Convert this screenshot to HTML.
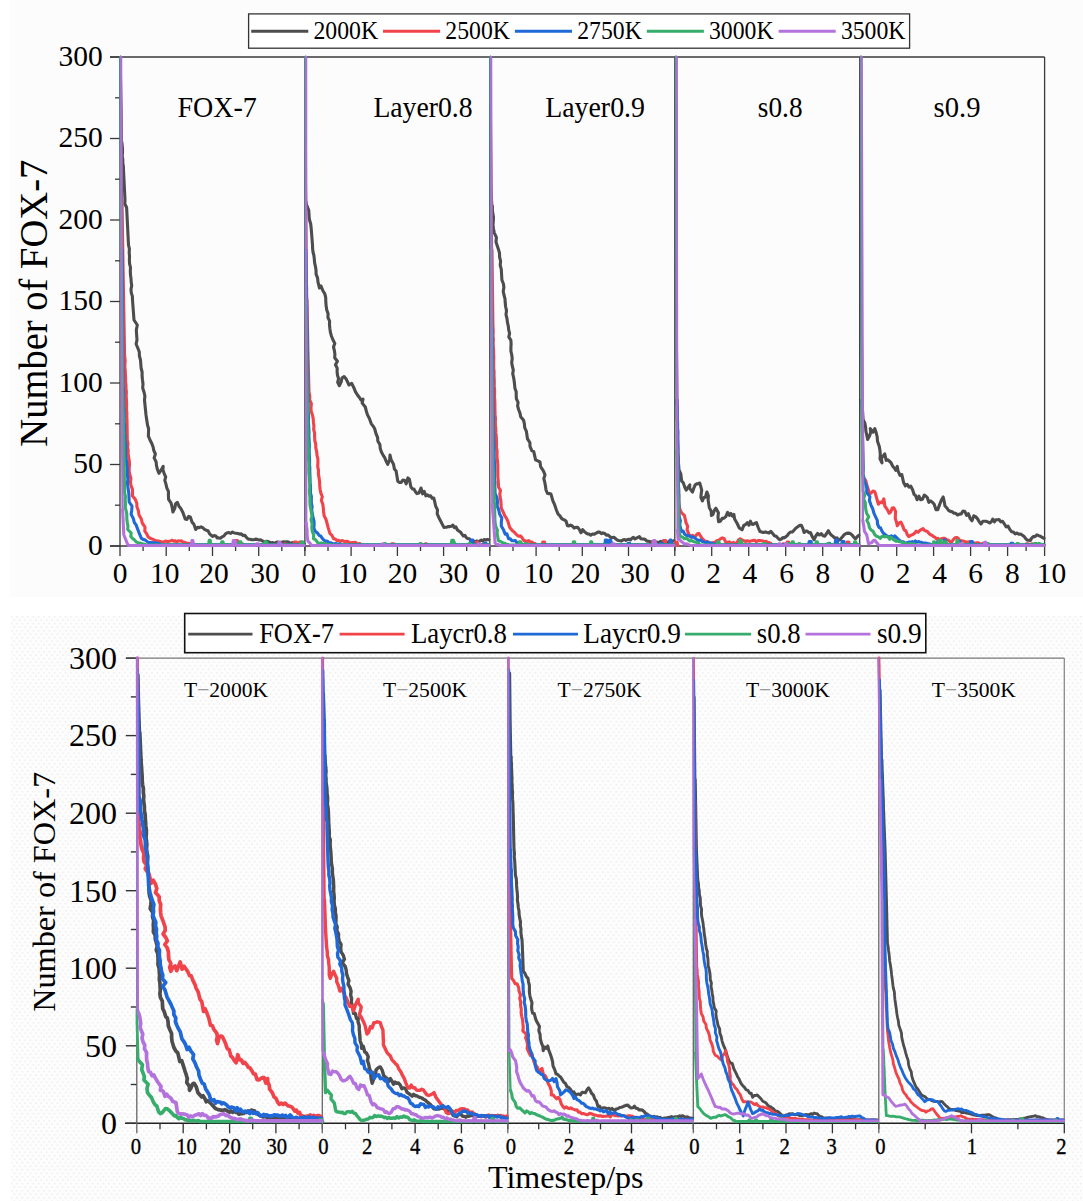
<!DOCTYPE html>
<html><head><meta charset="utf-8"><style>html,body{margin:0;padding:0;background:#fff;overflow:hidden}svg{display:block}</style></head>
<body><svg width="1083" height="1201" viewBox="0 0 1083 1201"><defs><pattern id="dots" width="5.4" height="7" patternUnits="userSpaceOnUse">
<rect width="5.4" height="7" fill="#fdfdfd"/><rect x="0" y="0" width="1.4" height="1.4" fill="#ececec"/><rect x="2.7" y="3.5" width="1.4" height="1.4" fill="#ececec"/></pattern></defs>
<rect x="0" y="0" width="1083" height="1201" fill="#ffffff"/>
<rect x="10" y="0" width="1073" height="597" fill="#fcfcfc"/>
<rect x="11" y="616" width="1072" height="585" fill="url(#dots)"/>
<g id="topaxes">
<line x1="110.0" y1="57.0" x2="1044.6" y2="57.0" stroke="#3a3a3a" stroke-width="1.3"/>
<line x1="1044.6" y1="57.0" x2="1044.6" y2="546.0" stroke="#3a3a3a" stroke-width="1.3"/>
<line x1="110.0" y1="546.0" x2="1044.6" y2="546.0" stroke="#3a3a3a" stroke-width="1.3"/>
<line x1="110.0" y1="546.0" x2="120.0" y2="546.0" stroke="#3a3a3a" stroke-width="1.3"/>
<line x1="115.0" y1="505.2" x2="120.0" y2="505.2" stroke="#3a3a3a" stroke-width="1.3"/>
<line x1="110.0" y1="464.5" x2="120.0" y2="464.5" stroke="#3a3a3a" stroke-width="1.3"/>
<line x1="115.0" y1="423.8" x2="120.0" y2="423.8" stroke="#3a3a3a" stroke-width="1.3"/>
<line x1="110.0" y1="383.0" x2="120.0" y2="383.0" stroke="#3a3a3a" stroke-width="1.3"/>
<line x1="115.0" y1="342.2" x2="120.0" y2="342.2" stroke="#3a3a3a" stroke-width="1.3"/>
<line x1="110.0" y1="301.5" x2="120.0" y2="301.5" stroke="#3a3a3a" stroke-width="1.3"/>
<line x1="115.0" y1="260.8" x2="120.0" y2="260.8" stroke="#3a3a3a" stroke-width="1.3"/>
<line x1="110.0" y1="220.0" x2="120.0" y2="220.0" stroke="#3a3a3a" stroke-width="1.3"/>
<line x1="115.0" y1="179.2" x2="120.0" y2="179.2" stroke="#3a3a3a" stroke-width="1.3"/>
<line x1="110.0" y1="138.5" x2="120.0" y2="138.5" stroke="#3a3a3a" stroke-width="1.3"/>
<line x1="115.0" y1="97.8" x2="120.0" y2="97.8" stroke="#3a3a3a" stroke-width="1.3"/>
<line x1="110.0" y1="57.0" x2="120.0" y2="57.0" stroke="#3a3a3a" stroke-width="1.3"/>
<text x="102.8" y="554.6" font-size="29.5" text-anchor="end" font-family="Liberation Serif" >0</text>
<text x="102.8" y="473.1" font-size="29.5" text-anchor="end" font-family="Liberation Serif" >50</text>
<text x="102.8" y="391.6" font-size="29.5" text-anchor="end" font-family="Liberation Serif" >100</text>
<text x="102.8" y="310.1" font-size="29.5" text-anchor="end" font-family="Liberation Serif" >150</text>
<text x="102.8" y="228.6" font-size="29.5" text-anchor="end" font-family="Liberation Serif" >200</text>
<text x="102.8" y="147.1" font-size="29.5" text-anchor="end" font-family="Liberation Serif" >250</text>
<text x="102.8" y="65.6" font-size="29.5" text-anchor="end" font-family="Liberation Serif" >300</text>
<line x1="120.0" y1="57.0" x2="120.0" y2="556.0" stroke="#3a3a3a" stroke-width="1.3"/>
<line x1="143.1" y1="546.0" x2="143.1" y2="551.0" stroke="#3a3a3a" stroke-width="1.3"/>
<line x1="166.2" y1="546.0" x2="166.2" y2="556.0" stroke="#3a3a3a" stroke-width="1.3"/>
<line x1="189.3" y1="546.0" x2="189.3" y2="551.0" stroke="#3a3a3a" stroke-width="1.3"/>
<line x1="212.5" y1="546.0" x2="212.5" y2="556.0" stroke="#3a3a3a" stroke-width="1.3"/>
<line x1="235.6" y1="546.0" x2="235.6" y2="551.0" stroke="#3a3a3a" stroke-width="1.3"/>
<line x1="258.7" y1="546.0" x2="258.7" y2="556.0" stroke="#3a3a3a" stroke-width="1.3"/>
<line x1="281.8" y1="546.0" x2="281.8" y2="551.0" stroke="#3a3a3a" stroke-width="1.3"/>
<line x1="304.9" y1="546.0" x2="304.9" y2="551.0" stroke="#3a3a3a" stroke-width="1.3"/>
<text x="120.0" y="582.6" font-size="29.5" text-anchor="middle" font-family="Liberation Serif" >0</text>
<text x="164.8" y="582.6" font-size="29.5" text-anchor="middle" font-family="Liberation Serif" >10</text>
<text x="214.0" y="582.6" font-size="29.5" text-anchor="middle" font-family="Liberation Serif" >20</text>
<text x="265.0" y="582.6" font-size="29.5" text-anchor="middle" font-family="Liberation Serif" >30</text>
<line x1="304.9" y1="57.0" x2="304.9" y2="556.0" stroke="#3a3a3a" stroke-width="1.3"/>
<line x1="328.0" y1="546.0" x2="328.0" y2="551.0" stroke="#3a3a3a" stroke-width="1.3"/>
<line x1="351.1" y1="546.0" x2="351.1" y2="556.0" stroke="#3a3a3a" stroke-width="1.3"/>
<line x1="374.3" y1="546.0" x2="374.3" y2="551.0" stroke="#3a3a3a" stroke-width="1.3"/>
<line x1="397.4" y1="546.0" x2="397.4" y2="556.0" stroke="#3a3a3a" stroke-width="1.3"/>
<line x1="420.5" y1="546.0" x2="420.5" y2="551.0" stroke="#3a3a3a" stroke-width="1.3"/>
<line x1="443.6" y1="546.0" x2="443.6" y2="556.0" stroke="#3a3a3a" stroke-width="1.3"/>
<line x1="466.7" y1="546.0" x2="466.7" y2="551.0" stroke="#3a3a3a" stroke-width="1.3"/>
<line x1="489.8" y1="546.0" x2="489.8" y2="551.0" stroke="#3a3a3a" stroke-width="1.3"/>
<text x="308.8" y="582.6" font-size="29.5" text-anchor="middle" font-family="Liberation Serif" >0</text>
<text x="352.6" y="582.6" font-size="29.5" text-anchor="middle" font-family="Liberation Serif" >10</text>
<text x="402.4" y="582.6" font-size="29.5" text-anchor="middle" font-family="Liberation Serif" >20</text>
<text x="453.5" y="582.6" font-size="29.5" text-anchor="middle" font-family="Liberation Serif" >30</text>
<line x1="489.8" y1="57.0" x2="489.8" y2="556.0" stroke="#3a3a3a" stroke-width="1.3"/>
<line x1="513.0" y1="546.0" x2="513.0" y2="551.0" stroke="#3a3a3a" stroke-width="1.3"/>
<line x1="536.1" y1="546.0" x2="536.1" y2="556.0" stroke="#3a3a3a" stroke-width="1.3"/>
<line x1="559.2" y1="546.0" x2="559.2" y2="551.0" stroke="#3a3a3a" stroke-width="1.3"/>
<line x1="582.3" y1="546.0" x2="582.3" y2="556.0" stroke="#3a3a3a" stroke-width="1.3"/>
<line x1="605.4" y1="546.0" x2="605.4" y2="551.0" stroke="#3a3a3a" stroke-width="1.3"/>
<line x1="628.5" y1="546.0" x2="628.5" y2="556.0" stroke="#3a3a3a" stroke-width="1.3"/>
<line x1="651.6" y1="546.0" x2="651.6" y2="551.0" stroke="#3a3a3a" stroke-width="1.3"/>
<line x1="674.8" y1="546.0" x2="674.8" y2="551.0" stroke="#3a3a3a" stroke-width="1.3"/>
<text x="492.9" y="582.6" font-size="29.5" text-anchor="middle" font-family="Liberation Serif" >0</text>
<text x="538.6" y="582.6" font-size="29.5" text-anchor="middle" font-family="Liberation Serif" >10</text>
<text x="585.3" y="582.6" font-size="29.5" text-anchor="middle" font-family="Liberation Serif" >20</text>
<text x="635.0" y="582.6" font-size="29.5" text-anchor="middle" font-family="Liberation Serif" >30</text>
<line x1="674.8" y1="57.0" x2="674.8" y2="556.0" stroke="#3a3a3a" stroke-width="1.3"/>
<line x1="693.3" y1="546.0" x2="693.3" y2="551.0" stroke="#3a3a3a" stroke-width="1.3"/>
<line x1="711.7" y1="546.0" x2="711.7" y2="556.0" stroke="#3a3a3a" stroke-width="1.3"/>
<line x1="730.2" y1="546.0" x2="730.2" y2="551.0" stroke="#3a3a3a" stroke-width="1.3"/>
<line x1="748.7" y1="546.0" x2="748.7" y2="556.0" stroke="#3a3a3a" stroke-width="1.3"/>
<line x1="767.2" y1="546.0" x2="767.2" y2="551.0" stroke="#3a3a3a" stroke-width="1.3"/>
<line x1="785.7" y1="546.0" x2="785.7" y2="556.0" stroke="#3a3a3a" stroke-width="1.3"/>
<line x1="804.2" y1="546.0" x2="804.2" y2="551.0" stroke="#3a3a3a" stroke-width="1.3"/>
<line x1="822.7" y1="546.0" x2="822.7" y2="556.0" stroke="#3a3a3a" stroke-width="1.3"/>
<line x1="841.2" y1="546.0" x2="841.2" y2="551.0" stroke="#3a3a3a" stroke-width="1.3"/>
<line x1="859.7" y1="546.0" x2="859.7" y2="551.0" stroke="#3a3a3a" stroke-width="1.3"/>
<text x="677.5" y="582.6" font-size="29.5" text-anchor="middle" font-family="Liberation Serif" >0</text>
<text x="713.6" y="582.6" font-size="29.5" text-anchor="middle" font-family="Liberation Serif" >2</text>
<text x="749.9" y="582.6" font-size="29.5" text-anchor="middle" font-family="Liberation Serif" >4</text>
<text x="786.5" y="582.6" font-size="29.5" text-anchor="middle" font-family="Liberation Serif" >6</text>
<text x="822.9" y="582.6" font-size="29.5" text-anchor="middle" font-family="Liberation Serif" >8</text>
<line x1="859.7" y1="57.0" x2="859.7" y2="556.0" stroke="#3a3a3a" stroke-width="1.3"/>
<line x1="878.2" y1="546.0" x2="878.2" y2="551.0" stroke="#3a3a3a" stroke-width="1.3"/>
<line x1="896.7" y1="546.0" x2="896.7" y2="556.0" stroke="#3a3a3a" stroke-width="1.3"/>
<line x1="915.2" y1="546.0" x2="915.2" y2="551.0" stroke="#3a3a3a" stroke-width="1.3"/>
<line x1="933.6" y1="546.0" x2="933.6" y2="556.0" stroke="#3a3a3a" stroke-width="1.3"/>
<line x1="952.1" y1="546.0" x2="952.1" y2="551.0" stroke="#3a3a3a" stroke-width="1.3"/>
<line x1="970.6" y1="546.0" x2="970.6" y2="556.0" stroke="#3a3a3a" stroke-width="1.3"/>
<line x1="989.1" y1="546.0" x2="989.1" y2="551.0" stroke="#3a3a3a" stroke-width="1.3"/>
<line x1="1007.6" y1="546.0" x2="1007.6" y2="556.0" stroke="#3a3a3a" stroke-width="1.3"/>
<line x1="1026.1" y1="546.0" x2="1026.1" y2="551.0" stroke="#3a3a3a" stroke-width="1.3"/>
<line x1="1044.6" y1="546.0" x2="1044.6" y2="556.0" stroke="#3a3a3a" stroke-width="1.3"/>
<text x="867.1" y="582.6" font-size="29.5" text-anchor="middle" font-family="Liberation Serif" >0</text>
<text x="903.2" y="582.6" font-size="29.5" text-anchor="middle" font-family="Liberation Serif" >2</text>
<text x="939.5" y="582.6" font-size="29.5" text-anchor="middle" font-family="Liberation Serif" >4</text>
<text x="975.7" y="582.6" font-size="29.5" text-anchor="middle" font-family="Liberation Serif" >6</text>
<text x="1012.3" y="582.6" font-size="29.5" text-anchor="middle" font-family="Liberation Serif" >8</text>
<text x="1051.6" y="582.6" font-size="29.5" text-anchor="middle" font-family="Liberation Serif" >10</text>
</g>
<text x="217.1" y="117.3" font-size="28.6" text-anchor="middle" font-family="Liberation Serif" textLength="79.4" lengthAdjust="spacingAndGlyphs" >FOX-7</text>
<text x="423.0" y="117.3" font-size="28.6" text-anchor="middle" font-family="Liberation Serif" textLength="99.2" lengthAdjust="spacingAndGlyphs" >Layer0.8</text>
<text x="595.1" y="117.3" font-size="28.6" text-anchor="middle" font-family="Liberation Serif" textLength="99.8" lengthAdjust="spacingAndGlyphs" >Layer0.9</text>
<text x="780.2" y="117.3" font-size="28.6" text-anchor="middle" font-family="Liberation Serif" textLength="44.7" lengthAdjust="spacingAndGlyphs" >s0.8</text>
<text x="957.0" y="117.3" font-size="28.6" text-anchor="middle" font-family="Liberation Serif" textLength="46.9" lengthAdjust="spacingAndGlyphs" >s0.9</text>
<text transform="translate(46.5,446.7) rotate(-90)" font-size="39" font-family="Liberation Serif" textLength="287" lengthAdjust="spacingAndGlyphs">Number of FOX-7</text>
<polyline points="120.5,57.0 120.8,74.0 121.5,110.0 121.8,142.0" fill="none" stroke="#4d4d4d" stroke-width="2.325" stroke-linejoin="round" stroke-linecap="round"/>
<polyline points="121.8,142.0 122.2,145.5 122.5,149.0 122.5,152.5 122.2,156.0 122.8,159.5 122.8,163.0 123.4,166.5 123.5,170.0 125.0,200.0 124.8,203.8 126.6,207.5 126.8,211.2 127.0,215.0 128.5,245.0 129.4,248.8 129.2,252.5 129.5,256.2 129.4,260.0 129.6,263.8 130.5,267.5 130.3,271.2 130.5,275.0 131.0,278.6 131.2,282.1 131.7,285.7 131.0,289.3 131.3,292.9 132.4,296.4 132.5,300.0 134.0,320.0 137.3,325.0 136.3,330.0 137.0,340.0 136.1,344.0 137.8,348.0 139.3,352.0 139.4,356.0 140.5,360.0 140.8,364.0 141.1,368.0 142.1,372.0 142.1,376.0 142.5,380.0 143.0,384.0 142.7,388.0 144.0,392.0 144.9,396.0 144.5,400.0 146.0,415.0 147.5,425.0 148.6,428.8 148.5,432.5 148.4,436.2 150.0,440.0 151.8,443.5 153.1,447.0 153.8,450.5 155.4,454.0 154.1,457.9 156.1,461.7 156.5,465.6 157.4,469.4 158.9,473.3 161.1,470.2 163.2,466.3 162.9,469.8 164.1,473.3 165.7,476.9 164.8,480.4 165.9,483.9 166.8,487.8 168.5,491.6 168.4,495.5 168.6,499.3 171.1,503.2 172.2,507.6 172.9,512.0 174.9,508.0 175.5,504.0 177.3,502.3 179.0,506.2 180.8,508.4 183.0,512.8 185.2,519.0 186.9,519.4 188.7,516.3 190.4,517.2 192.2,522.4 193.9,524.3 195.7,529.5 197.5,527.3 199.2,527.6 201.0,526.8 202.7,527.7 204.5,529.3 206.2,530.2 208.0,530.8 209.7,533.9 211.2,535.3 212.7,536.4 214.2,535.6 215.8,536.0 217.3,538.0 218.8,537.9 220.3,538.2 222.0,536.9 223.8,536.1 225.5,533.9 227.3,532.8 229.0,532.6 230.8,533.4 232.5,532.0 234.3,533.0 236.1,533.2 237.8,533.6 239.6,534.1 241.3,533.9 243.1,535.6 244.8,535.2 246.6,537.6 248.3,539.1 250.1,539.3 251.9,539.8 253.6,539.7 255.4,539.1 257.1,539.4 258.9,540.0 260.6,539.9 262.4,540.9 264.1,541.8 265.9,541.4 267.6,541.3 269.4,542.1 271.1,542.9 272.9,542.6 274.4,543.3 275.9,542.5 277.4,542.1 278.9,542.3 280.4,542.4 281.9,542.2 283.4,541.8 285.2,542.1 286.9,541.9 288.7,542.1 290.4,543.6 292.2,542.6 293.7,543.3 295.3,542.6 296.8,543.6 298.4,543.1 299.9,543.8 301.4,543.7 303.0,544.2 304.5,544.4" fill="none" stroke="#4d4d4d" stroke-width="3.1" stroke-linejoin="round" stroke-linecap="round"/>
<polyline points="120.5,57.0 121.0,120.0 122.0,200.0" fill="none" stroke="#f0434a" stroke-width="2.325" stroke-linejoin="round" stroke-linecap="round"/>
<polyline points="122.0,200.0 123.0,265.0 124.5,350.0 124.5,353.5 124.7,357.0 125.2,360.5 124.9,364.0 124.9,367.5 125.3,371.0 125.4,374.5 125.6,378.0 125.6,381.5 126.0,385.0 126.0,388.5 126.4,392.0 126.2,395.5 126.3,399.0 126.6,402.5 126.6,406.0 126.5,409.5 126.9,413.0 126.8,416.5 127.0,420.0 127.3,440.0 128.0,443.5 127.6,447.0 128.2,450.5 128.1,454.0 128.7,457.5 129.3,461.0 129.5,464.5 129.2,468.0 129.2,471.5 129.9,475.0 130.9,478.5 130.5,482.0 131.0,485.6 132.4,489.1 132.5,492.6 132.5,496.1 135.4,499.6 136.8,503.2 136.9,506.7 138.4,510.8 139.0,514.9 141.3,519.0 142.3,523.1 145.0,527.1 144.8,531.2 146.6,533.7 148.3,536.9 150.1,538.2 151.8,538.9 153.6,539.7 155.3,540.4 157.1,540.9 158.6,541.1 160.1,541.4 161.6,541.8 163.1,542.1 164.6,541.5 166.1,541.1 167.6,541.8 169.1,541.3 170.6,541.0 172.1,540.2 173.7,541.3 175.2,540.7 176.7,542.1 178.2,540.9 179.9,541.0 181.6,540.9 183.3,542.2 184.9,542.4 186.6,543.2 188.3,543.2 190.0,543.5 191.2,545.4 192.4,545.4 193.6,545.4 194.8,545.4 196.0,545.4 197.2,545.4 198.4,545.4 199.6,545.4 200.8,545.4 202.0,545.4 203.2,545.4 204.4,545.4 205.6,545.4 206.8,545.4 208.0,545.4 209.2,545.4 210.4,545.4 211.6,545.4 212.8,545.4 214.0,545.4 215.2,545.4 216.4,545.4 217.6,545.4 218.8,545.4 220.0,545.4 221.2,545.4 222.4,545.4 223.6,545.4 224.8,545.4 226.0,545.4 227.2,545.4 228.4,545.4 229.6,545.4 230.8,545.4 232.0,545.4 233.2,545.4 234.4,545.4 235.6,545.4 236.2,540.5 237.4,540.5 238.4,545.4 239.8,545.4 241.0,545.4 241.6,543.8 242.6,543.8 243.5,545.4 245.2,545.4 246.4,545.4 247.6,545.4 248.8,545.4 250.0,545.4 251.2,545.4 252.4,545.4 253.6,545.4 254.8,545.4 256.0,545.4 257.2,545.4 258.4,545.4 259.6,545.4 260.8,545.4 262.0,545.4 263.2,545.4 264.4,545.4 265.6,545.4 266.8,545.4 268.0,545.4 269.2,545.4 270.4,545.4 271.6,545.4 272.8,545.4 274.0,545.4 275.2,545.4 276.4,545.4 277.6,545.4 278.8,545.4 280.0,545.4 281.2,545.4 282.4,545.4 283.6,545.4 284.2,543.8 285.7,543.8 286.1,545.4 287.8,545.4 289.0,545.4 290.2,545.4 291.4,545.4 292.6,545.4 293.8,545.4 294.4,542.1 296.5,542.1 296.6,545.4 298.0,545.4 299.2,545.4 299.8,542.1 301.4,542.1 302.2,545.4 303.4,545.4 304.0,545.4" fill="none" stroke="#f0434a" stroke-width="3.1" stroke-linejoin="round" stroke-linecap="round"/>
<polyline points="120.5,57.0 121.0,150.0 122.0,250.0" fill="none" stroke="#1f68d8" stroke-width="2.325" stroke-linejoin="round" stroke-linecap="round"/>
<polyline points="122.0,250.0 123.0,380.0 123.2,383.5 123.4,387.1 123.5,390.6 123.7,394.1 123.5,397.6 123.6,401.2 123.7,404.7 123.8,408.2 124.2,411.8 124.2,415.3 124.2,418.8 124.3,422.4 124.7,425.9 124.5,429.4 124.7,432.9 125.0,436.5 125.0,440.0 125.6,443.5 125.8,447.0 125.5,450.5 125.6,454.0 125.8,457.5 126.5,461.0 126.7,464.5 127.2,468.0 127.3,471.5 127.3,475.0 127.9,478.8 127.5,482.6 127.8,486.4 128.4,490.3 128.9,494.1 129.0,497.9 129.2,502.0 132.0,506.1 131.7,510.2 131.1,514.3 133.3,518.4 134.3,522.5 136.1,524.9 137.8,529.5 139.6,534.2 141.3,538.2 143.1,539.4 144.8,539.7 146.6,541.1 148.3,542.4 150.1,542.6 151.8,542.5 153.4,542.7 155.1,542.8 156.7,543.4 158.3,543.3 160.0,544.0 161.2,544.9 162.4,544.9 163.6,544.9 164.8,544.9 166.0,544.9 167.2,544.9 168.4,544.9 169.6,544.9 170.8,544.9 172.0,544.9 173.2,544.9 174.4,544.9 175.6,544.9 176.8,544.9 178.0,544.9 179.2,544.9 180.4,544.9 181.6,544.9 182.8,544.9 184.0,544.9 185.2,544.9 186.4,544.9 187.6,544.9 188.8,544.9 190.0,544.9 191.2,544.9 192.4,544.9 193.6,544.9 194.8,544.9 196.0,544.9 197.2,544.9 198.4,544.9 199.6,544.9 200.8,544.9 202.0,544.9 203.2,544.9 204.4,544.9 205.6,544.9 206.8,544.9 208.0,544.9 209.2,544.9 210.4,544.9 211.6,544.9 212.8,544.9 214.0,544.9 215.2,544.9 216.4,544.9 217.6,544.9 218.8,544.9 220.0,544.9 221.2,544.9 222.4,544.9 223.6,544.9 224.8,544.9 226.0,544.9 227.2,544.9 228.4,544.9 229.6,544.9 230.8,544.9 232.0,544.9 233.2,544.9 234.4,544.9 235.6,544.9 236.8,544.9 238.0,544.9 238.6,543.3 239.8,543.3 240.4,544.9 242.2,544.9 243.4,544.9 244.6,544.9 245.8,544.9 247.0,544.9 248.2,544.9 249.4,544.9 250.6,544.9 251.8,544.9 253.0,544.9 254.2,544.9 255.4,544.9 256.6,544.9 257.8,544.9 259.0,544.9 260.2,544.9 261.4,544.9 262.6,544.9 263.8,544.9 265.0,544.9 266.2,544.9 267.4,544.9 268.6,544.9 269.8,544.9 271.0,544.9 272.2,544.9 273.4,544.9 274.6,544.9 275.8,544.9 277.0,544.9 278.2,544.9 279.4,544.9 280.6,544.9 281.8,544.9 283.0,544.9 284.2,544.9 285.4,544.9 286.6,544.9 287.8,544.9 289.0,544.9 290.2,544.9 291.4,544.9 292.6,544.9 293.8,544.9 295.0,544.9 296.2,544.9 297.4,544.9 298.6,544.9 299.8,544.9 301.0,544.9 302.2,544.9 303.4,544.9 304.0,544.9" fill="none" stroke="#1f68d8" stroke-width="3.1" stroke-linejoin="round" stroke-linecap="round"/>
<polyline points="120.5,57.0 121.0,200.0" fill="none" stroke="#37ad6c" stroke-width="2.325" stroke-linejoin="round" stroke-linecap="round"/>
<polyline points="121.0,200.0 122.5,380.0 123.8,440.0 124.6,492.6 125.4,496.3 125.2,500.1 125.5,503.8 125.3,507.6 126.3,511.3 126.8,515.0 126.8,518.8 127.3,522.5 127.9,526.0 127.7,529.5 131.2,533.0 130.8,536.5 132.6,538.5 134.3,539.8 136.1,541.8 137.9,542.7 139.7,543.0 141.4,543.5 143.2,543.9 145.0,544.5 146.2,545.1 147.4,545.1 148.6,545.1 149.8,545.1 151.0,545.1 152.2,545.1 153.4,545.1 154.6,545.1 155.8,545.1 157.0,545.1 158.2,545.1 159.4,545.1 160.6,545.1 161.8,545.1 163.0,545.1 164.2,545.1 165.4,545.1 166.6,545.1 167.8,545.1 169.0,545.1 170.2,545.1 171.4,545.1 172.6,545.1 173.8,545.1 175.0,545.1 176.2,545.1 177.4,545.1 178.6,545.1 179.8,545.1 181.0,545.1 182.2,545.1 183.4,545.1 184.6,545.1 185.8,545.1 187.0,545.1 188.2,545.1 189.4,545.1 190.6,545.1 191.8,545.1 193.0,545.1 194.2,545.1 195.4,545.1 196.6,545.1 197.8,545.1 199.0,545.1 200.2,545.1 201.4,545.1 202.6,545.1 203.8,545.1 205.0,545.1 206.2,545.1 207.4,545.1 208.6,545.1 209.2,540.2 210.2,540.2 210.8,545.1 212.8,545.1 214.0,545.1 215.2,545.1 216.4,545.1 217.6,545.1 218.8,545.1 220.0,545.1 221.2,545.1 221.8,541.8 222.9,541.8 224.0,545.1 225.4,545.1 226.6,545.1 227.8,545.1 229.0,545.1 230.2,545.1 231.4,545.1 232.6,545.1 233.8,545.1 235.0,545.1 236.2,545.1 237.4,545.1 238.6,545.1 239.2,541.8 240.8,541.8 241.5,545.1 242.8,545.1 244.0,545.1 245.2,545.1 246.4,545.1 247.6,545.1 248.8,545.1 250.0,545.1 251.2,545.1 252.4,545.1 253.6,545.1 254.8,545.1 256.0,545.1 257.2,545.1 258.4,545.1 259.6,545.1 260.8,545.1 262.0,545.1 263.2,545.1 264.4,545.1 265.0,541.8 266.3,541.8 267.4,545.1 268.6,545.1 269.8,545.1 271.0,545.1 272.2,545.1 273.4,545.1 274.6,545.1 275.8,545.1 277.0,545.1 278.2,545.1 279.4,545.1 280.6,545.1 281.8,545.1 283.0,545.1 284.2,545.1 285.4,545.1 286.6,545.1 287.8,545.1 289.0,545.1 290.2,545.1 291.4,545.1 292.6,545.1 293.8,545.1 295.0,545.1 296.2,545.1 297.4,545.1 298.6,545.1 299.8,545.1 301.0,545.1 301.6,541.8 302.6,541.8 303.4,545.1 304.0,545.1" fill="none" stroke="#37ad6c" stroke-width="3.1" stroke-linejoin="round" stroke-linecap="round"/>
<polyline points="121.1,57.0 121.6,300.0 122.1,440.0 122.6,510.0" fill="none" stroke="#a872d2" stroke-width="2.325" stroke-linejoin="round" stroke-linecap="round"/>
<polyline points="122.6,510.0 123.8,534.7 127.3,543.5 128.5,545.5 129.7,545.5 130.9,545.5 132.1,545.5 132.5,545.5 133.7,545.5 134.9,545.5 136.1,545.5 137.3,545.5 138.5,545.5 139.7,545.5 140.9,545.5 142.1,545.5 143.3,545.5 144.5,545.5 145.7,545.5 146.9,545.5 148.1,545.5 149.3,545.5 150.5,545.5 151.7,545.5 152.9,545.5 154.1,545.5 155.3,545.5 156.5,545.5 157.7,545.5 158.9,545.5 160.1,545.5 161.3,545.5 162.5,545.5 163.7,545.5 164.9,545.5 166.1,545.5 167.3,545.5 168.5,545.5 169.7,545.5 170.9,545.5 172.1,545.5 173.3,545.5 174.5,545.5 175.7,545.5 176.9,545.5 178.1,545.5 179.3,545.5 180.5,545.5 181.7,545.5 182.9,545.5 184.1,545.5 185.3,545.5 186.5,545.5 187.7,545.5 188.9,545.5 190.1,545.5 191.3,545.5 191.9,540.6 192.9,540.6 193.6,545.5 195.5,545.5 196.7,545.5 197.9,545.5 199.1,545.5 200.3,545.5 201.5,545.5 202.7,545.5 203.9,545.5 205.1,545.5 206.3,545.5 207.5,545.5 208.7,545.5 209.9,545.5 211.1,545.5 212.3,545.5 213.5,545.5 214.7,545.5 215.9,545.5 217.1,545.5 218.3,545.5 219.5,545.5 220.7,545.5 221.9,545.5 223.1,545.5 224.3,545.5 225.5,545.5 226.7,545.5 227.9,545.5 229.1,545.5 230.3,545.5 231.5,545.5 232.7,545.5 233.3,540.6 235.1,540.6 235.9,545.5 236.9,545.5 238.1,545.5 239.3,545.5 240.5,545.5 241.7,545.5 242.9,545.5 244.1,545.5 245.3,545.5 246.5,545.5 247.7,545.5 248.9,545.5 250.1,545.5 251.3,545.5 252.5,545.5 253.7,545.5 254.9,545.5 256.1,545.5 256.7,543.9 258.1,543.9 258.7,545.5 260.3,545.5 261.5,545.5 262.7,545.5 263.9,545.5 265.1,545.5 266.3,545.5 267.5,545.5 268.7,545.5 269.9,545.5 271.1,545.5 272.3,545.5 273.5,545.5 274.7,545.5 275.9,545.5 277.1,545.5 278.3,545.5 278.9,542.2 279.9,542.2 281.4,545.5 282.5,545.5 283.7,545.5 284.9,545.5 286.1,545.5 287.3,545.5 288.5,545.5 289.7,545.5 290.9,545.5 292.1,545.5 293.3,545.5 294.5,545.5 295.7,545.5 296.9,545.5 298.1,545.5 299.3,545.5 300.5,545.5 301.7,545.5 302.9,545.5 304.0,545.5" fill="none" stroke="#b472dd" stroke-width="3.1" stroke-linejoin="round" stroke-linecap="round"/>
<polyline points="305.5,151.0 306.0,200.0 307.1,206.0" fill="none" stroke="#4d4d4d" stroke-width="2.325" stroke-linejoin="round" stroke-linecap="round"/>
<polyline points="307.1,206.0 308.8,210.5 309.0,215.0 309.4,219.5 310.7,224.0 311.2,228.5 312.5,245.0 312.6,248.5 313.0,252.0 313.9,255.5 314.3,259.0 314.6,262.7 315.4,266.3 316.0,270.0 316.1,274.1 317.6,278.1 318.0,282.2 319.5,288.0 321.0,286.0 322.9,290.8 324.7,293.5 325.7,297.5 325.8,301.6 326.1,305.6 326.7,309.7 328.1,313.7 327.9,317.4 329.6,321.2 329.5,324.9 329.9,328.7 330.4,332.4 331.5,336.2 332.9,339.8 334.8,343.4 333.5,347.0 334.4,350.6 334.9,354.2 334.7,357.7 337.4,361.2 335.5,364.7 337.2,368.2 337.1,371.7 337.5,375.2 338.6,378.7 337.7,382.2 339.4,385.7 341.2,381.9 342.0,378.0 344.1,376.5 346.1,378.9 349.0,385.0 351.7,383.4 353.6,387.2 355.4,391.6 357.3,394.7 359.2,397.2 361.1,400.1 363.0,399.2 362.2,403.1 365.3,407.0 366.3,411.0 367.5,414.9 369.4,418.5 371.2,423.6 373.1,426.2 374.6,428.5 376.1,434.0 377.6,437.4 377.8,441.0 379.9,444.6 380.2,448.2 381.3,451.8 383.2,455.4 384.7,457.7 386.2,461.4 387.7,464.4 389.7,459.7 390.0,455.0 391.1,459.6 393.5,464.3 394.4,468.9 396.1,470.9 397.8,481.3 399.5,482.5 401.2,482.4 402.9,480.0 404.5,480.2 406.2,483.8 407.9,477.9 409.4,479.4 410.9,487.0 412.4,488.9 413.9,489.1 415.4,491.7 416.9,493.6 418.9,493.1 421.0,488.0 422.6,493.8 424.3,491.4 425.9,495.9 427.5,494.9 429.1,496.3 430.6,495.8 432.2,498.3 433.8,498.1 434.8,502.1 435.6,506.0 437.5,509.9 437.2,513.9 438.9,517.7 440.5,520.8 442.2,524.1 443.9,527.4 445.4,527.2 446.9,527.2 448.4,526.5 449.9,526.6 451.4,526.2 452.9,525.1 454.4,527.6 455.9,526.8 457.4,530.0 458.9,531.1 460.4,532.0 461.9,534.1 463.4,536.0 464.9,535.4 466.4,537.8 467.9,538.5 469.4,538.8 470.9,540.9 472.4,540.9 473.9,541.4 475.4,541.6 476.9,540.9 478.4,542.1 479.9,540.9 481.4,540.0 482.9,540.8 484.4,539.5 485.9,540.1 487.4,539.4 488.9,539.7" fill="none" stroke="#4d4d4d" stroke-width="3.1" stroke-linejoin="round" stroke-linecap="round"/>
<polyline points="305.5,57.0 306.0,200.0 307.0,300.0" fill="none" stroke="#f0434a" stroke-width="2.325" stroke-linejoin="round" stroke-linecap="round"/>
<polyline points="307.0,300.0 307.9,349.7 309.0,392.4 309.8,396.1 309.7,399.9 311.4,403.6 311.0,407.4 311.1,411.1 312.4,414.9 313.2,418.5 313.4,422.2 313.9,425.9 313.7,429.5 314.6,433.1 314.6,436.8 314.8,440.5 315.7,444.1 315.8,447.9 316.7,451.6 317.0,455.4 317.9,459.1 317.9,462.9 317.7,466.6 318.5,470.4 318.4,474.1 319.1,477.9 319.6,481.7 319.7,485.4 320.1,489.2 320.8,492.9 322.3,496.7 321.4,500.4 322.8,504.2 323.3,507.9 323.6,511.7 324.1,515.6 326.0,519.5 327.1,523.5 328.1,527.4 330.0,533.6 331.8,535.1 333.7,538.7 335.3,539.1 336.9,540.5 338.5,540.2 340.2,541.8 341.8,540.6 343.4,541.1 345.0,541.9 346.5,541.2 348.0,541.6 349.5,542.4 351.0,542.7 352.5,542.5 354.0,542.5 355.5,542.3 357.0,543.6 358.5,544.0 360.0,543.5 361.2,545.4 362.4,545.4 363.6,545.4 364.8,545.4 366.0,545.4 367.2,545.4 368.4,545.4 369.6,545.4 370.8,545.4 372.0,545.4 373.2,545.4 374.4,545.4 375.6,545.4 376.8,545.4 378.0,545.4 379.2,545.4 380.4,545.4 381.6,545.4 382.8,545.4 384.0,545.4 385.2,545.4 386.4,545.4 387.6,545.4 388.8,545.4 390.0,545.4 391.2,545.4 391.8,543.8 393.7,543.8 394.2,545.4 395.4,545.4 396.6,545.4 397.8,545.4 399.0,545.4 400.2,545.4 401.4,545.4 402.6,545.4 403.8,545.4 405.0,545.4 406.2,545.4 407.4,545.4 408.6,545.4 409.8,545.4 411.0,545.4 412.2,545.4 413.4,545.4 414.6,545.4 415.8,545.4 417.0,545.4 418.2,545.4 419.4,545.4 420.0,543.8 421.2,543.8 422.4,545.4 423.6,545.4 424.8,545.4 425.4,543.8 426.4,543.8 427.9,545.4 429.0,545.4 430.2,545.4 431.4,545.4 432.6,545.4 433.8,545.4 435.0,545.4 436.2,545.4 437.4,545.4 438.6,545.4 439.8,545.4 441.0,545.4 442.2,545.4 443.4,545.4 444.6,545.4 445.8,545.4 447.0,545.4 448.2,545.4 449.4,545.4 450.6,545.4 451.8,545.4 453.0,545.4 454.2,545.4 455.4,545.4 456.6,545.4 457.8,545.4 459.0,545.4 460.2,545.4 461.4,545.4 462.6,545.4 463.8,545.4 465.0,545.4 466.2,545.4 467.4,545.4 468.6,545.4 469.8,545.4 471.0,545.4 472.2,545.4 473.4,545.4 474.6,545.4 475.8,545.4 476.4,542.1 477.5,542.1 478.3,545.4 480.0,545.4 481.2,545.4 482.4,545.4 483.0,543.8 484.4,543.8 484.6,545.4 486.6,545.4 487.8,545.4 489.0,545.4 489.0,545.4" fill="none" stroke="#f0434a" stroke-width="3.1" stroke-linejoin="round" stroke-linecap="round"/>
<polyline points="305.5,57.0 306.0,250.0" fill="none" stroke="#1f68d8" stroke-width="2.325" stroke-linejoin="round" stroke-linecap="round"/>
<polyline points="306.0,250.0 306.0,253.6 306.1,257.1 306.1,260.7 306.1,264.2 306.3,267.8 306.2,271.4 306.4,274.9 306.4,278.5 306.4,282.0 306.5,285.6 306.6,289.2 306.5,292.7 306.6,296.3 306.7,299.8 306.7,303.4 306.8,307.0 306.8,310.5 306.8,314.1 306.9,317.6 307.0,321.2 307.0,324.8 307.0,328.3 307.2,331.9 307.2,335.4 307.2,339.0 307.3,342.6 307.3,346.1 307.3,349.7 307.5,353.2 307.4,356.8 307.5,360.4 307.5,363.9 307.5,367.5 307.6,371.0 307.8,374.6 307.7,378.2 307.7,381.7 307.8,385.3 307.8,388.8 307.9,392.4 308.0,396.0 308.0,399.6 308.1,403.2 308.1,406.8 308.1,410.4 308.4,414.0 308.6,417.6 308.4,421.2 308.6,424.8 308.8,428.4 309.0,432.0 308.9,435.6 309.0,439.2 309.3,442.8 309.3,446.4 309.2,450.0 309.3,453.6 309.4,457.2 309.6,460.8 309.5,464.4 309.8,468.0 309.8,471.6 309.9,475.2 310.1,478.8 310.1,482.4 310.5,485.9 310.5,489.4 310.4,492.9 311.4,496.4 311.3,499.9 311.4,503.4 312.1,506.9 311.7,510.4 312.4,513.9 313.0,517.5 314.0,521.1 314.1,524.7 313.8,528.3 315.7,531.9 317.4,532.9 319.1,535.3 320.8,536.2 322.5,538.7 324.2,540.3 325.9,541.1 327.5,541.2 329.2,543.1 330.7,542.8 332.3,543.4 333.8,543.9 335.4,543.5 336.9,543.8 338.5,544.2 340.0,544.0 341.2,544.9 342.4,544.9 343.6,544.9 344.8,544.9 346.0,544.9 347.2,544.9 348.4,544.9 349.6,544.9 350.8,544.9 352.0,544.9 353.2,544.9 354.4,544.9 355.6,544.9 356.8,544.9 358.0,544.9 359.2,544.9 360.4,544.9 361.6,544.9 362.8,544.9 364.0,544.9 365.2,544.9 366.4,544.9 367.6,544.9 368.8,544.9 370.0,544.9 371.2,544.9 372.4,544.9 373.6,544.9 374.8,544.9 376.0,544.9 377.2,544.9 378.4,544.9 379.6,544.9 380.8,544.9 382.0,544.9 383.2,544.9 384.4,544.9 385.6,544.9 386.8,544.9 388.0,544.9 389.2,544.9 390.4,544.9 391.6,544.9 392.8,544.9 394.0,544.9 395.2,544.9 396.4,544.9 397.6,544.9 398.8,544.9 400.0,544.9 401.2,544.9 402.4,544.9 403.6,544.9 404.8,544.9 406.0,544.9 407.2,544.9 408.4,544.9 409.6,544.9 410.8,544.9 412.0,544.9 413.2,544.9 414.4,544.9 415.6,544.9 416.8,544.9 418.0,544.9 419.2,544.9 420.4,544.9 421.6,544.9 422.8,544.9 424.0,544.9 425.2,544.9 426.4,544.9 427.6,544.9 428.8,544.9 430.0,544.9 431.2,544.9 432.4,544.9 433.6,544.9 434.8,544.9 436.0,544.9 437.2,544.9 438.4,544.9 439.6,544.9 440.8,544.9 442.0,544.9 443.2,544.9 444.4,544.9 445.6,544.9 446.8,544.9 448.0,544.9 449.2,544.9 450.4,544.9 451.6,544.9 452.2,541.6 453.7,541.6 454.8,544.9 455.8,544.9 457.0,544.9 458.2,544.9 459.4,544.9 460.6,544.9 461.8,544.9 463.0,544.9 464.2,544.9 465.4,544.9 466.6,544.9 467.8,544.9 469.0,544.9 470.2,544.9 470.8,540.0 472.8,540.0 473.0,544.9 474.4,544.9 475.6,544.9 476.8,544.9 478.0,544.9 479.2,544.9 480.4,544.9 481.6,544.9 482.8,544.9 484.0,544.9 484.6,543.3 486.1,543.3 486.8,544.9 488.2,544.9 489.0,544.9" fill="none" stroke="#1f68d8" stroke-width="3.1" stroke-linejoin="round" stroke-linecap="round"/>
<polyline points="305.5,57.0 306.0,300.0" fill="none" stroke="#37ad6c" stroke-width="2.325" stroke-linejoin="round" stroke-linecap="round"/>
<polyline points="306.0,300.0 306.2,303.5 306.1,307.0 306.1,310.6 306.2,314.1 306.2,317.6 306.3,321.1 306.4,324.7 306.3,328.2 306.4,331.7 306.6,335.2 306.5,338.8 306.6,342.3 306.6,345.8 306.7,349.3 306.6,352.8 306.8,356.4 306.8,359.9 306.9,363.4 306.8,366.9 307.1,370.5 307.0,374.0 307.0,377.5 307.1,381.0 307.1,384.6 307.2,388.1 307.3,391.6 307.3,395.1 307.4,398.6 307.4,402.2 307.4,405.7 307.6,409.2 307.6,412.7 307.6,416.3 307.6,419.8 307.8,423.3 307.7,426.8 307.9,430.4 308.0,433.9 307.9,437.4 308.1,441.0 308.3,444.5 308.3,448.1 308.4,451.6 308.3,455.2 308.4,458.7 308.8,462.3 308.9,465.8 308.8,469.4 308.9,472.9 309.3,476.5 309.5,480.0 309.7,483.6 309.7,487.1 309.5,490.7 309.6,494.2 310.0,497.8 309.9,501.3 310.1,504.9 310.7,508.7 311.4,512.4 312.0,516.2 311.0,519.9 312.2,523.7 311.8,527.4 312.2,531.2 313.7,534.9 313.5,538.7 315.0,539.3 316.5,540.8 318.0,543.1 319.5,543.3 321.0,542.9 322.5,543.5 324.0,543.6 325.5,543.8 327.0,544.8 328.5,544.3 330.0,544.5 331.2,545.1 332.4,545.1 333.6,545.1 334.8,545.1 336.0,545.1 337.2,545.1 338.4,545.1 339.6,545.1 340.8,545.1 342.0,545.1 343.2,545.1 344.4,545.1 345.6,545.1 346.8,545.1 348.0,545.1 349.2,545.1 350.4,545.1 351.6,545.1 352.8,545.1 354.0,545.1 355.2,545.1 356.4,545.1 357.6,545.1 358.8,545.1 360.0,545.1 361.2,545.1 362.4,545.1 363.6,545.1 364.8,545.1 366.0,545.1 367.2,545.1 368.4,545.1 369.6,545.1 370.8,545.1 372.0,545.1 373.2,545.1 374.4,545.1 375.6,545.1 376.8,545.1 378.0,545.1 379.2,545.1 380.4,545.1 381.6,545.1 382.8,545.1 384.0,545.1 384.6,543.5 385.4,543.5 386.9,545.1 388.2,545.1 389.4,545.1 390.6,545.1 391.8,545.1 393.0,545.1 394.2,545.1 395.4,545.1 396.6,545.1 397.8,545.1 399.0,545.1 400.2,545.1 401.4,545.1 402.6,545.1 403.8,545.1 405.0,545.1 406.2,545.1 407.4,545.1 408.6,545.1 409.8,545.1 411.0,545.1 412.2,545.1 413.4,545.1 414.6,545.1 415.8,545.1 417.0,545.1 418.2,545.1 419.4,545.1 420.0,543.5 420.7,543.5 421.6,545.1 423.6,545.1 424.8,545.1 426.0,545.1 427.2,545.1 428.4,545.1 429.6,545.1 430.8,545.1 432.0,545.1 433.2,545.1 434.4,545.1 435.6,545.1 436.8,545.1 438.0,545.1 439.2,545.1 440.4,545.1 441.6,545.1 442.8,545.1 444.0,545.1 445.2,545.1 446.4,545.1 447.6,545.1 448.8,545.1 450.0,545.1 451.2,545.1 451.8,540.2 453.4,540.2 454.3,545.1 455.4,545.1 456.6,545.1 457.8,545.1 459.0,545.1 460.2,545.1 461.4,545.1 462.6,545.1 463.8,545.1 465.0,545.1 466.2,545.1 467.4,545.1 468.6,545.1 469.2,543.5 470.3,543.5 471.2,545.1 472.8,545.1 474.0,545.1 475.2,545.1 476.4,545.1 477.6,545.1 478.8,545.1 480.0,545.1 481.2,545.1 482.4,545.1 483.6,545.1 484.8,545.1 486.0,545.1 487.2,545.1 488.4,545.1 489.0,545.1" fill="none" stroke="#37ad6c" stroke-width="3.1" stroke-linejoin="round" stroke-linecap="round"/>
<polyline points="306.1,57.0 306.2,522.9" fill="none" stroke="#a872d2" stroke-width="2.325" stroke-linejoin="round" stroke-linecap="round"/>
<polyline points="306.2,522.9 306.6,526.5 307.1,530.1 307.1,533.7 307.3,537.3 307.9,540.9 309.5,542.8 311.2,545.0 312.4,545.5 313.6,545.5 314.8,545.5 316.0,545.5 317.2,545.5 318.4,545.5 319.6,545.5 320.8,545.5 322.0,545.5 323.2,545.5 324.4,545.5 325.6,545.5 326.8,545.5 328.0,545.5 329.2,545.5 330.4,545.5 331.6,545.5 332.8,545.5 334.0,545.5 335.2,545.5 336.4,545.5 337.6,545.5 338.8,545.5 340.0,545.5 341.2,545.5 342.4,545.5 343.6,545.5 344.8,545.5 346.0,545.5 347.2,545.5 348.4,545.5 349.6,545.5 350.8,545.5 352.0,545.5 353.2,545.5 354.4,545.5 355.6,545.5 356.8,545.5 358.0,545.5 359.2,545.5 360.4,545.5 361.6,545.5 362.8,545.5 364.0,545.5 365.2,545.5 366.4,545.5 367.6,545.5 368.8,545.5 370.0,545.5 371.2,545.5 372.4,545.5 373.6,545.5 374.8,545.5 376.0,545.5 377.2,545.5 378.4,545.5 379.6,545.5 380.8,545.5 382.0,545.5 382.6,543.9 383.6,543.9 384.9,545.5 386.2,545.5 387.4,545.5 388.6,545.5 389.8,545.5 391.0,545.5 392.2,545.5 393.4,545.5 394.6,545.5 395.8,545.5 397.0,545.5 398.2,545.5 399.4,545.5 400.6,545.5 401.8,545.5 403.0,545.5 404.2,545.5 405.4,545.5 406.6,545.5 407.8,545.5 409.0,545.5 410.2,545.5 411.4,545.5 412.6,545.5 413.8,545.5 415.0,545.5 416.2,545.5 417.4,545.5 418.6,545.5 419.8,545.5 421.0,545.5 422.2,545.5 423.4,545.5 424.6,545.5 425.8,545.5 427.0,545.5 428.2,545.5 429.4,545.5 430.6,545.5 431.8,545.5 433.0,545.5 434.2,545.5 435.4,545.5 436.6,545.5 437.8,545.5 439.0,545.5 440.2,545.5 441.4,545.5 442.6,545.5 443.8,545.5 445.0,545.5 446.2,545.5 447.4,545.5 448.6,545.5 449.8,545.5 451.0,545.5 452.2,545.5 453.4,545.5 454.6,545.5 455.8,545.5 457.0,545.5 458.2,545.5 459.4,545.5 460.6,545.5 461.8,545.5 463.0,545.5 464.2,545.5 465.4,545.5 466.6,545.5 467.8,545.5 469.0,545.5 470.2,545.5 471.4,545.5 472.6,545.5 473.8,545.5 475.0,545.5 476.2,545.5 477.4,545.5 478.0,543.9 479.9,543.9 480.5,545.5 481.6,545.5 482.8,545.5 484.0,545.5 485.2,545.5 486.4,545.5 487.6,545.5 488.8,545.5 489.0,545.5" fill="none" stroke="#b472dd" stroke-width="3.1" stroke-linejoin="round" stroke-linecap="round"/>
<polyline points="490.8,108.0 491.2,190.0 492.3,206.0" fill="none" stroke="#4d4d4d" stroke-width="2.325" stroke-linejoin="round" stroke-linecap="round"/>
<polyline points="492.3,206.0 492.4,209.8 492.8,213.6 493.5,217.4 493.3,221.2 493.0,225.0 493.5,228.8 494.2,232.6 496.4,237.3 496.0,242.0 498.3,248.9 499.5,253.0 499.6,257.1 500.6,261.1 500.2,265.2 501.3,269.3 501.9,280.0 503.4,283.8 503.9,287.5 503.2,291.2 504.0,295.0 505.0,298.8 505.2,302.5 505.6,306.5 506.5,310.6 506.0,314.6 507.0,318.7 507.5,322.7 508.3,326.2 508.7,329.8 509.6,333.3 508.8,336.9 510.9,340.4 511.1,344.0 510.9,347.5 510.9,351.2 511.8,355.0 512.2,358.7 511.7,362.5 512.3,366.2 513.3,370.0 512.7,373.7 513.6,377.5 514.2,381.2 514.6,384.7 514.9,388.3 516.2,391.8 516.2,395.3 516.4,398.8 518.1,402.4 517.6,405.9 518.6,409.5 520.0,413.1 520.7,416.7 523.6,420.3 524.4,423.9 524.7,427.6 526.4,431.4 526.9,435.1 527.5,438.9 529.9,442.6 530.0,446.4 531.9,450.8 533.7,451.4 535.6,459.9 537.8,460.9 540.0,462.0 540.6,466.6 543.5,471.1 545.0,474.9 543.8,478.7 544.8,482.4 545.5,486.2 546.0,490.0 547.5,493.5 549.1,493.6 551.0,494.1 552.8,500.6 554.7,504.9 556.4,510.0 558.1,514.1 559.8,515.6 561.5,518.4 563.0,519.3 564.5,520.0 566.0,521.0 567.5,525.7 569.0,525.9 570.5,525.1 572.3,526.0 574.1,528.1 575.8,527.4 577.6,527.3 579.4,529.6 581.0,532.7 582.6,529.6 584.2,531.5 585.9,532.9 587.5,533.9 589.1,534.0 590.7,535.2 592.5,534.0 594.4,534.1 596.2,533.1 598.0,532.0 599.7,532.1 601.4,533.7 603.0,532.9 604.7,533.4 606.4,535.2 607.9,534.9 609.4,536.2 610.9,537.5 612.4,537.6 613.9,537.3 615.4,538.5 616.9,539.8 618.4,540.5 619.9,540.8 621.4,541.1 622.9,540.0 624.4,539.5 625.9,540.4 627.4,539.5 628.9,539.2 630.4,540.0 631.9,538.3 633.4,537.4 634.9,539.0 636.4,538.2 637.9,537.4 639.4,536.7 640.9,538.7 642.4,539.0 643.9,539.0 645.4,539.7 646.9,541.2 648.4,541.2 649.9,541.6 651.4,541.9 652.9,541.9 654.4,541.7 655.9,541.9 657.4,542.2 658.9,542.6 660.4,541.4 661.9,541.9 663.4,540.9 664.9,541.9 666.4,541.9 667.9,542.6 669.4,541.0 670.9,541.6 672.4,541.4 673.9,540.8" fill="none" stroke="#4d4d4d" stroke-width="3.1" stroke-linejoin="round" stroke-linecap="round"/>
<polyline points="490.5,57.0 491.0,150.0 492.0,250.0" fill="none" stroke="#f0434a" stroke-width="2.325" stroke-linejoin="round" stroke-linecap="round"/>
<polyline points="492.0,250.0 492.9,325.0 493.1,328.6 493.2,332.2 493.0,335.8 493.4,339.4 493.2,343.0 493.3,346.6 493.6,350.2 493.6,353.8 493.8,357.4 493.7,361.0 493.7,364.6 493.7,368.2 494.1,371.7 494.0,375.3 494.2,378.9 494.3,382.5 494.2,386.1 494.6,389.7 494.6,393.3 494.5,396.9 494.8,400.5 494.9,404.1 494.9,407.7 495.0,411.3 495.1,414.9 495.5,418.5 495.3,422.1 495.5,425.7 495.8,429.3 495.9,432.9 496.3,436.5 496.4,440.1 496.6,443.7 496.4,447.3 497.1,450.9 497.0,454.5 497.1,458.1 497.6,461.7 497.8,465.3 497.8,468.9 497.8,472.5 497.8,476.1 498.1,479.7 498.4,483.3 498.5,486.9 500.5,490.4 499.8,494.0 500.3,497.5 500.9,501.0 501.0,504.5 501.3,508.1 503.0,511.6 504.7,515.6 506.4,518.1 508.0,521.6 509.7,527.4 511.2,529.2 512.7,531.0 514.2,532.0 515.7,533.9 517.2,535.2 518.7,536.3 520.4,535.9 522.1,537.8 523.8,540.4 525.5,540.8 527.1,541.5 528.7,540.6 530.2,542.2 531.8,541.9 533.4,543.2 535.0,543.5 536.2,545.4 537.4,545.4 538.6,545.4 539.8,545.4 541.0,545.4 542.2,545.4 542.8,542.1 544.5,542.1 545.0,545.4 546.4,545.4 547.6,545.4 548.8,545.4 550.0,545.4 551.2,545.4 552.4,545.4 553.6,545.4 554.8,545.4 556.0,545.4 557.2,545.4 558.4,545.4 559.6,545.4 560.8,545.4 562.0,545.4 563.2,545.4 564.4,545.4 565.6,545.4 566.8,545.4 568.0,545.4 569.2,545.4 570.4,545.4 571.6,545.4 572.8,545.4 574.0,545.4 575.2,545.4 576.4,545.4 577.6,545.4 578.8,545.4 580.0,545.4 581.2,545.4 582.4,545.4 583.6,545.4 584.8,545.4 586.0,545.4 587.2,545.4 588.4,545.4 589.6,545.4 590.8,545.4 592.0,545.4 593.2,545.4 594.4,545.4 595.6,545.4 596.8,545.4 598.0,545.4 599.2,545.4 600.4,545.4 601.6,545.4 602.8,545.4 604.0,545.4 605.2,545.4 606.4,545.4 607.6,545.4 608.8,545.4 610.0,545.4 611.2,545.4 612.4,545.4 613.6,545.4 614.8,545.4 616.0,545.4 617.2,545.4 618.4,545.4 619.6,545.4 620.8,545.4 622.0,545.4 623.2,545.4 624.4,545.4 625.6,545.4 626.8,545.4 628.0,545.4 629.2,545.4 630.4,545.4 631.6,545.4 632.8,545.4 634.0,545.4 635.2,545.4 636.4,545.4 637.6,545.4 638.8,545.4 640.0,545.4 641.2,545.4 642.4,545.4 643.6,545.4 644.8,545.4 646.0,545.4 647.2,545.4 648.4,545.4 649.6,545.4 650.8,545.4 652.0,545.4 652.6,542.1 653.7,542.1 654.6,545.4 656.2,545.4 657.4,545.4 658.6,545.4 659.8,545.4 661.0,545.4 662.2,545.4 663.4,545.4 664.0,540.5 665.6,540.5 665.9,545.4 667.6,545.4 668.8,545.4 670.0,545.4 671.2,545.4 672.4,545.4 673.6,545.4 674.8,545.4 675.4,542.1 677.1,542.1 677.8,545.4" fill="none" stroke="#f0434a" stroke-width="3.1" stroke-linejoin="round" stroke-linecap="round"/>
<polyline points="490.5,57.0 491.0,200.0 492.2,330.0" fill="none" stroke="#1f68d8" stroke-width="2.325" stroke-linejoin="round" stroke-linecap="round"/>
<polyline points="492.2,330.0 492.9,403.6 492.8,407.2 493.1,410.8 493.1,414.4 493.5,418.0 493.3,421.6 493.2,425.2 493.3,428.8 493.7,432.4 493.7,436.0 493.6,439.6 494.0,443.2 494.0,446.8 494.2,450.4 494.1,454.0 494.1,457.6 494.4,461.2 494.5,464.8 494.6,468.4 494.6,472.0 494.5,475.6 494.5,479.2 495.0,482.8 494.8,486.4 495.0,490.0 495.1,493.6 497.0,497.7 497.5,501.7 497.1,505.8 498.7,509.8 499.6,513.9 501.8,517.9 501.3,522.0 501.3,526.0 503.6,530.1 505.2,534.1 506.9,533.9 508.6,538.7 510.3,538.9 512.0,540.8 513.7,540.8 515.3,540.5 517.0,542.8 518.7,542.9 520.3,543.4 522.0,544.0 523.2,544.9 524.4,544.9 525.6,544.9 526.8,544.9 528.0,544.9 529.2,544.9 530.4,544.9 531.6,544.9 532.8,544.9 534.0,544.9 535.2,544.9 536.4,544.9 537.6,544.9 538.8,544.9 540.0,544.9 541.2,544.9 542.4,544.9 543.6,544.9 544.8,544.9 546.0,544.9 547.2,544.9 548.4,544.9 549.6,544.9 550.8,544.9 552.0,544.9 553.2,544.9 554.4,544.9 555.6,544.9 556.8,544.9 558.0,544.9 559.2,544.9 560.4,544.9 561.6,544.9 562.8,544.9 564.0,544.9 565.2,544.9 566.4,544.9 567.6,544.9 568.8,544.9 570.0,544.9 571.2,544.9 572.4,544.9 573.6,544.9 574.8,544.9 576.0,544.9 577.2,544.9 578.4,544.9 579.6,544.9 580.8,544.9 582.0,544.9 583.2,544.9 584.4,544.9 585.6,544.9 586.8,544.9 588.0,544.9 589.2,544.9 590.4,544.9 591.6,544.9 592.8,544.9 594.0,544.9 595.2,544.9 596.4,544.9 597.6,544.9 598.8,544.9 600.0,544.9 601.2,544.9 602.4,544.9 603.6,544.9 604.8,544.9 605.4,540.0 606.8,540.0 607.4,544.9 609.0,544.9 609.6,540.0 610.6,540.0 612.0,544.9 613.2,544.9 614.4,544.9 615.6,544.9 616.8,544.9 618.0,544.9 619.2,544.9 620.4,544.9 621.6,544.9 622.8,544.9 624.0,544.9 625.2,544.9 626.4,544.9 627.6,544.9 628.2,543.3 629.8,543.3 629.8,544.9 631.8,544.9 633.0,544.9 634.2,544.9 635.4,544.9 636.6,544.9 637.8,544.9 639.0,544.9 640.2,544.9 641.4,544.9 642.6,544.9 643.8,544.9 645.0,544.9 646.2,544.9 647.4,544.9 648.6,544.9 649.8,544.9 651.0,544.9 652.2,544.9 653.4,544.9 654.6,544.9 655.8,544.9 657.0,544.9 658.2,544.9 659.4,544.9 660.6,544.9 661.2,543.3 662.3,543.3 663.6,544.9 664.8,544.9 666.0,544.9 667.2,544.9 668.4,544.9 669.6,544.9 670.2,540.0 671.0,540.0 672.2,544.9 673.8,544.9 674.0,544.9" fill="none" stroke="#1f68d8" stroke-width="3.1" stroke-linejoin="round" stroke-linecap="round"/>
<polyline points="490.5,57.0 491.0,250.0" fill="none" stroke="#37ad6c" stroke-width="2.325" stroke-linejoin="round" stroke-linecap="round"/>
<polyline points="491.0,250.0 491.0,253.6 491.1,257.1 491.1,260.7 491.1,264.2 491.2,267.8 491.2,271.3 491.2,274.9 491.2,278.5 491.3,282.0 491.3,285.6 491.3,289.1 491.4,292.7 491.4,296.2 491.5,299.8 491.5,303.4 491.5,306.9 491.5,310.5 491.6,314.0 491.6,317.6 491.7,321.2 491.7,324.7 491.7,328.3 491.8,331.8 491.8,335.4 491.9,338.9 491.8,342.5 491.8,346.1 491.9,349.6 492.0,353.2 491.9,356.7 492.0,360.3 492.1,363.8 492.1,367.4 492.1,371.0 492.1,374.5 492.1,378.1 492.2,381.6 492.3,385.2 492.3,388.7 492.2,392.3 492.3,395.9 492.3,399.4 492.3,403.0 492.3,406.5 492.4,410.1 492.5,413.7 492.5,417.2 492.6,420.8 492.6,424.3 492.6,427.9 492.7,431.4 492.6,435.0 492.7,438.6 492.7,442.1 492.8,445.7 492.8,449.2 492.9,452.8 492.9,456.3 492.9,459.9 492.9,463.4 493.1,466.9 493.3,470.4 493.5,473.9 493.5,477.4 493.6,480.9 493.7,484.4 494.0,487.9 493.8,491.4 494.1,494.9 494.4,498.4 494.2,501.9 494.9,505.4 494.6,508.9 494.7,512.4 494.8,515.9 494.9,519.4 495.1,522.9 495.8,526.5 497.4,530.1 497.1,533.6 497.8,537.2 498.5,540.8 500.1,541.2 501.7,542.3 503.2,542.9 504.8,543.2 506.4,544.3 508.0,544.5 509.2,545.1 510.4,545.1 511.6,545.1 512.8,545.1 514.0,545.1 515.2,545.1 516.4,545.1 517.6,545.1 518.8,545.1 519.4,541.8 520.6,541.8 521.5,545.1 523.0,545.1 524.2,545.1 524.8,543.5 525.8,543.5 526.9,545.1 528.4,545.1 529.6,545.1 530.8,545.1 532.0,545.1 533.2,545.1 534.4,545.1 535.6,545.1 536.8,545.1 538.0,545.1 539.2,545.1 540.4,545.1 541.6,545.1 542.8,545.1 544.0,545.1 545.2,545.1 546.4,545.1 547.6,545.1 548.8,545.1 550.0,545.1 551.2,545.1 552.4,545.1 553.6,545.1 554.8,545.1 556.0,545.1 557.2,545.1 558.4,545.1 559.6,545.1 560.8,545.1 562.0,545.1 563.2,545.1 564.4,545.1 565.6,545.1 566.8,545.1 568.0,545.1 569.2,545.1 570.4,545.1 571.6,545.1 572.8,545.1 573.4,541.8 574.5,541.8 575.5,545.1 577.0,545.1 578.2,545.1 579.4,545.1 580.6,545.1 581.8,545.1 583.0,545.1 584.2,545.1 585.4,545.1 586.6,545.1 587.8,545.1 589.0,545.1 590.2,545.1 590.8,541.8 591.5,541.8 592.6,545.1 594.4,545.1 595.6,545.1 596.8,545.1 598.0,545.1 599.2,545.1 600.4,545.1 601.6,545.1 602.8,545.1 604.0,545.1 605.2,545.1 606.4,545.1 607.6,545.1 608.8,545.1 610.0,545.1 611.2,545.1 612.4,545.1 613.6,545.1 614.8,545.1 616.0,545.1 617.2,545.1 618.4,545.1 619.6,545.1 620.8,545.1 622.0,545.1 623.2,545.1 624.4,545.1 625.6,545.1 626.8,545.1 628.0,545.1 629.2,545.1 630.4,545.1 631.6,545.1 632.8,545.1 634.0,545.1 635.2,545.1 636.4,545.1 637.6,545.1 638.8,545.1 640.0,545.1 641.2,545.1 642.4,545.1 643.6,545.1 644.8,545.1 646.0,545.1 647.2,545.1 648.4,545.1 649.6,545.1 650.8,545.1 652.0,545.1 653.2,545.1 654.4,545.1 655.6,545.1 656.8,545.1 658.0,545.1 659.2,545.1 660.4,545.1 661.6,545.1 662.8,545.1 664.0,545.1 665.2,545.1 666.4,545.1 667.6,545.1 668.8,545.1 670.0,545.1 671.2,545.1 672.4,545.1 673.6,545.1 674.0,545.1" fill="none" stroke="#37ad6c" stroke-width="3.1" stroke-linejoin="round" stroke-linecap="round"/>
<polyline points="491.1,57.0 491.8,400.0 492.3,504.9" fill="none" stroke="#a872d2" stroke-width="2.325" stroke-linejoin="round" stroke-linecap="round"/>
<polyline points="492.3,504.9 495.1,543.1 496.7,544.4 498.4,544.6 500.0,545.5 501.2,545.5 502.4,545.5 503.6,545.5 504.8,545.5 506.0,545.5 507.2,545.5 508.4,545.5 509.6,545.5 510.8,545.5 512.0,545.5 513.2,545.5 514.4,545.5 515.6,545.5 516.8,545.5 518.0,545.5 519.2,545.5 520.4,545.5 521.6,545.5 522.8,545.5 524.0,545.5 525.2,545.5 526.4,545.5 527.6,545.5 528.8,545.5 530.0,545.5 531.2,545.5 532.4,545.5 533.6,545.5 534.8,545.5 536.0,545.5 537.2,545.5 538.4,545.5 539.6,545.5 540.8,545.5 542.0,545.5 543.2,545.5 544.4,545.5 545.6,545.5 546.8,545.5 548.0,545.5 549.2,545.5 550.4,545.5 551.6,545.5 552.8,545.5 554.0,545.5 555.2,545.5 556.4,545.5 557.6,545.5 558.8,545.5 560.0,545.5 561.2,545.5 562.4,545.5 563.6,545.5 564.8,545.5 566.0,545.5 567.2,545.5 568.4,545.5 569.6,545.5 570.8,545.5 572.0,545.5 573.2,545.5 574.4,545.5 575.6,545.5 576.8,545.5 578.0,545.5 579.2,545.5 580.4,545.5 581.6,545.5 582.8,545.5 584.0,545.5 585.2,545.5 586.4,545.5 587.6,545.5 588.8,545.5 590.0,545.5 591.2,545.5 592.4,545.5 593.6,545.5 594.8,545.5 596.0,545.5 597.2,545.5 598.4,545.5 599.6,545.5 600.8,545.5 602.0,545.5 603.2,545.5 604.4,545.5 605.6,545.5 606.8,545.5 608.0,545.5 609.2,545.5 610.4,545.5 611.6,545.5 612.2,543.9 614.1,543.9 614.3,545.5 615.8,545.5 617.0,545.5 618.2,545.5 619.4,545.5 620.6,545.5 621.8,545.5 623.0,545.5 624.2,545.5 625.4,545.5 626.6,545.5 627.8,545.5 629.0,545.5 630.2,545.5 631.4,545.5 632.6,545.5 633.8,545.5 635.0,545.5 636.2,545.5 637.4,545.5 638.6,545.5 639.8,545.5 641.0,545.5 642.2,545.5 643.4,545.5 644.6,545.5 645.8,545.5 647.0,545.5 648.2,545.5 649.4,545.5 650.6,545.5 651.8,545.5 653.0,545.5 653.6,540.6 654.9,540.6 656.2,545.5 657.2,545.5 658.4,545.5 659.6,545.5 660.8,545.5 662.0,545.5 663.2,545.5 664.4,545.5 665.6,545.5 666.8,545.5 668.0,545.5 669.2,545.5 670.4,545.5 671.6,545.5 672.8,545.5 674.0,545.5" fill="none" stroke="#b472dd" stroke-width="3.1" stroke-linejoin="round" stroke-linecap="round"/>
<polyline points="676.0,57.0 676.5,300.0 677.5,450.0" fill="none" stroke="#4d4d4d" stroke-width="2.325" stroke-linejoin="round" stroke-linecap="round"/>
<polyline points="677.5,450.0 679.0,470.0 680.8,474.0 681.7,481.2 683.2,482.6 684.7,487.0 686.2,490.2 688.0,487.3 689.8,484.8 689.6,488.4 692.5,492.0 693.7,488.4 695.2,484.8 696.7,483.9 698.2,483.7 699.7,483.0 700.8,486.6 701.7,490.2 701.2,493.8 700.9,497.4 702.4,501.0 703.9,497.5 705.4,497.2 706.9,492.0 708.4,495.9 708.1,499.8 708.7,503.7 709.3,507.6 711.3,511.5 711.4,515.4 712.9,514.4 714.4,510.2 715.9,508.2 718.4,512.7 718.0,517.2 718.6,521.7 720.4,521.3 722.2,518.4 724.0,518.1 725.8,516.6 727.6,512.4 729.4,515.4 730.9,513.4 732.4,516.1 733.9,514.5 734.6,519.0 737.2,523.5 739.3,528.0 742.0,529.8 743.8,525.3 745.6,524.5 747.4,522.6 748.9,525.2 750.4,521.2 751.9,524.3 753.4,524.4 754.9,523.1 756.4,522.6 758.2,527.5 760.0,531.6 761.8,532.1 763.6,532.4 765.4,531.9 767.2,532.5 769.0,533.0 770.8,531.3 772.6,533.4 774.4,535.7 776.2,536.3 778.0,538.3 779.8,539.7 781.3,539.1 782.8,537.6 784.3,537.9 785.8,536.7 787.3,535.6 788.8,533.4 790.6,532.0 792.4,532.0 794.2,530.0 796.0,528.0 797.8,526.8 799.6,525.4 801.4,525.3 803.0,528.9 804.1,532.5 805.7,531.1 807.2,531.0 808.8,532.6 810.4,532.5 812.2,536.5 814.0,539.7 815.8,536.0 817.6,533.4 819.4,535.0 821.2,533.6 823.0,535.8 824.8,536.1 826.6,533.5 828.4,530.7 830.2,533.9 832.0,535.6 833.8,537.0 835.4,538.5 837.0,537.9 838.5,540.2 840.1,539.7 841.6,537.7 843.1,536.1 844.6,534.3 846.4,533.4 848.2,533.1 850.0,533.4 851.8,534.8 853.7,537.1 855.5,538.8 857.2,536.7 859.0,535.2" fill="none" stroke="#4d4d4d" stroke-width="3.1" stroke-linejoin="round" stroke-linecap="round"/>
<polyline points="676.0,57.0 677.0,400.0" fill="none" stroke="#f0434a" stroke-width="2.325" stroke-linejoin="round" stroke-linecap="round"/>
<polyline points="677.0,400.0 677.0,403.6 677.3,407.2 677.3,410.8 677.3,414.4 677.2,418.0 677.5,421.6 677.4,425.2 677.6,428.9 677.7,432.5 677.7,436.1 677.7,439.7 677.7,443.3 677.9,446.9 677.9,450.5 678.0,454.1 678.1,457.7 678.2,461.3 678.3,464.9 678.4,468.5 678.5,472.1 678.3,475.7 678.4,479.4 678.5,483.0 678.5,486.6 678.7,490.2 678.8,493.8 678.9,497.4 678.9,501.0 679.0,504.6 679.6,508.2 680.8,511.8 682.6,513.8 684.4,515.4 685.2,519.0 686.0,522.6 687.6,526.2 687.1,529.8 688.9,534.3 690.7,537.0 692.3,535.3 693.9,536.6 695.6,536.1 697.2,534.0 698.8,533.4 700.3,535.6 701.8,538.0 703.3,539.7 704.9,541.3 706.5,541.4 708.0,541.7 709.6,543.3 711.4,543.7 713.2,542.5 715.0,542.3 716.8,540.6 718.6,540.4 720.4,538.8 722.2,537.9 724.0,538.5 725.8,542.3 727.6,542.4 729.1,541.9 730.6,542.9 732.1,543.1 733.6,542.4 735.1,543.6 736.6,543.3 738.4,540.1 740.2,538.8 742.0,540.0 743.8,540.7 745.6,541.5 747.4,540.8 749.2,541.4 751.0,541.0 752.8,540.6 754.6,540.3 756.4,541.7 758.2,540.5 760.0,540.6 761.5,540.7 763.1,541.0 764.6,541.9 766.2,541.3 767.7,542.8 769.3,542.6 770.8,543.3 772.0,545.4 773.2,545.4 774.4,545.4 775.6,545.4 776.8,545.4 778.0,545.4 779.2,545.4 780.0,545.4 781.2,545.4 782.4,545.4 783.0,543.8 784.0,543.8 784.8,545.4 786.6,545.4 787.2,542.1 788.8,542.1 789.7,545.4 790.8,545.4 792.0,545.4 793.2,545.4 794.4,545.4 795.6,545.4 796.8,545.4 798.0,545.4 799.2,545.4 800.4,545.4 801.6,545.4 802.8,545.4 804.0,545.4 805.2,545.4 806.4,545.4 807.6,545.4 808.8,545.4 810.0,545.4 811.2,545.4 812.4,545.4 813.6,545.4 814.8,545.4 816.0,545.4 817.2,545.4 818.4,545.4 819.6,545.4 820.8,545.4 822.0,545.4 823.2,545.4 824.4,545.4 825.6,545.4 826.8,545.4 828.0,545.4 829.2,545.4 830.4,545.4 831.6,545.4 832.8,545.4 834.0,545.4 835.2,545.4 835.8,543.8 837.2,543.8 838.0,545.4 839.4,545.4 840.6,545.4 841.8,545.4 843.0,545.4 844.2,545.4 845.4,545.4 846.6,545.4 847.2,542.1 848.8,542.1 849.7,545.4 850.8,545.4 852.0,545.4 853.2,545.4 854.4,545.4 855.6,545.4 856.8,545.4 858.0,545.4 859.0,545.4" fill="none" stroke="#f0434a" stroke-width="3.1" stroke-linejoin="round" stroke-linecap="round"/>
<polyline points="676.0,57.0 677.0,400.0" fill="none" stroke="#1f68d8" stroke-width="2.325" stroke-linejoin="round" stroke-linecap="round"/>
<polyline points="677.0,400.0 677.0,403.6 677.2,407.1 677.3,410.6 677.2,414.2 677.3,417.8 677.5,421.3 677.6,424.9 677.5,428.4 677.8,431.9 677.7,435.5 677.7,439.1 677.9,442.6 677.9,446.1 678.0,449.7 677.8,453.2 678.1,456.8 678.1,460.4 678.0,463.9 678.3,467.5 678.1,471.0 678.2,474.6 678.3,478.1 678.5,481.7 678.4,485.2 678.6,488.8 678.6,492.3 678.8,495.9 678.7,499.4 678.9,503.0 679.0,506.5 678.8,510.1 679.0,513.6 679.3,517.2 680.4,520.8 679.7,524.4 680.5,528.0 681.7,531.6 683.2,531.1 684.7,534.2 686.2,535.2 688.0,535.9 689.8,535.9 691.6,537.3 693.4,537.0 695.2,538.3 697.0,539.5 698.8,540.6 700.6,539.9 702.4,541.6 704.2,542.1 706.0,542.4 707.5,542.1 709.0,543.4 710.5,542.8 712.0,543.3 713.5,543.7 715.0,544.0 716.2,544.9 717.4,544.9 718.6,544.9 719.8,544.9 721.0,544.9 722.2,544.9 723.4,544.9 724.6,544.9 725.8,544.9 727.0,544.9 728.2,544.9 729.4,544.9 730.6,544.9 731.8,544.9 733.0,544.9 734.2,544.9 735.4,544.9 736.6,544.9 737.8,544.9 739.0,544.9 740.2,544.9 741.4,544.9 742.6,544.9 743.8,544.9 745.0,544.9 746.2,544.9 747.4,544.9 748.6,544.9 749.8,544.9 751.0,544.9 752.2,544.9 753.4,544.9 754.6,544.9 755.8,544.9 757.0,544.9 758.2,544.9 759.4,544.9 760.6,544.9 761.8,544.9 763.0,544.9 764.2,544.9 765.4,544.9 766.6,544.9 767.8,544.9 769.0,544.9 770.2,544.9 771.4,544.9 772.6,544.9 773.8,544.9 775.0,544.9 776.2,544.9 777.4,544.9 778.6,544.9 779.8,544.9 781.0,544.9 782.2,544.9 783.4,544.9 784.6,544.9 785.8,544.9 787.0,544.9 788.2,544.9 789.4,544.9 790.6,544.9 791.8,544.9 793.0,544.9 794.2,544.9 795.4,544.9 796.6,544.9 797.8,544.9 799.0,544.9 800.2,544.9 801.4,544.9 802.6,544.9 803.8,544.9 805.0,544.9 806.2,544.9 807.4,544.9 808.6,544.9 809.2,541.6 811.1,541.6 811.8,544.9 812.8,544.9 814.0,544.9 815.2,544.9 816.4,544.9 817.6,544.9 818.8,544.9 820.0,544.9 821.2,544.9 822.4,544.9 823.6,544.9 824.8,544.9 826.0,544.9 827.2,544.9 828.4,544.9 829.0,543.3 829.7,543.3 830.7,544.9 832.6,544.9 833.8,544.9 835.0,544.9 835.6,540.0 837.3,540.0 837.6,544.9 839.2,544.9 840.4,544.9 841.6,544.9 842.2,541.6 844.0,541.6 844.3,544.9 845.8,544.9 847.0,544.9 848.2,544.9 849.4,544.9 850.6,544.9 851.8,544.9 853.0,544.9 854.2,544.9 855.4,544.9 856.6,544.9 857.8,544.9 859.0,544.9" fill="none" stroke="#1f68d8" stroke-width="3.1" stroke-linejoin="round" stroke-linecap="round"/>
<polyline points="676.0,57.0 677.0,450.0" fill="none" stroke="#37ad6c" stroke-width="2.325" stroke-linejoin="round" stroke-linecap="round"/>
<polyline points="677.0,450.0 677.0,453.5 677.2,457.1 677.3,460.6 677.2,464.2 677.4,467.7 677.7,471.3 677.5,474.8 677.6,478.4 678.0,481.9 677.9,485.5 678.1,489.0 678.0,492.5 678.2,496.1 678.4,499.6 678.5,503.2 678.5,506.7 678.6,510.3 678.7,513.8 678.7,517.4 678.8,520.9 678.9,524.5 679.0,528.0 679.1,532.5 680.8,537.0 682.6,537.0 684.4,538.8 686.2,538.0 688.0,539.5 689.8,541.0 691.6,540.6 693.4,541.5 695.2,542.1 697.0,542.6 698.8,543.3 700.0,545.1 701.2,545.1 702.4,545.1 703.6,545.1 704.8,545.1 706.0,545.1 707.2,545.1 708.4,545.1 709.6,545.1 710.0,545.1 711.2,545.1 712.4,545.1 713.6,545.1 714.8,545.1 716.0,545.1 717.2,545.1 717.8,541.8 719.0,541.8 719.8,545.1 721.4,545.1 722.6,545.1 723.8,545.1 725.0,545.1 726.2,545.1 727.4,545.1 728.6,545.1 729.8,545.1 731.0,545.1 732.2,545.1 733.4,545.1 734.6,545.1 735.8,545.1 737.0,545.1 738.2,545.1 739.4,545.1 740.0,540.2 740.7,540.2 742.5,545.1 743.6,545.1 744.8,545.1 746.0,545.1 747.2,545.1 748.4,545.1 749.6,545.1 750.8,545.1 752.0,545.1 753.2,545.1 754.4,545.1 755.6,545.1 756.8,545.1 758.0,545.1 759.2,545.1 760.4,545.1 761.6,545.1 762.8,545.1 763.4,543.5 765.1,543.5 765.2,545.1 767.0,545.1 768.2,545.1 769.4,545.1 770.6,545.1 771.8,545.1 773.0,545.1 774.2,545.1 775.4,545.1 776.6,545.1 777.8,545.1 779.0,545.1 780.2,545.1 781.4,545.1 782.6,545.1 783.8,545.1 785.0,545.1 786.2,545.1 787.4,545.1 788.0,543.5 789.4,543.5 790.4,545.1 791.6,545.1 792.2,541.8 793.2,541.8 794.4,545.1 795.8,545.1 797.0,545.1 798.2,545.1 798.8,543.5 799.9,543.5 801.2,545.1 802.4,545.1 803.6,545.1 804.8,545.1 806.0,545.1 807.2,545.1 808.4,545.1 809.6,545.1 810.8,545.1 812.0,545.1 813.2,545.1 814.4,545.1 815.6,545.1 816.2,541.8 817.3,541.8 818.4,545.1 819.8,545.1 821.0,545.1 822.2,545.1 823.4,545.1 824.6,545.1 825.8,545.1 827.0,545.1 827.6,543.5 828.7,543.5 829.5,545.1 831.2,545.1 832.4,545.1 833.6,545.1 834.8,545.1 836.0,545.1 837.2,545.1 838.4,545.1 839.6,545.1 840.8,545.1 842.0,545.1 843.2,545.1 844.4,545.1 845.6,545.1 846.8,545.1 848.0,545.1 849.2,545.1 850.4,545.1 851.6,545.1 852.8,545.1 854.0,545.1 854.6,541.8 855.6,541.8 857.1,545.1 858.2,545.1 859.0,545.1" fill="none" stroke="#37ad6c" stroke-width="3.1" stroke-linejoin="round" stroke-linecap="round"/>
<polyline points="676.6,57.0 677.1,400.0 677.6,530.0" fill="none" stroke="#a872d2" stroke-width="2.325" stroke-linejoin="round" stroke-linecap="round"/>
<polyline points="677.6,530.0 678.0,538.8 679.5,539.6 681.1,541.2 682.6,542.4 684.4,544.1 686.2,543.7 688.0,544.4 689.8,545.1 691.0,545.5 692.2,545.5 693.4,545.5 694.6,545.5 695.8,545.5 697.0,545.5 698.2,545.5 699.4,545.5 700.6,545.5 701.8,545.5 702.4,545.5 703.6,545.5 704.8,545.5 706.0,545.5 707.2,545.5 708.4,545.5 709.6,545.5 710.0,545.5 711.2,545.5 712.4,545.5 713.6,545.5 714.8,545.5 716.0,545.5 717.2,545.5 718.4,545.5 719.6,545.5 720.8,545.5 722.0,545.5 723.2,545.5 724.4,545.5 725.6,545.5 726.8,545.5 728.0,545.5 729.2,545.5 730.4,545.5 731.6,545.5 732.8,545.5 734.0,545.5 735.2,545.5 736.4,545.5 737.6,545.5 738.8,545.5 740.0,545.5 741.2,545.5 742.4,545.5 743.6,545.5 744.8,545.5 746.0,545.5 747.2,545.5 748.4,545.5 749.6,545.5 750.8,545.5 752.0,545.5 753.2,545.5 754.4,545.5 755.6,545.5 756.8,545.5 758.0,545.5 759.2,545.5 760.4,545.5 761.6,545.5 762.8,545.5 764.0,545.5 765.2,545.5 766.4,545.5 767.6,545.5 768.8,545.5 770.0,545.5 771.2,545.5 772.4,545.5 773.6,545.5 774.8,545.5 776.0,545.5 777.2,545.5 778.4,545.5 779.0,543.9 780.2,543.9 781.3,545.5 782.6,545.5 783.8,545.5 785.0,545.5 785.6,543.9 786.7,543.9 787.4,545.5 789.2,545.5 790.4,545.5 791.6,545.5 792.8,545.5 794.0,545.5 795.2,545.5 796.4,545.5 797.6,545.5 798.8,545.5 800.0,545.5 801.2,545.5 802.4,545.5 803.6,545.5 804.8,545.5 806.0,545.5 807.2,545.5 808.4,545.5 809.6,545.5 810.8,545.5 812.0,545.5 813.2,545.5 814.4,545.5 815.6,545.5 816.8,545.5 818.0,545.5 819.2,545.5 820.4,545.5 821.6,545.5 822.8,545.5 824.0,545.5 825.2,545.5 826.4,545.5 827.6,545.5 828.8,545.5 830.0,545.5 831.2,545.5 832.4,545.5 833.6,545.5 834.8,545.5 836.0,545.5 837.2,545.5 838.4,545.5 839.6,545.5 840.8,545.5 842.0,545.5 843.2,545.5 844.4,545.5 845.6,545.5 846.8,545.5 848.0,545.5 849.2,545.5 850.4,545.5 851.6,545.5 852.8,545.5 854.0,545.5 855.2,545.5 856.4,545.5 857.6,545.5 858.8,545.5 859.0,545.5" fill="none" stroke="#b472dd" stroke-width="3.1" stroke-linejoin="round" stroke-linecap="round"/>
<polyline points="861.0,57.0 861.5,300.0 862.5,410.0" fill="none" stroke="#4d4d4d" stroke-width="2.325" stroke-linejoin="round" stroke-linecap="round"/>
<polyline points="862.5,410.0 863.1,419.6 864.9,423.2 865.6,427.2 865.9,431.3 866.8,435.3 867.6,439.4 869.6,435.8 870.7,432.2 870.3,428.6 873.0,432.2 874.8,428.6 876.2,432.8 877.2,437.0 877.5,441.2 879.3,446.6 880.0,450.7 880.3,454.7 880.0,458.8 882.0,462.8 881.4,458.3 884.7,453.8 886.2,460.3 887.7,459.8 889.2,461.0 891.0,462.7 892.8,466.4 894.3,468.0 895.8,470.3 897.3,466.4 898.0,470.9 900.0,475.4 901.8,474.5 903.6,482.6 905.4,485.9 907.2,484.4 909.0,487.1 910.8,486.2 912.6,489.8 914.1,494.4 915.6,495.7 917.1,499.7 918.9,496.1 920.7,499.7 922.5,499.2 924.3,495.2 925.8,496.0 927.3,497.5 928.8,502.4 930.6,500.9 932.4,502.2 934.2,504.2 936.0,509.7 937.8,509.6 939.6,504.6 941.4,500.0 943.2,497.0 944.2,501.5 945.0,506.0 946.8,507.8 948.6,510.5 950.4,511.4 952.2,511.7 954.0,513.2 955.8,513.3 957.6,515.0 959.4,514.1 961.2,513.9 963.0,511.0 964.8,511.4 966.6,515.3 968.4,513.7 970.2,518.6 972.0,520.8 973.8,515.8 975.6,516.6 977.4,518.6 979.2,521.6 981.0,524.0 982.8,521.3 984.6,521.3 986.4,521.3 988.2,522.2 989.7,523.0 991.3,521.7 992.8,519.1 994.4,521.8 995.9,519.8 997.5,519.8 999.0,519.5 1000.8,521.9 1002.6,521.3 1004.4,524.0 1006.2,526.9 1008.0,526.1 1009.8,529.4 1011.6,531.7 1013.4,532.1 1015.2,533.9 1017.0,533.0 1018.8,534.2 1020.6,534.0 1022.4,535.3 1024.2,536.6 1025.7,538.6 1027.2,540.2 1028.7,540.2 1030.2,540.6 1031.7,538.1 1033.2,536.6 1035.0,536.7 1036.9,534.9 1038.7,535.7 1040.5,536.2 1042.3,537.5 1044.1,538.4" fill="none" stroke="#4d4d4d" stroke-width="3.1" stroke-linejoin="round" stroke-linecap="round"/>
<polyline points="861.0,57.0 862.0,400.0" fill="none" stroke="#f0434a" stroke-width="2.325" stroke-linejoin="round" stroke-linecap="round"/>
<polyline points="862.0,400.0 863.1,477.2 865.8,480.8 866.8,485.0 868.2,489.2 869.4,493.4 871.2,493.1 873.0,491.0 874.8,491.6 876.0,495.8 877.2,500.0 878.4,504.2 880.2,502.1 882.0,502.8 883.8,498.8 884.4,502.4 884.8,506.0 887.3,509.6 889.2,513.2 890.7,512.0 892.2,508.1 893.7,507.8 895.6,511.4 895.4,515.0 895.3,518.6 896.5,522.2 897.3,525.8 899.1,522.9 900.9,522.2 902.5,525.4 904.1,529.8 905.8,530.8 907.4,534.9 909.0,536.6 910.8,535.2 912.6,534.6 914.4,533.5 916.2,531.2 918.0,532.3 919.8,530.5 921.6,529.4 923.1,528.6 924.6,530.6 926.1,531.0 927.6,531.7 929.1,533.6 930.6,534.8 932.1,535.3 933.6,536.7 935.1,537.4 936.6,539.0 938.1,538.4 939.6,540.2 941.4,538.7 943.2,538.3 945.0,538.4 946.8,539.7 948.6,540.3 950.4,542.0 952.0,541.5 953.5,539.4 955.1,537.8 956.7,537.5 958.3,538.3 959.9,540.6 961.4,540.7 963.0,541.1 964.5,541.5 966.0,542.1 967.5,542.0 969.0,541.7 970.5,542.1 972.0,542.9 973.6,542.8 975.2,543.5 976.9,542.7 978.5,542.9 980.1,544.1 981.8,543.7 983.4,543.2 985.0,543.8 986.2,545.4 987.4,545.4 988.6,545.4 989.8,545.4 991.0,545.4 992.2,545.4 993.4,545.4 994.6,545.4 995.8,545.4 997.0,545.4 998.2,545.4 999.4,545.4 1000.6,545.4 1001.8,545.4 1003.0,545.4 1004.2,545.4 1005.4,545.4 1006.6,545.4 1007.8,545.4 1009.0,545.4 1010.2,545.4 1011.4,545.4 1012.6,545.4 1013.8,545.4 1015.0,545.4 1016.2,545.4 1017.4,545.4 1018.6,545.4 1019.8,545.4 1021.0,545.4 1022.2,545.4 1023.4,545.4 1024.6,545.4 1025.8,545.4 1026.4,543.8 1028.4,543.8 1028.4,545.4 1030.0,545.4 1031.2,545.4 1031.8,543.8 1032.4,543.8 1033.8,545.4 1035.4,545.4 1036.6,545.4 1037.8,545.4 1039.0,545.4 1040.2,545.4 1041.4,545.4 1042.6,545.4 1043.8,545.4 1044.0,545.4" fill="none" stroke="#f0434a" stroke-width="3.1" stroke-linejoin="round" stroke-linecap="round"/>
<polyline points="861.0,57.0 862.0,400.0" fill="none" stroke="#1f68d8" stroke-width="2.325" stroke-linejoin="round" stroke-linecap="round"/>
<polyline points="862.0,400.0 863.1,470.0 862.7,473.6 863.8,477.2 864.2,480.8 865.8,484.4 866.8,488.4 866.7,492.5 869.9,496.6 869.4,500.6 870.9,504.8 872.8,509.0 873.9,513.2 875.6,516.8 877.3,520.4 877.5,524.0 879.0,527.4 880.5,527.8 882.0,531.2 883.5,533.4 885.0,534.4 886.5,535.7 888.1,536.6 889.8,536.7 891.5,535.8 893.1,538.4 894.8,535.8 896.4,537.5 898.2,539.1 900.0,540.6 901.8,542.0 903.3,541.7 904.8,542.9 906.3,543.0 907.8,542.6 909.3,542.0 910.8,542.1 912.3,541.6 913.8,542.1 915.3,540.9 916.8,542.2 918.3,541.6 919.8,542.0 921.5,542.3 923.2,543.1 924.9,543.1 926.6,543.4 928.3,543.7 930.0,544.0 931.2,544.9 932.4,544.9 933.6,544.9 934.8,544.9 936.0,544.9 937.2,544.9 937.8,541.6 938.7,541.6 940.2,544.9 941.4,544.9 942.6,544.9 943.8,544.9 944.4,540.0 945.4,540.0 946.6,544.9 948.0,544.9 949.2,544.9 950.4,544.9 951.6,544.9 952.8,544.9 954.0,544.9 955.2,544.9 956.4,544.9 957.6,544.9 958.2,541.6 960.1,541.6 960.4,544.9 961.8,544.9 963.0,544.9 964.2,544.9 965.4,544.9 966.6,544.9 967.8,544.9 969.0,544.9 970.2,544.9 970.8,541.6 972.3,541.6 973.4,544.9 974.4,544.9 975.6,544.9 976.8,544.9 978.0,544.9 979.2,544.9 980.4,544.9 981.6,544.9 982.8,544.9 984.0,544.9 985.2,544.9 986.4,544.9 987.6,544.9 988.8,544.9 990.0,544.9 991.2,544.9 992.4,544.9 993.6,544.9 994.8,544.9 996.0,544.9 997.2,544.9 998.4,544.9 999.6,544.9 1000.8,544.9 1002.0,544.9 1003.2,544.9 1004.4,544.9 1005.6,544.9 1006.8,544.9 1008.0,544.9 1009.2,544.9 1010.4,544.9 1011.0,543.3 1012.7,543.3 1013.3,544.9 1014.6,544.9 1015.8,544.9 1017.0,544.9 1018.2,544.9 1019.4,544.9 1020.6,544.9 1021.8,544.9 1023.0,544.9 1024.2,544.9 1025.4,544.9 1026.6,544.9 1027.8,544.9 1029.0,544.9 1030.2,544.9 1031.4,544.9 1032.6,544.9 1033.8,544.9 1035.0,544.9 1036.2,544.9 1037.4,544.9 1038.6,544.9 1039.8,544.9 1041.0,544.9 1042.2,544.9 1043.4,544.9 1044.0,544.9" fill="none" stroke="#1f68d8" stroke-width="3.1" stroke-linejoin="round" stroke-linecap="round"/>
<polyline points="861.0,57.0 862.0,420.0" fill="none" stroke="#37ad6c" stroke-width="2.325" stroke-linejoin="round" stroke-linecap="round"/>
<polyline points="862.0,420.0 863.1,491.6 864.7,495.2 863.5,498.8 865.2,502.4 865.4,506.0 865.8,509.6 866.6,513.2 868.7,516.8 866.8,520.4 868.7,524.0 869.4,527.6 871.2,530.1 873.0,531.1 874.8,534.8 876.6,536.2 878.4,536.9 880.2,538.4 881.8,536.5 883.4,536.3 884.9,536.8 886.5,536.6 888.1,537.0 889.7,539.3 891.4,537.4 893.0,539.3 894.6,540.2 896.1,541.3 897.6,540.9 899.1,541.7 900.6,541.7 902.1,542.3 903.6,543.0 905.2,543.4 906.9,544.0 908.5,544.0 910.1,543.4 911.7,544.2 913.4,543.7 915.0,544.5 916.2,545.1 917.4,545.1 918.6,545.1 919.8,545.1 921.0,545.1 922.2,545.1 923.4,545.1 924.6,545.1 925.8,545.1 927.0,545.1 928.2,545.1 929.4,545.1 930.6,545.1 931.8,545.1 933.0,545.1 933.6,541.8 934.4,541.8 936.1,545.1 937.2,545.1 938.4,545.1 939.0,540.2 941.0,540.2 941.5,545.1 942.6,545.1 943.8,545.1 944.4,541.8 945.8,541.8 946.8,545.1 948.0,545.1 949.2,545.1 950.4,545.1 951.6,545.1 952.8,545.1 954.0,545.1 955.2,545.1 956.4,545.1 957.0,540.2 957.7,540.2 958.9,545.1 960.6,545.1 961.8,545.1 963.0,545.1 964.2,545.1 965.4,545.1 966.6,545.1 967.8,545.1 969.0,545.1 970.2,545.1 971.4,545.1 972.6,545.1 973.8,545.1 975.0,545.1 976.2,545.1 977.4,545.1 978.6,545.1 979.8,545.1 981.0,545.1 982.2,545.1 983.4,545.1 984.6,545.1 985.8,545.1 986.4,543.5 988.4,543.5 988.8,545.1 990.0,545.1 991.2,545.1 992.4,545.1 993.6,545.1 994.8,545.1 996.0,545.1 997.2,545.1 998.4,545.1 999.6,545.1 1000.8,545.1 1002.0,545.1 1003.2,545.1 1004.4,545.1 1005.6,545.1 1006.8,545.1 1008.0,545.1 1009.2,545.1 1010.4,545.1 1011.6,545.1 1012.8,545.1 1014.0,545.1 1015.2,545.1 1016.4,545.1 1017.0,543.5 1018.3,543.5 1019.6,545.1 1020.6,545.1 1021.8,545.1 1023.0,545.1 1024.2,545.1 1025.4,545.1 1026.6,545.1 1027.8,545.1 1029.0,545.1 1030.2,545.1 1031.4,545.1 1032.6,545.1 1033.8,545.1 1034.4,543.5 1036.5,543.5 1036.9,545.1 1038.0,545.1 1038.6,543.5 1039.8,543.5 1041.1,545.1 1042.2,545.1 1043.4,545.1 1044.0,545.1" fill="none" stroke="#37ad6c" stroke-width="3.1" stroke-linejoin="round" stroke-linecap="round"/>
<polyline points="861.6,57.0 862.8,400.0 862.8,520.4" fill="none" stroke="#a872d2" stroke-width="2.325" stroke-linejoin="round" stroke-linecap="round"/>
<polyline points="862.8,520.4 864.0,527.6 864.4,531.2 866.7,534.8 868.5,543.8 870.1,543.1 871.6,542.8 873.2,540.8 874.8,540.2 876.6,542.5 878.4,544.7 879.6,545.5 880.8,545.5 882.0,545.5 883.2,545.5 884.4,545.5 885.0,545.5 886.2,545.5 887.4,545.5 888.6,545.5 889.8,545.5 891.0,545.5 892.2,545.5 893.4,545.5 894.6,545.5 895.8,545.5 897.0,545.5 898.2,545.5 899.4,545.5 900.6,545.5 901.8,545.5 903.0,545.5 904.2,545.5 905.4,545.5 906.6,545.5 907.8,545.5 909.0,545.5 910.2,545.5 911.4,545.5 912.6,545.5 913.8,545.5 915.0,545.5 916.2,545.5 917.4,545.5 918.6,545.5 919.8,545.5 921.0,545.5 922.2,545.5 923.4,545.5 924.6,545.5 925.8,545.5 927.0,545.5 928.2,545.5 929.4,545.5 930.6,545.5 931.8,545.5 933.0,545.5 934.2,545.5 935.4,545.5 936.6,545.5 937.8,545.5 939.0,545.5 940.2,545.5 941.4,545.5 942.6,545.5 943.8,545.5 945.0,545.5 946.2,545.5 947.4,545.5 948.6,545.5 949.8,545.5 951.0,545.5 952.2,545.5 953.4,545.5 954.6,545.5 955.8,545.5 957.0,545.5 958.2,545.5 959.4,545.5 960.0,543.9 961.5,543.9 962.2,545.5 963.6,545.5 964.8,545.5 966.0,545.5 967.2,545.5 968.4,545.5 969.6,545.5 970.8,545.5 972.0,545.5 973.2,545.5 974.4,545.5 975.6,545.5 976.8,545.5 978.0,545.5 979.2,545.5 980.4,545.5 981.6,545.5 982.8,545.5 984.0,545.5 984.6,542.2 985.8,542.2 986.7,545.5 988.2,545.5 989.4,545.5 990.6,545.5 991.8,545.5 993.0,545.5 994.2,545.5 995.4,545.5 996.6,545.5 997.8,545.5 999.0,545.5 1000.2,545.5 1001.4,545.5 1002.6,545.5 1003.8,545.5 1005.0,545.5 1006.2,545.5 1007.4,545.5 1008.6,545.5 1009.8,545.5 1011.0,545.5 1012.2,545.5 1013.4,545.5 1014.6,545.5 1015.8,545.5 1017.0,545.5 1018.2,545.5 1019.4,545.5 1020.6,545.5 1021.8,545.5 1023.0,545.5 1024.2,545.5 1025.4,545.5 1026.6,545.5 1027.8,545.5 1029.0,545.5 1030.2,545.5 1031.4,545.5 1032.6,545.5 1033.8,545.5 1035.0,545.5 1036.2,545.5 1037.4,545.5 1038.6,545.5 1039.8,545.5 1041.0,545.5 1042.2,545.5 1043.4,545.5 1044.0,545.5" fill="none" stroke="#b472dd" stroke-width="3.1" stroke-linejoin="round" stroke-linecap="round"/>
<rect x="248.6" y="13.9" width="661" height="34.3" fill="#fff" stroke="#333" stroke-width="1.3"/>
<line x1="251.2" y1="31.3" x2="308.3" y2="31.3" stroke="#4d4d4d" stroke-width="3"/>
<text x="313.5" y="39.4" font-size="25" text-anchor="start" font-family="Liberation Serif" textLength="64.6" lengthAdjust="spacingAndGlyphs" >2000K</text>
<line x1="383.0" y1="31.3" x2="440.1" y2="31.3" stroke="#f0434a" stroke-width="3"/>
<text x="445.3" y="39.4" font-size="25" text-anchor="start" font-family="Liberation Serif" textLength="64.6" lengthAdjust="spacingAndGlyphs" >2500K</text>
<line x1="514.9" y1="31.3" x2="572.0" y2="31.3" stroke="#1f68d8" stroke-width="3"/>
<text x="577.2" y="39.4" font-size="25" text-anchor="start" font-family="Liberation Serif" textLength="64.6" lengthAdjust="spacingAndGlyphs" >2750K</text>
<line x1="646.8" y1="31.3" x2="703.9" y2="31.3" stroke="#37ad6c" stroke-width="3"/>
<text x="709.0" y="39.4" font-size="25" text-anchor="start" font-family="Liberation Serif" textLength="64.6" lengthAdjust="spacingAndGlyphs" >3000K</text>
<line x1="778.6" y1="31.3" x2="835.7" y2="31.3" stroke="#b472dd" stroke-width="3"/>
<text x="840.9" y="39.4" font-size="25" text-anchor="start" font-family="Liberation Serif" textLength="64.6" lengthAdjust="spacingAndGlyphs" >3500K</text>
<g id="botaxes">
<line x1="126.0" y1="658.1" x2="1064.3" y2="658.1" stroke="#777" stroke-width="1.3"/>
<line x1="1064.3" y1="658.1" x2="1064.3" y2="1123.3" stroke="#888" stroke-width="1.3"/>
<line x1="125.0" y1="1123.3" x2="1064.3" y2="1123.3" stroke="#222" stroke-width="1.5"/>
<line x1="125.8" y1="1123.3" x2="136.8" y2="1123.3" stroke="#333" stroke-width="1.4"/>
<line x1="130.8" y1="1084.5" x2="136.8" y2="1084.5" stroke="#333" stroke-width="1.4"/>
<line x1="125.8" y1="1045.8" x2="136.8" y2="1045.8" stroke="#333" stroke-width="1.4"/>
<line x1="130.8" y1="1007.0" x2="136.8" y2="1007.0" stroke="#333" stroke-width="1.4"/>
<line x1="125.8" y1="968.2" x2="136.8" y2="968.2" stroke="#333" stroke-width="1.4"/>
<line x1="130.8" y1="929.5" x2="136.8" y2="929.5" stroke="#333" stroke-width="1.4"/>
<line x1="125.8" y1="890.7" x2="136.8" y2="890.7" stroke="#333" stroke-width="1.4"/>
<line x1="130.8" y1="851.9" x2="136.8" y2="851.9" stroke="#333" stroke-width="1.4"/>
<line x1="125.8" y1="813.2" x2="136.8" y2="813.2" stroke="#333" stroke-width="1.4"/>
<line x1="130.8" y1="774.4" x2="136.8" y2="774.4" stroke="#333" stroke-width="1.4"/>
<line x1="125.8" y1="735.6" x2="136.8" y2="735.6" stroke="#333" stroke-width="1.4"/>
<line x1="130.8" y1="696.9" x2="136.8" y2="696.9" stroke="#333" stroke-width="1.4"/>
<line x1="125.8" y1="658.1" x2="136.8" y2="658.1" stroke="#333" stroke-width="1.4"/>
<text x="117.0" y="1134.1" font-size="32" text-anchor="end" font-family="Liberation Serif" >0</text>
<text x="117.0" y="1056.6" font-size="32" text-anchor="end" font-family="Liberation Serif" >50</text>
<text x="117.0" y="979.0" font-size="32" text-anchor="end" font-family="Liberation Serif" >100</text>
<text x="117.0" y="901.5" font-size="32" text-anchor="end" font-family="Liberation Serif" >150</text>
<text x="117.0" y="824.0" font-size="32" text-anchor="end" font-family="Liberation Serif" >200</text>
<text x="117.0" y="746.4" font-size="32" text-anchor="end" font-family="Liberation Serif" >250</text>
<text x="117.0" y="668.9" font-size="32" text-anchor="end" font-family="Liberation Serif" >300</text>
<line x1="136.8" y1="658.1" x2="136.8" y2="1133.3" stroke="#666" stroke-width="1.3"/>
<line x1="160.0" y1="1123.3" x2="160.0" y2="1129.3" stroke="#333" stroke-width="1.3"/>
<line x1="183.2" y1="1123.3" x2="183.2" y2="1133.3" stroke="#333" stroke-width="1.3"/>
<line x1="206.4" y1="1123.3" x2="206.4" y2="1129.3" stroke="#333" stroke-width="1.3"/>
<line x1="229.6" y1="1123.3" x2="229.6" y2="1133.3" stroke="#333" stroke-width="1.3"/>
<line x1="252.7" y1="1123.3" x2="252.7" y2="1129.3" stroke="#333" stroke-width="1.3"/>
<line x1="275.9" y1="1123.3" x2="275.9" y2="1133.3" stroke="#333" stroke-width="1.3"/>
<line x1="299.1" y1="1123.3" x2="299.1" y2="1129.3" stroke="#333" stroke-width="1.3"/>
<line x1="322.3" y1="1123.3" x2="322.3" y2="1129.3" stroke="#333" stroke-width="1.3"/>
<text x="136.0" y="1154.3" font-size="23" text-anchor="middle" font-family="Liberation Serif" textLength="10.3" lengthAdjust="spacingAndGlyphs" stroke="#000" stroke-width="0.35">0</text>
<text x="186.5" y="1154.3" font-size="23" text-anchor="middle" font-family="Liberation Serif" textLength="20.6" lengthAdjust="spacingAndGlyphs" stroke="#000" stroke-width="0.35">10</text>
<text x="230.4" y="1154.3" font-size="23" text-anchor="middle" font-family="Liberation Serif" textLength="20.6" lengthAdjust="spacingAndGlyphs" stroke="#000" stroke-width="0.35">20</text>
<text x="276.7" y="1154.3" font-size="23" text-anchor="middle" font-family="Liberation Serif" textLength="20.6" lengthAdjust="spacingAndGlyphs" stroke="#000" stroke-width="0.35">30</text>
<text x="226.0" y="696.6" font-size="21.5" text-anchor="middle" font-family="Liberation Serif" textLength="84" lengthAdjust="spacingAndGlyphs">T<tspan fill="#999">−</tspan>2000K</text>
<line x1="322.3" y1="658.1" x2="322.3" y2="1133.3" stroke="#666" stroke-width="1.3"/>
<line x1="345.5" y1="1123.3" x2="345.5" y2="1129.3" stroke="#333" stroke-width="1.3"/>
<line x1="368.7" y1="1123.3" x2="368.7" y2="1133.3" stroke="#333" stroke-width="1.3"/>
<line x1="391.9" y1="1123.3" x2="391.9" y2="1129.3" stroke="#333" stroke-width="1.3"/>
<line x1="415.1" y1="1123.3" x2="415.1" y2="1133.3" stroke="#333" stroke-width="1.3"/>
<line x1="438.2" y1="1123.3" x2="438.2" y2="1129.3" stroke="#333" stroke-width="1.3"/>
<line x1="461.4" y1="1123.3" x2="461.4" y2="1133.3" stroke="#333" stroke-width="1.3"/>
<line x1="484.6" y1="1123.3" x2="484.6" y2="1129.3" stroke="#333" stroke-width="1.3"/>
<line x1="507.8" y1="1123.3" x2="507.8" y2="1129.3" stroke="#333" stroke-width="1.3"/>
<text x="323.4" y="1154.3" font-size="23" text-anchor="middle" font-family="Liberation Serif" textLength="10.3" lengthAdjust="spacingAndGlyphs" stroke="#000" stroke-width="0.35">0</text>
<text x="367.2" y="1154.3" font-size="23" text-anchor="middle" font-family="Liberation Serif" textLength="10.3" lengthAdjust="spacingAndGlyphs" stroke="#000" stroke-width="0.35">2</text>
<text x="415.1" y="1154.3" font-size="23" text-anchor="middle" font-family="Liberation Serif" textLength="10.3" lengthAdjust="spacingAndGlyphs" stroke="#000" stroke-width="0.35">4</text>
<text x="458.3" y="1154.3" font-size="23" text-anchor="middle" font-family="Liberation Serif" textLength="10.3" lengthAdjust="spacingAndGlyphs" stroke="#000" stroke-width="0.35">6</text>
<text x="425.0" y="696.6" font-size="21.5" text-anchor="middle" font-family="Liberation Serif" textLength="84" lengthAdjust="spacingAndGlyphs">T<tspan fill="#999">−</tspan>2500K</text>
<line x1="507.8" y1="658.1" x2="507.8" y2="1133.3" stroke="#666" stroke-width="1.3"/>
<line x1="538.7" y1="1123.3" x2="538.7" y2="1129.3" stroke="#333" stroke-width="1.3"/>
<line x1="569.6" y1="1123.3" x2="569.6" y2="1133.3" stroke="#333" stroke-width="1.3"/>
<line x1="600.5" y1="1123.3" x2="600.5" y2="1129.3" stroke="#333" stroke-width="1.3"/>
<line x1="631.5" y1="1123.3" x2="631.5" y2="1133.3" stroke="#333" stroke-width="1.3"/>
<line x1="662.4" y1="1123.3" x2="662.4" y2="1129.3" stroke="#333" stroke-width="1.3"/>
<line x1="693.3" y1="1123.3" x2="693.3" y2="1129.3" stroke="#333" stroke-width="1.3"/>
<text x="511.0" y="1154.3" font-size="23" text-anchor="middle" font-family="Liberation Serif" textLength="10.3" lengthAdjust="spacingAndGlyphs" stroke="#000" stroke-width="0.35">0</text>
<text x="569.0" y="1154.3" font-size="23" text-anchor="middle" font-family="Liberation Serif" textLength="10.3" lengthAdjust="spacingAndGlyphs" stroke="#000" stroke-width="0.35">2</text>
<text x="629.2" y="1154.3" font-size="23" text-anchor="middle" font-family="Liberation Serif" textLength="10.3" lengthAdjust="spacingAndGlyphs" stroke="#000" stroke-width="0.35">4</text>
<text x="599.6" y="696.6" font-size="21.5" text-anchor="middle" font-family="Liberation Serif" textLength="84" lengthAdjust="spacingAndGlyphs">T<tspan fill="#999">−</tspan>2750K</text>
<line x1="693.3" y1="658.1" x2="693.3" y2="1133.3" stroke="#666" stroke-width="1.3"/>
<line x1="716.5" y1="1123.3" x2="716.5" y2="1129.3" stroke="#333" stroke-width="1.3"/>
<line x1="739.7" y1="1123.3" x2="739.7" y2="1133.3" stroke="#333" stroke-width="1.3"/>
<line x1="762.9" y1="1123.3" x2="762.9" y2="1129.3" stroke="#333" stroke-width="1.3"/>
<line x1="786.0" y1="1123.3" x2="786.0" y2="1133.3" stroke="#333" stroke-width="1.3"/>
<line x1="809.2" y1="1123.3" x2="809.2" y2="1129.3" stroke="#333" stroke-width="1.3"/>
<line x1="832.4" y1="1123.3" x2="832.4" y2="1133.3" stroke="#333" stroke-width="1.3"/>
<line x1="855.6" y1="1123.3" x2="855.6" y2="1129.3" stroke="#333" stroke-width="1.3"/>
<line x1="878.8" y1="1123.3" x2="878.8" y2="1129.3" stroke="#333" stroke-width="1.3"/>
<text x="694.3" y="1154.3" font-size="23" text-anchor="middle" font-family="Liberation Serif" textLength="10.3" lengthAdjust="spacingAndGlyphs" stroke="#000" stroke-width="0.35">0</text>
<text x="740.0" y="1154.3" font-size="23" text-anchor="middle" font-family="Liberation Serif" textLength="10.3" lengthAdjust="spacingAndGlyphs" stroke="#000" stroke-width="0.35">1</text>
<text x="784.6" y="1154.3" font-size="23" text-anchor="middle" font-family="Liberation Serif" textLength="10.3" lengthAdjust="spacingAndGlyphs" stroke="#000" stroke-width="0.35">2</text>
<text x="831.6" y="1154.3" font-size="23" text-anchor="middle" font-family="Liberation Serif" textLength="10.3" lengthAdjust="spacingAndGlyphs" stroke="#000" stroke-width="0.35">3</text>
<text x="787.9" y="696.6" font-size="21.5" text-anchor="middle" font-family="Liberation Serif" textLength="84" lengthAdjust="spacingAndGlyphs">T<tspan fill="#999">−</tspan>3000K</text>
<line x1="878.8" y1="658.1" x2="878.8" y2="1133.3" stroke="#666" stroke-width="1.3"/>
<line x1="925.2" y1="1123.3" x2="925.2" y2="1129.3" stroke="#333" stroke-width="1.3"/>
<line x1="971.5" y1="1123.3" x2="971.5" y2="1133.3" stroke="#333" stroke-width="1.3"/>
<line x1="1017.9" y1="1123.3" x2="1017.9" y2="1129.3" stroke="#333" stroke-width="1.3"/>
<line x1="1064.3" y1="1123.3" x2="1064.3" y2="1133.3" stroke="#333" stroke-width="1.3"/>
<text x="880.3" y="1154.3" font-size="23" text-anchor="middle" font-family="Liberation Serif" textLength="10.3" lengthAdjust="spacingAndGlyphs" stroke="#000" stroke-width="0.35">0</text>
<text x="971.8" y="1154.3" font-size="23" text-anchor="middle" font-family="Liberation Serif" textLength="10.3" lengthAdjust="spacingAndGlyphs" stroke="#000" stroke-width="0.35">1</text>
<text x="1061.4" y="1154.3" font-size="23" text-anchor="middle" font-family="Liberation Serif" textLength="10.3" lengthAdjust="spacingAndGlyphs" stroke="#000" stroke-width="0.35">2</text>
<text x="973.8" y="696.6" font-size="21.5" text-anchor="middle" font-family="Liberation Serif" textLength="84" lengthAdjust="spacingAndGlyphs">T<tspan fill="#999">−</tspan>3500K</text>
</g>
<polyline points="138.3,675.0 138.8,700.0 139.8,732.6" fill="none" stroke="#4d4d4d" stroke-width="2.7750000000000004" stroke-linejoin="round" stroke-linecap="round"/>
<polyline points="139.8,732.6 141.0,760.0 142.2,777.4 142.2,781.1 142.6,784.8 143.4,788.6 143.3,792.3 143.8,796.0 143.5,799.7 144.0,803.4 144.4,807.1 144.4,810.9 145.2,814.6 145.3,818.3 145.6,822.1 145.8,825.9 146.3,829.7 146.4,833.5 146.0,837.3 146.5,841.0 146.8,844.8 146.5,848.6 146.9,852.4 147.8,856.2 147.5,860.0 147.0,863.7 147.7,867.3 148.1,871.0 148.7,874.7 149.1,878.4 149.1,882.0 148.7,885.7 149.0,889.4 149.1,893.0 149.8,896.7 151.2,900.7 150.8,904.7 150.2,908.7 152.9,912.6 152.5,916.6 153.7,920.6 153.3,924.6 153.5,928.2 153.4,931.9 155.2,935.5 155.3,939.1 156.4,942.8 157.2,946.4 156.3,950.0 157.8,953.7 158.0,957.3 158.1,960.9 158.0,964.6 159.1,968.2 159.3,971.8 159.6,975.5 159.3,979.1 159.9,982.7 160.1,986.4 160.3,990.0 159.9,993.7 160.4,997.4 162.3,1001.2 162.5,1004.9 162.7,1008.6 164.2,1011.6 165.8,1016.8 167.3,1018.0 168.1,1021.9 168.3,1025.8 169.9,1029.7 171.6,1033.5 171.6,1037.4 172.0,1041.3 173.9,1047.5 175.9,1051.2 177.8,1052.9 179.8,1061.5 181.7,1060.6 183.7,1066.9 184.9,1070.8 186.2,1074.7 187.3,1078.6 186.7,1082.5 189.4,1086.4 189.5,1090.3 191.0,1087.9 192.6,1084.0 194.1,1083.3 196.1,1086.4 198.0,1092.7 200.0,1094.9 201.6,1097.0 203.1,1095.8 204.7,1098.3 206.2,1101.8 207.8,1100.6 209.3,1101.9 211.1,1103.7 212.8,1105.5 214.6,1107.7 216.3,1108.9 218.0,1109.6 219.6,1109.9 221.3,1110.2 223.0,1110.4 224.7,1109.7 226.3,1110.3 228.0,1111.3 229.6,1112.3 231.1,1111.0 232.7,1112.4 234.2,1111.1 235.8,1112.4 237.3,1112.5 238.9,1114.2 240.4,1113.7 242.0,1113.6 243.6,1113.5 245.1,1112.0 246.7,1112.6 248.2,1110.8 249.8,1111.8 251.3,1110.1 252.9,1110.6 254.4,1110.8 256.0,1113.1 257.5,1114.0 259.1,1115.1 260.6,1115.9 262.2,1116.6 263.7,1116.8 265.3,1115.3 266.8,1117.5 268.4,1118.5 269.9,1118.2 271.5,1117.0 273.0,1117.5 274.6,1118.3 276.2,1118.1 277.7,1118.1 279.3,1118.2 280.8,1118.0 282.4,1119.4 284.0,1118.7 285.5,1120.2 287.1,1118.8 288.6,1119.2 290.2,1118.7 291.8,1118.8 293.3,1118.5 294.9,1119.6 296.4,1119.5 298.0,1119.4 299.6,1119.8 301.1,1118.8 302.7,1118.2 304.3,1119.6 305.8,1119.6 307.4,1119.6 309.0,1119.6 310.5,1120.2 312.1,1119.7 313.7,1118.9 315.2,1119.4 316.8,1119.0 318.4,1119.9 319.9,1118.9 321.5,1119.4" fill="none" stroke="#4d4d4d" stroke-width="3.7" stroke-linejoin="round" stroke-linecap="round"/>
<polyline points="137.5,658.0 138.5,720.0 139.2,800.0 139.2,824.4" fill="none" stroke="#f0434a" stroke-width="2.7750000000000004" stroke-linejoin="round" stroke-linecap="round"/>
<polyline points="139.2,824.4 139.0,828.5 140.4,832.6 139.8,836.8 140.7,840.9 141.0,845.0 142.0,849.3 144.0,853.7 143.5,858.0 144.0,861.6 146.7,865.1 145.2,868.7 147.1,871.6 149.0,874.0 151.2,883.3 153.3,880.3 155.6,884.4 156.8,888.5 155.5,892.6 159.2,896.7 159.2,900.6 160.7,904.5 160.4,908.4 160.6,912.2 161.1,916.1 162.7,920.0 163.9,923.5 165.1,927.0 165.2,930.5 163.1,934.0 165.8,937.5 167.4,941.0 164.8,944.5 167.3,948.0 168.4,951.9 168.5,955.8 168.9,959.6 170.9,963.5 169.7,967.4 170.8,971.3 172.9,967.3 175.0,966.0 176.7,970.7 178.5,966.3 180.2,962.0 182.1,969.2 184.1,966.2 186.0,969.0 187.8,971.6 189.5,975.6 191.2,975.8 193.0,980.6 194.9,984.3 196.1,988.1 198.1,991.8 199.1,995.6 200.0,999.3 201.8,1001.6 203.5,1011.5 205.2,1008.9 207.0,1013.3 208.8,1018.1 210.5,1025.2 212.2,1025.6 214.0,1029.6 216.8,1033.1 217.3,1036.6 216.6,1040.1 217.5,1043.6 219.2,1036.7 221.0,1036.0 222.5,1036.8 224.1,1040.2 225.6,1043.6 227.3,1048.8 229.1,1049.4 230.8,1056.0 232.6,1057.6 234.3,1060.6 236.1,1062.8 237.8,1054.7 239.6,1059.9 241.3,1059.8 243.1,1063.4 244.8,1062.4 246.6,1064.6 248.3,1067.2 250.1,1068.0 251.8,1070.7 253.6,1073.9 255.3,1074.0 257.1,1079.6 258.9,1080.0 260.6,1078.6 262.4,1077.7 264.1,1077.7 265.9,1083.2 267.6,1078.6 267.8,1082.1 269.3,1085.6 269.6,1089.1 272.3,1092.6 274.1,1097.2 275.8,1098.1 277.6,1102.1 279.3,1104.3 281.2,1103.2 283.2,1104.4 285.1,1103.1 286.7,1104.6 288.4,1106.0 290.0,1106.3 291.7,1106.9 293.3,1108.9 294.9,1111.1 296.4,1110.1 298.0,1113.2 299.5,1112.4 301.1,1116.2 302.6,1115.9 304.2,1116.4 305.7,1116.7 307.3,1116.0 308.8,1116.4 310.4,1115.0 311.9,1116.7 313.5,1115.4 315.0,1116.0 316.6,1115.9 318.2,1115.5 319.9,1116.1 321.5,1117.1" fill="none" stroke="#f0434a" stroke-width="3.7" stroke-linejoin="round" stroke-linecap="round"/>
<polyline points="137.5,670.0 138.5,706.0 139.2,760.0 139.2,797.9" fill="none" stroke="#1f68d8" stroke-width="2.7750000000000004" stroke-linejoin="round" stroke-linecap="round"/>
<polyline points="139.2,797.9 140.6,802.2 140.2,806.5 140.2,810.7 141.5,815.0 141.9,819.5 142.8,824.0 143.3,828.5 144.0,832.3 143.7,836.1 145.2,839.9 145.4,843.8 145.2,847.6 146.6,851.4 146.7,855.2 147.3,859.0 148.7,885.0 149.3,888.9 150.0,892.8 151.1,896.6 152.3,900.5 153.9,904.4 153.3,908.3 153.6,911.8 153.0,915.3 154.3,918.8 155.8,922.3 155.5,925.8 156.5,929.3 156.2,932.8 156.7,936.3 156.4,939.8 158.0,943.3 157.8,946.8 159.5,950.3 159.3,953.8 159.5,957.3 160.2,960.8 160.2,964.3 161.0,967.8 161.5,971.3 162.8,975.0 162.4,978.8 165.7,982.5 162.7,986.3 165.0,990.0 166.9,996.6 168.9,1000.5 170.8,1004.0 172.3,1007.5 173.9,1011.0 173.8,1014.5 175.8,1018.0 175.4,1021.5 176.7,1025.0 178.4,1028.8 180.2,1031.7 181.9,1038.8 183.7,1041.3 185.4,1044.2 187.1,1049.5 188.9,1047.2 190.6,1050.6 193.6,1054.7 192.8,1058.8 195.0,1062.8 196.5,1066.9 198.6,1071.0 199.0,1075.1 200.5,1079.2 202.3,1083.3 204.1,1084.0 205.8,1089.3 207.6,1091.9 209.3,1094.9 210.9,1100.1 212.4,1100.4 213.9,1099.6 215.5,1103.2 217.1,1101.6 218.6,1101.9 220.2,1102.0 221.7,1103.9 223.3,1102.8 224.9,1103.7 226.4,1104.7 228.0,1106.6 229.6,1107.9 231.1,1107.2 232.7,1107.4 234.2,1108.0 235.8,1110.8 237.3,1107.8 238.9,1110.8 240.4,1109.2 242.0,1111.3 243.6,1112.1 245.1,1111.1 246.7,1111.9 248.2,1111.5 249.8,1113.5 251.3,1111.4 252.9,1113.3 254.4,1112.7 256.0,1113.6 257.6,1112.6 259.1,1114.2 260.7,1116.1 262.2,1115.3 263.8,1114.5 265.3,1115.9 266.9,1114.8 268.4,1115.6 270.0,1115.9 271.6,1116.2 273.1,1115.4 274.7,1114.8 276.2,1115.4 277.8,1115.2 279.3,1116.0 280.9,1115.9 282.4,1115.0 284.0,1115.9 285.6,1115.4 287.1,1117.8 288.7,1116.3 290.2,1115.0 291.8,1116.6 293.3,1119.2 294.9,1117.9 296.4,1117.3 298.0,1118.3 299.6,1118.2 301.1,1117.8 302.7,1117.9 304.3,1116.9 305.8,1118.3 307.4,1117.8 309.0,1116.9 310.5,1117.9 312.1,1118.3 313.7,1117.2 315.2,1118.4 316.8,1117.9 318.4,1119.2 319.9,1118.0 321.5,1118.3" fill="none" stroke="#1f68d8" stroke-width="3.7" stroke-linejoin="round" stroke-linecap="round"/>
<polyline points="137.0,1010.0 137.0,1022.6 138.2,1060.0" fill="none" stroke="#37ad6c" stroke-width="2.7750000000000004" stroke-linejoin="round" stroke-linecap="round"/>
<polyline points="138.2,1060.0 142.4,1064.7 141.7,1069.3 143.0,1072.9 144.3,1076.4 144.0,1080.0 148.1,1084.2 147.0,1088.4 147.5,1092.6 149.4,1095.3 151.4,1097.4 153.3,1101.9 155.1,1104.7 156.8,1106.0 158.6,1111.7 160.3,1113.6 162.1,1112.8 163.8,1110.6 165.6,1108.5 167.3,1108.9 169.1,1110.2 170.8,1112.0 172.6,1113.9 174.3,1115.9 175.9,1115.7 177.4,1117.5 179.0,1118.7 180.5,1117.4 182.1,1118.3 183.6,1118.6 185.2,1119.9 186.7,1119.9 188.3,1120.6 190.0,1120.6 191.6,1121.1 193.3,1120.3 195.0,1120.7 196.7,1121.0 198.3,1120.6 200.0,1121.5 201.2,1121.5 202.4,1121.5 203.6,1121.5 204.8,1121.5 206.0,1121.5 207.2,1121.5 208.4,1121.5 209.6,1121.5 210.8,1121.5 212.0,1121.5 213.2,1121.5 214.4,1121.5 215.6,1121.5 216.8,1121.5 218.0,1121.5 219.2,1121.5 220.4,1121.5 221.6,1121.5 222.8,1121.5 224.0,1121.5 225.2,1121.5 226.4,1121.5 227.6,1121.5 228.8,1121.5 230.0,1121.5 231.2,1121.5 232.4,1121.5 233.6,1121.5 234.8,1121.5 236.0,1121.5 237.2,1121.5 238.4,1121.5 239.6,1121.5 240.8,1121.5 242.0,1121.5 243.2,1121.5 244.4,1121.5 245.6,1121.5 246.8,1121.5 248.0,1121.5 249.2,1121.5 249.8,1118.4 251.3,1118.4 251.7,1121.5 253.4,1121.5 254.6,1121.5 255.8,1121.5 257.0,1121.5 258.2,1121.5 259.4,1121.5 260.6,1121.5 261.8,1121.5 263.0,1121.5 264.2,1121.5 265.4,1121.5 266.6,1121.5 267.8,1121.5 269.0,1121.5 270.2,1121.5 271.4,1121.5 272.6,1121.5 273.8,1121.5 275.0,1121.5 276.2,1121.5 277.4,1121.5 278.6,1121.5 279.8,1121.5 281.0,1121.5 282.2,1121.5 283.4,1121.5 284.6,1121.5 285.8,1121.5 287.0,1121.5 288.2,1121.5 289.4,1121.5 290.6,1121.5 291.8,1121.5 293.0,1121.5 294.2,1121.5 295.4,1121.5 296.6,1121.5 297.8,1121.5 299.0,1121.5 300.2,1121.5 301.4,1121.5 302.6,1121.5 303.8,1121.5 305.0,1121.5 306.2,1121.5 307.4,1121.5 308.6,1121.5 309.8,1121.5 311.0,1121.5 312.2,1121.5 313.4,1121.5 314.6,1121.5 315.8,1121.5 317.0,1121.5 318.2,1121.5 319.4,1121.5 320.0,1119.9 321.6,1119.9 322.4,1121.5" fill="none" stroke="#37ad6c" stroke-width="3.7" stroke-linejoin="round" stroke-linecap="round"/>
<polyline points="137.2,658.0 137.6,1008.6 138.7,1013.3" fill="none" stroke="#a872d2" stroke-width="2.7750000000000004" stroke-linejoin="round" stroke-linecap="round"/>
<polyline points="138.7,1013.3 139.7,1016.8 140.3,1020.3 140.7,1023.8 140.1,1027.3 141.4,1030.8 142.8,1034.3 142.0,1037.8 142.8,1041.3 144.7,1045.1 144.5,1048.9 146.6,1052.7 146.5,1056.4 146.7,1060.2 147.6,1064.0 147.8,1067.8 148.7,1071.6 150.4,1072.3 152.2,1075.9 153.9,1075.0 155.7,1078.6 158.1,1082.5 161.0,1086.4 160.3,1090.3 161.9,1090.3 163.4,1091.6 165.0,1096.3 166.6,1094.2 168.1,1096.2 169.7,1097.2 171.2,1098.6 172.8,1101.5 174.3,1101.9 175.9,1102.4 177.4,1112.0 179.0,1113.6 180.7,1114.1 182.3,1113.9 184.0,1114.0 185.6,1114.6 187.3,1115.1 188.9,1117.2 190.6,1115.9 192.3,1116.8 193.9,1115.8 195.6,1115.0 197.3,1114.5 199.0,1113.8 200.6,1115.5 202.3,1113.6 203.9,1115.2 205.4,1115.4 206.9,1116.1 208.5,1118.3 210.1,1118.0 211.6,1118.3 213.3,1116.5 214.9,1116.9 216.6,1116.7 218.3,1116.1 220.0,1114.6 221.6,1114.3 223.3,1113.6 224.9,1114.7 226.4,1115.6 227.9,1115.2 229.5,1116.8 231.1,1117.7 232.6,1118.3 234.2,1118.4 235.7,1118.9 237.3,1119.8 238.8,1119.3 240.4,1118.9 241.9,1119.6 243.5,1120.2 245.0,1120.3 246.6,1120.6 248.3,1120.9 249.9,1120.8 251.6,1120.2 253.3,1120.3 255.0,1120.9 256.6,1120.9 258.3,1120.9 260.0,1121.0 261.2,1120.9 262.4,1120.9 263.6,1120.9 264.8,1120.9 266.0,1120.9 267.2,1120.9 268.4,1120.9 269.6,1120.9 270.8,1120.9 272.0,1120.9 273.2,1120.9 274.4,1120.9 275.6,1120.9 276.8,1120.9 278.0,1120.9 279.2,1120.9 280.4,1120.9 281.6,1120.9 282.8,1120.9 284.0,1120.9 285.2,1120.9 286.4,1120.9 287.6,1120.9 288.8,1120.9 290.0,1120.9 291.2,1120.9 292.4,1120.9 293.6,1120.9 294.8,1120.9 296.0,1120.9 297.2,1120.9 298.4,1120.9 299.6,1120.9 300.8,1120.9 302.0,1120.9 303.2,1120.9 304.4,1120.9 305.6,1120.9 306.8,1120.9 308.0,1120.9 309.2,1120.9 310.4,1120.9 311.6,1120.9 312.8,1120.9 314.0,1120.9 315.2,1120.9 316.4,1120.9 317.6,1120.9 318.8,1120.9 320.0,1120.9 321.2,1120.9 321.5,1120.9" fill="none" stroke="#b472dd" stroke-width="3.7" stroke-linejoin="round" stroke-linecap="round"/>
<polyline points="323.8,694.0 325.0,756.0" fill="none" stroke="#4d4d4d" stroke-width="2.55" stroke-linejoin="round" stroke-linecap="round"/>
<polyline points="325.0,756.0 325.1,759.8 325.4,763.6 325.7,767.3 326.1,771.1 325.7,774.9 326.1,778.7 326.1,782.4 326.7,786.2 327.0,790.0 327.1,793.6 327.6,797.2 327.6,800.8 327.4,804.4 328.1,808.0 328.4,811.6 328.5,815.2 328.7,818.8 328.7,822.4 329.0,826.0 329.1,829.5 329.4,833.0 329.2,836.5 330.4,840.0 330.1,843.5 330.3,847.0 330.7,850.5 331.0,854.0 331.2,857.6 331.3,861.3 331.7,864.9 332.4,868.5 332.4,872.2 332.7,875.8 333.4,879.5 333.5,883.1 333.8,886.7 333.6,890.4 334.0,894.0 334.3,897.7 334.1,901.4 334.4,905.1 335.4,908.9 335.4,912.6 336.1,916.3 336.0,920.0 335.8,923.5 337.2,927.0 336.8,930.5 338.6,934.0 338.4,937.5 339.2,941.0 341.1,944.5 340.7,948.0 341.0,951.7 343.3,955.4 344.4,959.2 342.3,962.9 345.3,966.6 346.2,970.1 346.5,973.6 347.6,977.1 348.9,980.6 348.0,984.1 350.0,987.6 351.1,991.3 350.6,994.9 351.6,998.6 351.3,1002.3 352.4,1006.0 353.1,1009.6 353.5,1013.3 355.1,1013.2 356.6,1018.6 358.2,1018.0 358.0,1021.8 359.2,1025.6 359.3,1029.4 359.6,1033.2 359.9,1036.9 360.1,1040.7 361.4,1044.5 361.7,1048.3 363.2,1046.1 364.8,1052.0 366.3,1052.9 368.3,1056.7 367.4,1060.5 368.7,1064.3 369.4,1068.1 370.7,1071.9 370.8,1075.7 371.3,1079.5 372.2,1083.3 373.7,1078.9 375.7,1074.4 376.0,1070.0 378.1,1067.8 380.3,1066.9 382.1,1070.0 383.8,1075.7 385.6,1077.3 387.3,1078.6 388.9,1081.3 390.4,1078.6 392.0,1081.1 393.5,1084.3 395.1,1082.1 396.6,1083.3 398.4,1083.0 400.1,1084.8 401.9,1088.7 403.6,1087.9 405.4,1088.5 407.1,1092.4 408.9,1093.7 410.6,1094.9 412.2,1096.1 413.7,1094.3 415.3,1095.9 416.9,1095.8 418.4,1096.8 420.0,1097.3 421.8,1098.0 423.5,1099.2 425.2,1100.0 427.0,1101.9 428.8,1103.2 430.5,1104.6 432.2,1106.8 434.0,1108.9 435.7,1109.1 437.3,1109.0 439.0,1109.0 440.6,1108.2 442.3,1108.1 443.9,1108.8 445.6,1108.9 447.2,1111.6 448.7,1111.2 450.3,1112.1 451.9,1113.3 453.4,1115.6 455.0,1115.9 456.6,1116.8 458.1,1115.0 459.6,1114.4 461.2,1114.6 462.8,1116.4 464.3,1116.5 465.9,1117.2 467.4,1115.9 469.0,1116.3 470.5,1115.6 472.1,1115.6 473.6,1115.9 475.2,1114.2 476.7,1115.8 478.3,1116.3 479.8,1116.3 481.4,1116.0 483.0,1115.8 484.5,1115.8 486.1,1116.7 487.6,1116.1 489.2,1115.9 490.7,1115.9 492.3,1115.9 493.9,1115.8 495.6,1115.6 497.2,1115.7 498.8,1116.4 500.5,1116.6 502.1,1116.7 503.7,1117.0 505.4,1117.3 507.0,1117.1" fill="none" stroke="#4d4d4d" stroke-width="3.4" stroke-linejoin="round" stroke-linecap="round"/>
<polyline points="322.8,658.0 323.5,800.0 324.5,900.0" fill="none" stroke="#f0434a" stroke-width="2.55" stroke-linejoin="round" stroke-linecap="round"/>
<polyline points="324.5,900.0 325.5,929.3 326.7,948.0 327.3,951.8 327.3,955.6 328.5,959.4 328.7,963.1 329.2,966.9 329.3,970.7 329.2,974.5 330.2,978.3 331.9,974.0 333.7,971.3 335.0,974.8 336.7,978.3 336.7,981.8 338.3,985.3 339.9,991.1 341.4,988.3 343.0,991.3 344.6,995.6 346.1,997.3 347.7,1001.6 349.6,1006.3 351.6,1005.8 353.5,1011.0 355.1,1005.9 356.6,1002.2 358.2,999.3 358.3,1003.0 361.2,1006.8 360.6,1010.5 359.4,1014.3 361.7,1018.0 363.4,1021.4 365.2,1026.0 366.9,1034.0 368.7,1032.0 370.4,1026.8 372.1,1027.9 373.9,1022.6 375.6,1022.6 377.2,1021.8 378.7,1022.2 380.3,1022.6 381.3,1026.3 382.9,1029.9 383.1,1033.6 383.2,1037.3 383.5,1041.0 383.3,1044.6 385.0,1048.3 386.8,1052.1 388.5,1054.2 390.2,1055.8 392.0,1059.9 393.8,1061.7 395.5,1063.7 397.2,1065.1 399.0,1069.3 400.8,1071.8 402.5,1075.4 404.2,1078.4 406.0,1083.3 407.8,1087.6 409.5,1088.1 411.2,1085.1 413.0,1087.9 414.8,1087.8 416.5,1090.1 418.2,1090.4 420.0,1090.3 421.8,1089.2 423.5,1090.1 425.2,1092.6 427.0,1094.9 428.8,1095.5 430.5,1094.8 432.2,1094.0 434.0,1092.6 435.8,1097.0 437.5,1099.4 439.2,1101.8 441.0,1104.3 442.8,1105.8 444.5,1108.1 446.2,1112.5 448.0,1113.6 449.6,1113.1 451.3,1111.8 452.9,1111.2 454.5,1113.2 456.1,1110.5 457.8,1110.6 459.4,1109.6 461.0,1108.9 462.7,1108.7 464.3,1108.9 465.9,1110.2 467.4,1109.8 469.0,1111.5 470.5,1112.8 472.1,1112.0 473.6,1113.5 475.2,1114.2 476.7,1115.9 478.3,1115.9 479.8,1115.9 481.3,1116.8 482.8,1116.0 484.3,1116.1 485.9,1117.0 487.4,1115.8 488.9,1114.9 490.4,1116.4 491.9,1115.7 493.4,1115.6 494.9,1116.0 496.4,1116.6 497.9,1115.3 499.4,1115.8 501.0,1115.5 502.5,1116.2 504.0,1116.3 505.5,1116.8 507.0,1115.9" fill="none" stroke="#f0434a" stroke-width="3.4" stroke-linejoin="round" stroke-linecap="round"/>
<polyline points="323.0,670.0 324.3,720.0" fill="none" stroke="#1f68d8" stroke-width="2.55" stroke-linejoin="round" stroke-linecap="round"/>
<polyline points="324.3,720.0 325.0,790.0 325.0,793.6 325.1,797.2 325.7,800.8 325.8,804.4 326.1,808.0 326.2,811.6 326.3,815.2 326.4,818.8 327.1,822.4 327.0,826.0 328.0,860.0 328.2,863.8 328.4,867.5 328.9,871.2 328.8,875.0 329.7,878.8 330.0,882.5 329.7,886.2 330.0,890.0 330.8,893.9 331.5,897.7 331.3,901.6 332.5,905.4 332.1,909.3 332.9,913.1 333.0,917.0 334.2,920.8 335.5,924.5 334.8,928.3 335.7,932.0 336.4,935.8 337.0,939.5 337.2,943.3 337.4,946.8 338.5,950.3 337.5,953.8 337.9,957.3 340.5,960.8 339.8,964.3 341.7,967.8 341.8,971.3 342.9,975.0 342.5,978.8 343.0,982.5 343.9,986.2 343.9,990.0 344.5,993.7 344.3,997.4 345.1,1001.1 345.0,1004.9 346.5,1008.6 348.4,1013.6 350.4,1019.6 352.3,1022.6 352.7,1026.6 352.5,1030.6 353.4,1034.6 354.9,1038.6 354.9,1042.6 357.3,1046.6 357.0,1050.6 358.6,1053.7 360.1,1056.7 361.6,1063.5 363.2,1061.2 364.8,1068.9 366.3,1069.3 367.9,1071.8 369.4,1072.9 371.0,1072.2 372.5,1072.1 374.1,1078.4 375.6,1076.3 377.2,1075.6 378.7,1074.7 380.3,1078.7 381.9,1078.0 383.4,1079.1 385.0,1080.9 386.6,1079.3 388.1,1085.9 389.6,1087.5 391.2,1089.0 392.8,1091.5 394.3,1092.6 396.0,1093.6 397.6,1093.3 399.3,1095.6 401.0,1094.4 402.7,1096.0 404.3,1096.0 406.0,1097.3 407.6,1097.7 409.1,1099.8 410.6,1103.4 412.2,1103.9 413.8,1105.8 415.3,1106.6 417.1,1105.9 418.8,1106.6 420.6,1103.7 422.3,1104.3 423.9,1104.5 425.4,1107.5 427.0,1106.0 428.5,1107.1 430.1,1106.0 431.6,1106.5 433.2,1106.6 434.7,1108.2 436.3,1108.9 438.0,1106.7 439.6,1107.9 441.3,1106.6 443.0,1105.7 444.7,1107.1 446.3,1107.6 448.0,1106.6 449.8,1108.3 451.5,1111.2 453.2,1114.3 455.0,1115.9 456.6,1115.1 458.1,1114.7 459.6,1113.0 461.2,1112.5 462.8,1111.2 464.3,1111.3 465.9,1111.1 467.4,1112.6 469.0,1113.2 470.5,1113.2 472.1,1113.4 473.6,1114.9 475.2,1114.8 476.7,1114.6 478.3,1115.9 479.9,1116.4 481.4,1115.5 483.0,1115.8 484.5,1116.6 486.1,1115.8 487.6,1115.8 489.2,1117.3 490.7,1115.9 492.3,1115.9 493.9,1116.5 495.6,1116.5 497.2,1117.0 498.8,1116.0 500.5,1117.1 502.1,1118.0 503.7,1117.2 505.4,1118.2 507.0,1118.3" fill="none" stroke="#1f68d8" stroke-width="3.4" stroke-linejoin="round" stroke-linecap="round"/>
<polyline points="322.5,1000.0 323.2,1004.0" fill="none" stroke="#37ad6c" stroke-width="2.55" stroke-linejoin="round" stroke-linecap="round"/>
<polyline points="323.2,1004.0 324.3,1057.6 325.5,1092.6 327.4,1090.2 329.4,1092.8 331.3,1094.9 331.0,1099.0 334.4,1103.1 335.0,1107.2 336.0,1111.3 337.6,1112.1 339.1,1112.0 340.6,1112.6 342.2,1112.1 343.8,1113.5 345.3,1113.6 347.1,1111.6 348.8,1111.6 350.6,1112.3 352.3,1111.3 353.9,1113.3 355.4,1113.4 357.0,1115.9 358.6,1117.7 360.1,1119.6 361.7,1120.6 363.3,1120.2 365.0,1120.1 366.6,1119.3 368.2,1119.1 369.9,1117.3 371.5,1117.8 373.1,1117.3 374.7,1115.5 376.4,1116.6 378.0,1115.9 379.6,1116.2 381.1,1116.0 382.7,1116.7 384.2,1117.7 385.8,1117.2 387.3,1118.6 388.9,1117.4 390.4,1118.2 392.0,1118.3 393.7,1117.8 395.3,1118.3 397.0,1116.5 398.6,1118.0 400.3,1116.9 401.9,1117.4 403.6,1115.9 405.2,1117.0 406.7,1116.9 408.3,1117.8 409.9,1119.9 411.4,1120.2 413.0,1120.6 414.5,1119.8 416.0,1120.9 417.5,1121.1 419.0,1121.4 420.5,1120.7 422.0,1121.3 423.5,1121.5 425.0,1121.5 426.2,1121.5 427.4,1121.5 428.6,1121.5 429.8,1121.5 431.0,1121.5 432.2,1121.5 433.4,1121.5 434.6,1121.5 435.8,1121.5 437.0,1121.5 438.2,1121.5 439.4,1121.5 440.6,1121.5 441.8,1121.5 443.0,1121.5 444.2,1121.5 445.4,1121.5 446.6,1121.5 447.8,1121.5 449.0,1121.5 450.2,1121.5 451.4,1121.5 452.6,1121.5 453.8,1121.5 455.0,1121.5 456.2,1121.5 457.4,1121.5 458.6,1121.5 459.8,1121.5 461.0,1121.5 462.2,1121.5 463.4,1121.5 464.6,1121.5 465.8,1121.5 467.0,1121.5 468.2,1121.5 469.4,1121.5 470.6,1121.5 471.8,1121.5 473.0,1121.5 473.6,1119.9 474.9,1119.9 475.3,1121.5 477.2,1121.5 478.4,1121.5 479.6,1121.5 480.8,1121.5 482.0,1121.5 483.2,1121.5 484.4,1121.5 485.6,1121.5 486.8,1121.5 488.0,1121.5 489.2,1121.5 490.4,1121.5 491.6,1121.5 492.2,1118.4 493.3,1118.4 494.3,1121.5 495.8,1121.5 497.0,1121.5 498.2,1121.5 499.4,1121.5 500.6,1121.5 501.8,1121.5 503.0,1121.5 504.2,1121.5 505.4,1121.5 506.6,1121.5 507.0,1121.5" fill="none" stroke="#37ad6c" stroke-width="3.4" stroke-linejoin="round" stroke-linecap="round"/>
<polyline points="322.2,658.0 322.6,1050.6 323.7,1053.0" fill="none" stroke="#a872d2" stroke-width="2.55" stroke-linejoin="round" stroke-linecap="round"/>
<polyline points="323.7,1053.0 324.7,1056.5 325.8,1060.0 327.5,1063.5 327.3,1067.0 328.2,1070.5 329.0,1074.0 330.8,1074.6 332.5,1071.0 334.2,1071.7 336.0,1071.6 337.8,1073.2 339.5,1075.5 341.2,1079.5 343.0,1080.9 344.8,1080.5 346.5,1079.8 348.2,1077.7 350.0,1076.3 351.8,1079.2 353.5,1083.2 355.2,1083.4 357.0,1087.9 358.8,1089.5 360.5,1084.9 362.2,1086.0 364.0,1085.6 365.8,1089.9 367.5,1094.9 369.2,1095.4 371.0,1101.9 372.6,1104.7 374.1,1103.8 375.6,1105.0 377.2,1107.6 378.8,1108.1 380.3,1108.9 381.9,1108.9 383.4,1109.7 385.0,1112.3 386.5,1111.8 388.1,1113.1 389.6,1113.6 391.4,1111.9 393.1,1108.8 394.9,1108.6 396.6,1106.6 398.4,1106.7 400.1,1107.8 401.9,1109.0 403.6,1108.9 405.2,1110.1 406.7,1109.8 408.3,1110.6 409.9,1111.4 411.4,1113.7 413.0,1113.6 414.6,1114.7 416.1,1114.7 417.6,1116.4 419.2,1116.9 420.8,1117.5 422.3,1118.3 423.9,1118.1 425.6,1117.4 427.2,1117.8 428.8,1117.3 430.5,1117.2 432.1,1118.1 433.7,1117.1 435.3,1116.1 437.0,1115.7 438.6,1115.9 440.2,1116.1 441.9,1117.4 443.5,1117.3 445.2,1118.8 446.8,1117.9 448.4,1119.2 450.1,1119.2 451.7,1119.7 453.4,1120.0 455.0,1120.6 456.5,1120.9 458.0,1120.9 459.5,1119.9 461.0,1120.5 462.5,1120.9 464.0,1120.9 465.5,1120.9 467.0,1120.9 468.5,1120.7 470.0,1121.0 471.2,1120.9 472.4,1120.9 473.6,1120.9 474.2,1117.8 475.3,1117.8 476.0,1120.9 477.8,1120.9 479.0,1120.9 480.2,1120.9 481.4,1120.9 482.6,1120.9 483.8,1120.9 485.0,1120.9 486.2,1120.9 487.4,1120.9 488.6,1120.9 489.8,1120.9 491.0,1120.9 492.2,1120.9 493.4,1120.9 494.6,1120.9 495.8,1120.9 497.0,1120.9 498.2,1120.9 499.4,1120.9 500.6,1120.9 501.8,1120.9 503.0,1120.9 504.2,1120.9 505.4,1120.9 506.6,1120.9 507.0,1120.9" fill="none" stroke="#b472dd" stroke-width="3.4" stroke-linejoin="round" stroke-linecap="round"/>
<polyline points="510.0,673.0 510.5,720.0 511.2,757.0" fill="none" stroke="#4d4d4d" stroke-width="2.325" stroke-linejoin="round" stroke-linecap="round"/>
<polyline points="511.2,757.0 511.2,760.5 511.5,764.1 511.5,767.6 511.7,771.1 511.8,774.6 512.0,778.2 511.9,781.7 512.2,785.2 512.2,788.8 512.6,792.3 512.4,795.8 512.6,799.4 512.9,802.9 513.0,806.4 513.0,809.9 513.2,813.5 513.3,817.0 514.0,850.0 514.5,853.6 514.2,857.2 514.7,860.8 514.9,864.4 515.0,868.0 515.3,871.6 515.4,875.1 516.3,878.7 516.5,882.3 516.6,885.9 516.9,889.5 517.3,893.1 517.5,896.7 517.4,900.3 518.0,903.9 518.3,907.5 519.0,911.0 519.1,914.6 519.7,918.2 520.5,921.8 520.3,925.4 521.0,929.0 520.9,932.5 521.3,936.1 522.0,939.7 522.2,943.3 523.3,971.3 524.9,973.3 526.4,976.7 528.0,978.3 528.5,981.8 529.4,985.3 529.4,988.8 529.4,992.3 529.9,995.8 530.8,999.3 532.0,1002.8 531.6,1006.3 531.8,1009.8 532.7,1013.3 534.2,1013.5 535.8,1019.5 537.3,1022.6 539.5,1026.6 538.8,1030.6 540.1,1034.6 540.3,1038.6 541.3,1042.6 542.9,1046.6 543.2,1050.6 544.7,1047.0 546.3,1048.3 547.8,1046.0 548.7,1050.0 550.3,1054.0 551.6,1058.0 552.6,1061.9 553.0,1065.9 554.8,1069.9 556.0,1073.9 557.5,1074.3 559.1,1076.0 560.6,1077.0 562.2,1079.6 563.8,1082.2 565.3,1083.3 567.0,1086.8 568.8,1087.5 570.5,1089.3 572.3,1092.6 573.9,1091.9 575.6,1094.9 577.2,1094.3 578.9,1094.0 580.5,1094.9 582.1,1092.2 583.7,1092.5 585.4,1092.8 587.0,1089.7 588.6,1087.9 590.2,1090.3 591.7,1093.5 593.3,1094.9 594.9,1099.3 596.4,1101.1 598.0,1106.6 599.5,1106.1 601.1,1108.8 602.6,1108.1 604.2,1107.7 605.8,1108.2 607.3,1108.9 608.8,1108.2 610.4,1109.7 612.0,1108.4 613.5,1109.8 615.0,1109.9 616.6,1108.9 618.2,1108.5 619.7,1107.5 621.3,1107.2 622.9,1106.7 624.4,1106.0 626.0,1105.4 627.8,1105.1 629.5,1106.9 631.2,1108.0 633.0,1107.8 634.5,1106.1 636.1,1108.3 637.6,1108.5 639.2,1110.0 640.8,1109.9 642.3,1110.1 644.0,1111.4 645.8,1113.6 647.5,1114.3 649.3,1115.9 650.9,1116.3 652.4,1116.9 654.0,1116.4 655.5,1117.1 657.1,1116.8 658.6,1117.7 660.2,1117.4 661.7,1118.5 663.3,1118.3 664.9,1118.0 666.6,1118.1 668.2,1117.6 669.8,1117.4 671.5,1116.6 673.1,1117.6 674.7,1116.9 676.3,1116.9 678.0,1116.7 679.6,1115.9 681.2,1116.5 682.8,1115.7 684.4,1116.7 686.0,1117.0 687.7,1116.9 689.3,1118.1 690.9,1118.0 692.5,1118.3" fill="none" stroke="#4d4d4d" stroke-width="3.1" stroke-linejoin="round" stroke-linecap="round"/>
<polyline points="508.5,658.0 509.5,800.0" fill="none" stroke="#f0434a" stroke-width="2.325" stroke-linejoin="round" stroke-linecap="round"/>
<polyline points="509.5,800.0 510.5,920.0 511.7,978.3 513.5,980.5 515.2,983.8 517.0,983.7 518.7,987.6 519.0,991.2 520.5,994.8 519.7,998.4 520.7,1002.0 520.6,1005.6 521.3,1009.3 521.1,1012.9 521.8,1016.5 522.6,1020.1 522.9,1023.7 523.3,1027.3 522.8,1030.8 526.5,1034.3 525.6,1037.8 526.9,1041.3 527.6,1044.8 527.1,1048.3 528.6,1051.8 530.3,1055.3 532.0,1054.1 533.8,1061.4 535.5,1064.7 537.3,1066.9 538.9,1072.4 540.4,1069.9 542.0,1068.5 543.6,1075.1 545.1,1075.5 546.7,1078.6 547.8,1082.7 550.0,1086.8 551.3,1090.8 551.3,1094.9 553.0,1094.7 554.8,1097.0 556.5,1098.8 558.3,1097.3 559.9,1099.5 561.4,1104.2 563.0,1106.6 564.5,1108.2 566.1,1106.8 567.6,1108.0 569.2,1108.7 570.8,1107.9 572.3,1108.9 573.8,1109.4 575.4,1110.0 577.0,1109.9 578.5,1112.2 580.0,1112.1 581.6,1113.6 583.2,1113.5 584.7,1113.9 586.3,1114.4 587.9,1114.7 589.4,1113.4 591.0,1113.6 592.8,1114.3 594.5,1115.1 596.2,1115.3 598.0,1115.9 599.5,1115.9 601.1,1115.8 602.6,1116.5 604.2,1116.3 605.8,1116.3 607.3,1115.9 608.9,1115.5 610.4,1116.9 612.0,1114.7 613.5,1114.7 615.1,1115.7 616.6,1115.4 618.2,1116.0 619.7,1115.4 621.3,1115.9 622.8,1115.6 624.4,1115.8 626.0,1116.5 627.5,1116.1 629.0,1115.7 630.6,1115.9 632.2,1116.2 633.7,1117.1 635.3,1117.3 636.9,1117.7 638.4,1118.3 640.0,1119.4 641.5,1119.2 643.1,1119.8 644.6,1119.9 646.2,1119.2 647.7,1120.1 649.2,1119.5 650.8,1118.9 652.3,1120.2 653.8,1119.5 655.4,1120.0 656.9,1119.7 658.5,1120.3 660.0,1120.0 661.5,1120.3 663.1,1120.2 664.6,1119.7 666.2,1119.8 667.7,1120.3 669.3,1120.3 670.8,1120.1 672.4,1119.2 673.9,1120.3 675.5,1119.9 677.0,1120.3 678.6,1119.9 680.1,1120.3 681.7,1119.7 683.2,1119.3 684.8,1119.6 686.3,1119.3 687.9,1120.3 689.4,1120.3 691.0,1120.2 692.5,1120.0" fill="none" stroke="#f0434a" stroke-width="3.1" stroke-linejoin="round" stroke-linecap="round"/>
<polyline points="509.0,670.0 509.8,760.0 510.5,850.0" fill="none" stroke="#1f68d8" stroke-width="2.325" stroke-linejoin="round" stroke-linecap="round"/>
<polyline points="510.5,850.0 510.8,853.5 510.6,857.0 510.8,860.5 511.0,864.0 511.0,867.5 511.5,871.0 511.3,874.5 511.5,878.0 511.4,881.5 511.6,885.0 511.8,888.5 512.0,892.0 512.1,895.5 512.3,899.0 512.1,902.5 512.5,906.0 512.3,909.5 512.6,913.0 512.8,916.5 512.8,920.0 512.7,923.9 513.3,927.8 515.5,931.6 515.6,935.5 517.8,939.4 517.5,943.3 518.2,947.0 517.8,950.8 519.1,954.5 518.7,958.2 520.5,962.0 520.1,965.7 520.6,969.4 521.1,973.1 521.8,976.9 522.2,980.6 523.1,984.2 523.1,987.9 523.3,991.5 523.7,995.1 524.7,998.8 524.2,1002.4 525.1,1006.0 525.6,1009.7 525.7,1013.3 525.8,1016.9 526.3,1020.6 527.3,1024.2 527.5,1027.8 527.7,1031.5 528.5,1035.1 528.2,1038.7 528.9,1042.4 529.2,1046.0 530.0,1049.7 531.6,1053.4 532.3,1057.2 535.2,1060.9 535.0,1064.6 536.5,1070.2 538.1,1072.1 539.6,1072.6 541.2,1074.4 542.8,1074.5 544.3,1078.6 545.9,1079.9 547.4,1080.6 549.0,1080.9 550.8,1080.3 552.5,1078.5 554.2,1081.7 556.0,1078.6 557.0,1082.7 557.5,1086.8 559.8,1090.8 560.6,1094.9 562.4,1093.4 564.1,1091.9 565.9,1089.9 567.6,1090.3 569.2,1091.4 570.7,1092.7 572.3,1094.7 573.9,1098.5 575.4,1096.9 577.0,1099.6 578.5,1100.3 580.1,1101.5 581.6,1103.3 583.2,1103.2 584.8,1104.9 586.3,1106.6 587.8,1107.1 589.4,1108.1 591.0,1108.4 592.5,1108.0 594.0,1109.0 595.6,1108.9 597.2,1109.6 598.7,1109.7 600.3,1111.0 601.9,1110.0 603.4,1111.9 605.0,1111.3 606.7,1110.5 608.3,1113.8 610.0,1112.1 611.6,1113.6 613.3,1112.9 614.9,1112.2 616.6,1113.6 618.2,1114.8 619.7,1114.6 621.3,1115.7 622.8,1115.5 624.4,1115.9 625.9,1117.0 627.5,1117.6 629.0,1118.6 630.6,1118.3 632.2,1117.4 633.7,1118.6 635.3,1117.6 636.8,1117.3 638.4,1117.7 640.0,1117.4 641.5,1116.5 643.1,1117.1 644.6,1115.9 646.2,1115.4 647.7,1116.2 649.3,1115.9 650.9,1116.5 652.4,1116.8 654.0,1117.3 655.5,1117.4 657.1,1118.7 658.6,1118.2 660.2,1119.0 661.7,1119.0 663.3,1119.4 664.8,1119.5 666.4,1119.4 667.9,1119.6 669.4,1119.8 671.0,1119.4 672.5,1118.8 674.1,1119.0 675.6,1119.3 677.1,1119.7 678.7,1119.6 680.2,1119.6 681.7,1119.2 683.3,1119.2 684.8,1119.4 686.4,1119.9 687.9,1119.7 689.4,1119.7 691.0,1119.0 692.5,1119.4" fill="none" stroke="#1f68d8" stroke-width="3.1" stroke-linejoin="round" stroke-linecap="round"/>
<polyline points="508.8,930.0 509.3,1053.0 510.5,1090.3" fill="none" stroke="#37ad6c" stroke-width="2.325" stroke-linejoin="round" stroke-linecap="round"/>
<polyline points="510.5,1090.3 511.8,1094.4 512.4,1098.4 515.2,1102.5 516.3,1106.6 518.0,1108.3 519.8,1107.9 521.5,1109.8 523.3,1111.3 525.0,1113.0 526.6,1110.9 528.3,1111.8 530.0,1113.6 531.7,1112.6 533.3,1113.5 535.0,1113.6 536.5,1114.8 538.1,1115.3 539.6,1115.9 541.2,1116.6 542.8,1117.2 544.3,1118.3 546.0,1119.0 547.8,1119.5 549.5,1120.1 551.3,1120.6 552.8,1120.4 554.4,1120.2 556.0,1119.2 557.5,1118.9 559.0,1118.7 560.6,1118.3 562.2,1117.2 563.7,1119.3 565.3,1119.4 566.9,1119.8 568.4,1120.4 570.0,1120.6 571.5,1120.8 573.0,1120.4 574.5,1121.0 576.0,1121.2 577.5,1120.9 579.0,1121.4 580.5,1121.5 582.0,1121.5 583.5,1121.2 585.0,1121.5 586.2,1121.5 587.4,1121.5 588.6,1121.5 589.8,1121.5 591.0,1121.5 592.2,1121.5 592.8,1118.4 593.8,1118.4 594.5,1121.5 596.4,1121.5 597.6,1121.5 598.8,1121.5 600.0,1121.5 601.2,1121.5 602.4,1121.5 603.6,1121.5 604.8,1121.5 606.0,1121.5 607.2,1121.5 608.4,1121.5 609.6,1121.5 610.8,1121.5 612.0,1121.5 613.2,1121.5 614.4,1121.5 615.6,1121.5 616.8,1121.5 618.0,1121.5 619.2,1121.5 620.4,1121.5 621.6,1121.5 622.8,1121.5 624.0,1121.5 625.2,1121.5 626.4,1121.5 627.6,1121.5 628.8,1121.5 630.0,1121.5 630.6,1119.9 631.7,1119.9 632.5,1121.5 634.2,1121.5 635.4,1121.5 636.0,1119.9 638.0,1119.9 638.2,1121.5 639.6,1121.5 640.8,1121.5 642.0,1121.5 643.2,1121.5 644.4,1121.5 645.6,1121.5 646.8,1121.5 647.4,1118.4 649.2,1118.4 649.7,1121.5 651.0,1121.5 652.2,1121.5 653.4,1121.5 654.6,1121.5 655.8,1121.5 657.0,1121.5 658.2,1121.5 659.4,1121.5 660.6,1121.5 661.8,1121.5 663.0,1121.5 664.2,1121.5 665.4,1121.5 666.6,1121.5 667.8,1121.5 669.0,1121.5 670.2,1121.5 671.4,1121.5 672.6,1121.5 673.8,1121.5 675.0,1121.5 675.6,1118.4 676.3,1118.4 678.1,1121.5 679.2,1121.5 680.4,1121.5 681.6,1121.5 682.8,1121.5 684.0,1121.5 685.2,1121.5 686.4,1121.5 687.6,1121.5 688.8,1121.5 690.0,1121.5 691.2,1121.5 692.4,1121.5 692.5,1121.5" fill="none" stroke="#37ad6c" stroke-width="3.1" stroke-linejoin="round" stroke-linecap="round"/>
<polyline points="508.2,658.0 508.7,1050.6" fill="none" stroke="#a872d2" stroke-width="2.325" stroke-linejoin="round" stroke-linecap="round"/>
<polyline points="508.7,1050.6 510.2,1049.7 511.7,1053.0 512.7,1056.9 515.5,1060.7 516.3,1064.6 516.8,1068.1 516.5,1071.6 517.9,1075.1 518.7,1078.6 520.2,1082.6 521.8,1085.2 523.3,1087.9 525.0,1089.5 526.8,1091.2 528.5,1090.5 530.3,1092.6 532.0,1096.1 533.8,1095.7 535.5,1100.7 537.3,1101.9 539.0,1101.7 540.8,1103.6 542.5,1105.9 544.3,1106.6 546.0,1107.1 547.8,1109.3 549.5,1110.5 551.3,1111.3 552.8,1111.4 554.4,1110.8 556.0,1112.3 557.5,1112.7 559.0,1114.7 560.6,1113.6 562.2,1114.3 563.7,1114.0 565.3,1114.7 566.9,1116.3 568.4,1115.7 570.0,1117.1 571.7,1117.6 573.3,1118.0 575.0,1118.5 576.6,1118.8 578.3,1119.9 579.9,1120.2 581.6,1120.6 583.1,1120.7 584.7,1120.9 586.2,1120.7 587.7,1120.5 589.3,1120.9 590.8,1120.8 592.3,1120.9 593.9,1120.9 595.4,1120.9 596.9,1120.2 598.5,1120.9 600.0,1121.0 601.2,1120.9 602.4,1120.9 603.6,1120.9 604.8,1120.9 606.0,1120.9 607.2,1120.9 608.4,1120.9 609.6,1120.9 610.8,1120.9 612.0,1120.9 613.2,1120.9 614.4,1120.9 615.6,1120.9 616.8,1120.9 618.0,1120.9 619.2,1120.9 620.4,1120.9 621.6,1120.9 622.8,1120.9 624.0,1120.9 625.2,1120.9 626.4,1120.9 627.6,1120.9 628.8,1120.9 630.0,1120.9 631.2,1120.9 632.4,1120.9 633.6,1120.9 634.8,1120.9 636.0,1120.9 637.2,1120.9 638.4,1120.9 639.6,1120.9 640.8,1120.9 642.0,1120.9 643.2,1120.9 644.4,1120.9 645.6,1120.9 646.8,1120.9 648.0,1120.9 649.2,1120.9 650.4,1120.9 651.6,1120.9 652.8,1120.9 654.0,1120.9 655.2,1120.9 656.4,1120.9 657.6,1120.9 658.8,1120.9 660.0,1120.9 661.2,1120.9 662.4,1120.9 663.6,1120.9 664.8,1120.9 666.0,1120.9 667.2,1120.9 668.4,1120.9 669.6,1120.9 670.8,1120.9 672.0,1120.9 673.2,1120.9 674.4,1120.9 675.6,1120.9 676.8,1120.9 678.0,1120.9 679.2,1120.9 680.4,1120.9 681.6,1120.9 682.8,1120.9 684.0,1120.9 685.2,1120.9 686.4,1120.9 687.6,1120.9 688.8,1120.9 690.0,1120.9 691.2,1120.9 692.4,1120.9 692.5,1120.9" fill="none" stroke="#b472dd" stroke-width="3.1" stroke-linejoin="round" stroke-linecap="round"/>
<polyline points="694.5,697.0 695.3,780.0" fill="none" stroke="#4d4d4d" stroke-width="2.175" stroke-linejoin="round" stroke-linecap="round"/>
<polyline points="695.3,780.0 696.5,850.0 697.8,880.0 698.5,883.6 698.6,887.3 699.3,890.9 699.4,894.5 700.3,898.2 700.4,901.8 700.5,905.5 701.6,909.1 701.4,912.7 701.7,916.4 702.5,920.0 703.1,923.5 703.5,927.0 704.0,930.5 704.2,934.0 704.9,937.5 705.3,941.0 705.7,944.5 706.2,948.0 707.3,951.5 707.2,955.0 707.9,958.5 708.1,962.0 708.1,965.5 709.1,969.0 709.8,972.5 710.2,976.0 710.2,979.5 711.4,983.0 711.0,986.5 711.8,990.0 712.2,993.5 712.9,997.0 713.0,1000.5 713.7,1004.0 714.2,1007.5 716.2,1011.0 715.9,1014.5 716.5,1018.0 717.3,1021.7 718.0,1025.4 719.7,1029.2 719.8,1032.9 721.2,1036.6 721.9,1040.3 723.0,1044.1 724.6,1047.8 726.0,1051.6 727.0,1055.3 728.8,1060.4 730.5,1063.0 732.2,1063.4 734.0,1069.3 735.8,1072.6 737.5,1076.4 739.2,1079.3 741.0,1083.3 742.8,1085.7 744.5,1087.4 746.2,1089.8 748.0,1090.3 749.5,1093.2 751.1,1093.1 752.6,1097.3 754.2,1095.5 755.7,1095.5 757.3,1094.9 759.0,1096.7 760.8,1098.5 762.5,1100.9 764.3,1101.9 765.8,1102.7 767.4,1104.8 769.0,1106.5 770.5,1106.6 772.0,1108.1 773.6,1108.9 775.2,1110.9 776.7,1111.1 778.3,1111.8 779.9,1113.3 781.4,1114.8 783.0,1115.9 784.5,1116.0 786.1,1114.9 787.6,1114.8 789.2,1113.8 790.8,1114.0 792.3,1113.6 793.8,1114.5 795.4,1114.7 797.0,1114.3 798.5,1115.0 800.0,1115.5 801.6,1115.9 803.2,1115.3 804.7,1114.9 806.3,1114.5 807.8,1114.8 809.4,1114.7 810.9,1113.6 812.5,1114.3 814.0,1113.0 815.6,1113.6 817.2,1113.8 818.7,1115.4 820.3,1116.6 821.9,1116.8 823.4,1118.0 825.0,1118.3 826.6,1118.0 828.1,1118.2 829.7,1118.1 831.2,1118.4 832.8,1118.6 834.3,1118.8 835.9,1118.7 837.4,1119.2 839.0,1119.2 840.5,1118.8 842.1,1119.8 843.6,1118.9 845.2,1119.7 846.7,1119.3 848.3,1119.4 849.8,1119.1 851.4,1119.6 852.9,1119.1 854.4,1119.8 856.0,1119.8 857.5,1119.9 859.1,1119.8 860.6,1119.8 862.1,1120.3 863.7,1120.1 865.2,1119.9 866.7,1120.3 868.3,1120.3 869.8,1120.1 871.4,1120.2 872.9,1120.3 874.4,1120.3 876.0,1120.3 877.5,1120.6" fill="none" stroke="#4d4d4d" stroke-width="2.9" stroke-linejoin="round" stroke-linecap="round"/>
<polyline points="693.8,658.0 694.8,800.0" fill="none" stroke="#f0434a" stroke-width="2.175" stroke-linejoin="round" stroke-linecap="round"/>
<polyline points="694.8,800.0 695.8,900.0 696.7,966.6 697.2,970.5 697.3,974.4 698.0,978.3 698.6,982.2 698.4,986.1 699.0,990.0 699.2,993.9 699.3,997.8 700.3,1001.6 700.4,1005.5 700.7,1009.4 701.3,1013.3 703.1,1017.0 703.6,1020.8 706.0,1024.5 706.4,1028.3 708.3,1032.0 709.5,1035.9 710.0,1039.8 711.7,1043.7 712.9,1047.5 713.3,1051.4 715.3,1055.3 717.3,1056.3 719.2,1058.2 721.2,1060.0 722.7,1055.2 724.3,1054.1 725.8,1050.6 726.0,1054.2 727.2,1057.9 727.5,1061.5 728.8,1065.1 729.6,1068.8 729.6,1072.4 730.3,1076.0 730.2,1079.7 731.7,1083.3 733.4,1084.7 735.2,1087.9 736.9,1089.4 738.6,1092.6 740.2,1094.7 741.7,1098.7 743.3,1101.9 745.0,1101.8 746.8,1101.9 748.5,1101.9 750.3,1101.9 751.8,1102.5 753.4,1103.9 755.0,1104.7 756.5,1103.5 758.0,1105.5 759.6,1106.6 761.2,1107.1 762.7,1107.0 764.3,1107.5 765.9,1107.6 767.4,1108.6 769.0,1108.9 770.5,1110.1 772.1,1111.2 773.6,1112.3 775.2,1113.0 776.8,1114.3 778.3,1115.9 779.9,1116.4 781.4,1116.2 783.0,1116.9 784.5,1117.1 786.1,1117.2 787.6,1117.4 789.2,1117.4 790.7,1118.4 792.3,1118.3 793.9,1118.7 795.5,1118.2 797.1,1119.2 798.7,1119.0 800.3,1119.5 802.0,1119.3 803.6,1119.3 805.2,1119.8 806.8,1119.6 808.4,1119.7 810.0,1120.0 811.5,1120.3 813.0,1120.1 814.5,1120.3 816.0,1119.9 817.5,1119.9 819.0,1119.5 820.5,1120.3 822.0,1120.1 823.5,1119.9 825.0,1120.2 826.5,1119.7 828.0,1120.0 829.5,1120.3 831.0,1120.2 832.5,1120.0 834.0,1120.0 835.5,1119.7 837.0,1120.1 838.5,1119.7 840.0,1120.0 841.5,1120.0 843.0,1120.3 844.5,1119.7 846.0,1120.3 847.5,1119.9 849.0,1120.0 850.5,1120.3 852.0,1119.9 853.5,1119.7 855.0,1120.1 856.5,1119.9 858.0,1119.9 859.5,1120.2 861.0,1120.3 862.5,1119.8 864.0,1120.0 865.5,1120.1 867.0,1119.9 868.5,1120.0 870.0,1120.3 871.5,1119.8 873.0,1119.9 874.5,1120.0 876.0,1120.0 877.5,1120.0" fill="none" stroke="#f0434a" stroke-width="2.9" stroke-linejoin="round" stroke-linecap="round"/>
<polyline points="694.0,680.0 694.8,760.0 695.5,850.0" fill="none" stroke="#1f68d8" stroke-width="2.175" stroke-linejoin="round" stroke-linecap="round"/>
<polyline points="695.5,850.0 695.6,853.5 695.8,857.0 695.8,860.5 695.9,864.0 696.1,867.5 696.2,871.0 696.3,874.5 696.4,878.0 696.5,881.5 696.6,885.0 696.8,888.5 697.0,892.0 697.0,895.5 697.0,899.0 697.1,902.5 697.4,906.0 697.7,909.5 697.5,913.0 697.6,916.5 697.8,920.0 698.3,923.5 699.4,927.0 699.3,930.5 700.5,934.0 701.0,937.5 701.2,941.0 701.9,944.5 702.4,948.0 702.9,951.5 703.7,955.0 703.9,958.5 704.4,962.0 705.0,965.5 705.9,969.0 706.3,972.5 706.3,976.0 706.4,979.5 706.9,983.0 707.7,986.5 708.3,990.0 708.6,993.5 709.3,997.0 709.8,1000.5 710.2,1004.0 711.4,1007.5 712.3,1011.0 712.5,1014.5 713.3,1018.0 713.8,1021.5 714.2,1025.0 715.5,1028.9 715.3,1032.8 716.9,1036.7 716.6,1040.5 717.7,1044.4 718.8,1048.3 720.6,1052.2 721.4,1056.1 722.3,1059.9 723.2,1063.8 724.9,1067.7 725.8,1071.6 727.3,1075.3 728.1,1079.1 730.0,1082.8 730.6,1086.6 731.7,1090.3 733.4,1094.1 735.2,1098.6 736.9,1103.4 738.6,1106.6 740.2,1110.3 741.7,1113.1 743.3,1115.9 744.2,1112.4 745.4,1108.9 746.9,1105.4 748.0,1101.9 749.4,1105.8 750.7,1109.7 752.6,1113.6 754.4,1112.8 756.1,1111.6 757.9,1110.7 759.6,1108.9 761.2,1110.4 762.7,1110.1 764.3,1111.7 765.9,1112.3 767.4,1112.6 769.0,1113.6 770.6,1113.5 772.1,1114.2 773.7,1114.4 775.2,1114.3 776.8,1114.8 778.3,1115.1 779.9,1115.6 781.4,1115.7 783.0,1115.9 784.6,1115.9 786.3,1115.2 787.9,1115.6 789.5,1115.3 791.1,1114.4 792.8,1114.1 794.4,1114.4 796.0,1114.4 797.7,1113.4 799.3,1113.6 801.0,1113.9 802.6,1114.8 804.3,1115.1 806.0,1115.5 807.7,1116.5 809.3,1116.9 811.0,1117.1 812.6,1116.8 814.1,1117.6 815.7,1117.5 817.2,1117.7 818.8,1118.0 820.3,1118.4 821.9,1118.1 823.4,1118.3 825.0,1118.3 826.5,1118.5 828.0,1118.0 829.5,1117.6 831.0,1117.8 832.5,1117.9 834.0,1118.2 835.5,1117.7 837.0,1117.3 838.5,1117.6 840.0,1117.0 841.5,1116.8 843.0,1117.3 844.5,1117.6 846.0,1117.1 847.6,1116.9 849.1,1116.5 850.7,1116.9 852.2,1116.0 853.8,1116.8 855.3,1116.5 856.9,1116.3 858.4,1116.0 860.0,1115.9 861.8,1117.6 863.5,1118.1 865.2,1119.6 867.0,1120.6 868.5,1119.9 870.0,1119.9 871.5,1119.9 873.0,1119.9 874.5,1119.9 876.0,1119.9 877.5,1120.6" fill="none" stroke="#1f68d8" stroke-width="2.9" stroke-linejoin="round" stroke-linecap="round"/>
<polyline points="694.5,900.0 695.5,1053.0" fill="none" stroke="#37ad6c" stroke-width="2.175" stroke-linejoin="round" stroke-linecap="round"/>
<polyline points="695.5,1053.0 696.7,1083.3 697.8,1106.6 699.8,1108.5 701.7,1111.1 703.7,1113.6 705.5,1114.9 707.2,1115.9 709.0,1116.9 710.7,1118.3 712.5,1117.6 714.2,1117.1 716.0,1117.3 717.7,1115.9 719.3,1115.4 720.9,1116.0 722.6,1115.4 724.2,1114.9 725.8,1114.8 727.3,1116.0 728.8,1116.9 730.3,1117.5 731.8,1119.0 733.3,1120.3 734.8,1120.5 736.3,1121.8 737.5,1121.5 738.7,1121.5 739.9,1121.5 741.1,1121.5 742.3,1121.5 743.5,1121.5 744.7,1121.5 745.9,1121.5 747.1,1121.5 748.3,1121.5 748.9,1119.9 749.9,1119.9 751.2,1121.5 752.5,1121.5 753.7,1121.5 754.9,1121.5 755.5,1119.9 756.7,1119.9 757.7,1121.5 759.1,1121.5 760.3,1121.5 761.5,1121.5 762.7,1121.5 763.9,1121.5 765.1,1121.5 766.3,1121.5 767.5,1121.5 768.7,1121.5 769.9,1121.5 770.5,1119.9 772.2,1119.9 773.0,1121.5 774.1,1121.5 775.3,1121.5 776.5,1121.5 777.7,1121.5 778.9,1121.5 780.1,1121.5 780.7,1118.4 781.7,1118.4 782.4,1121.5 784.3,1121.5 785.5,1121.5 786.7,1121.5 787.9,1121.5 789.1,1121.5 790.3,1121.5 791.5,1121.5 792.7,1121.5 793.9,1121.5 795.1,1121.5 796.3,1121.5 797.5,1121.5 798.7,1121.5 799.9,1121.5 801.1,1121.5 802.3,1121.5 803.5,1121.5 804.7,1121.5 805.9,1121.5 807.1,1121.5 808.3,1121.5 809.5,1121.5 810.7,1121.5 811.9,1121.5 813.1,1121.5 814.3,1121.5 815.5,1121.5 816.7,1121.5 817.9,1121.5 819.1,1121.5 820.3,1121.5 821.5,1121.5 822.7,1121.5 823.9,1121.5 825.1,1121.5 826.3,1121.5 827.5,1121.5 828.7,1121.5 829.9,1121.5 831.1,1121.5 832.3,1121.5 833.5,1121.5 834.7,1121.5 835.9,1121.5 837.1,1121.5 838.3,1121.5 839.5,1121.5 840.7,1121.5 841.9,1121.5 843.1,1121.5 844.3,1121.5 845.5,1121.5 846.7,1121.5 847.9,1121.5 849.1,1121.5 850.3,1121.5 851.5,1121.5 852.7,1121.5 853.9,1121.5 855.1,1121.5 856.3,1121.5 857.5,1121.5 858.7,1121.5 859.9,1121.5 861.1,1121.5 862.3,1121.5 863.5,1121.5 864.7,1121.5 865.9,1121.5 867.1,1121.5 868.3,1121.5 869.5,1121.5 870.7,1121.5 871.9,1121.5 873.1,1121.5 874.3,1121.5 875.5,1121.5 876.7,1121.5 877.5,1121.5" fill="none" stroke="#37ad6c" stroke-width="2.9" stroke-linejoin="round" stroke-linecap="round"/>
<polyline points="693.2,658.0 693.7,850.0 694.9,920.0" fill="none" stroke="#a872d2" stroke-width="2.175" stroke-linejoin="round" stroke-linecap="round"/>
<polyline points="694.9,920.0 695.0,923.6 695.0,927.2 695.1,930.8 695.2,934.4 695.2,937.9 695.3,941.5 695.4,945.1 695.4,948.7 695.6,952.3 695.5,955.9 695.6,959.5 695.8,963.1 695.8,966.6 695.9,970.2 695.9,973.8 696.0,977.4 696.1,981.0 696.2,984.6 696.2,988.2 696.4,991.8 696.3,995.4 696.4,998.9 696.5,1002.5 696.6,1006.1 696.7,1009.7 696.7,1013.3 697.8,1078.6 699.5,1076.6 701.3,1074.0 703.0,1078.8 704.8,1083.0 706.5,1086.7 708.3,1090.3 710.0,1094.3 711.8,1098.4 713.5,1102.6 715.3,1106.6 716.9,1106.7 718.4,1107.5 720.0,1107.1 721.6,1108.8 723.1,1109.0 724.7,1108.9 726.5,1109.7 728.2,1110.7 730.0,1112.8 731.7,1113.6 733.4,1114.0 735.0,1113.7 736.7,1113.3 738.3,1113.2 740.0,1113.6 741.6,1113.7 743.3,1113.6 744.8,1114.3 746.4,1115.3 748.0,1115.0 749.5,1116.2 751.0,1118.0 752.6,1118.3 754.2,1117.5 755.7,1117.1 757.3,1116.6 758.9,1114.9 760.4,1114.7 762.0,1113.6 763.7,1114.5 765.3,1115.2 767.0,1115.9 768.6,1115.9 770.3,1117.7 771.9,1117.8 773.6,1118.3 775.2,1118.2 776.9,1119.0 778.5,1119.0 780.2,1119.2 781.8,1119.3 783.4,1119.4 785.1,1119.5 786.7,1120.2 788.4,1120.2 790.0,1120.6 791.5,1120.9 793.1,1120.7 794.6,1120.3 796.2,1120.6 797.7,1120.5 799.2,1120.6 800.8,1120.6 802.3,1120.8 803.8,1120.6 805.4,1120.8 806.9,1120.9 808.5,1120.9 810.0,1121.0 811.2,1120.9 812.4,1120.9 813.6,1120.9 814.8,1120.9 816.0,1120.9 817.2,1120.9 818.4,1120.9 819.6,1120.9 820.8,1120.9 822.0,1120.9 823.2,1120.9 824.4,1120.9 825.6,1120.9 826.8,1120.9 828.0,1120.9 829.2,1120.9 830.4,1120.9 831.6,1120.9 832.8,1120.9 834.0,1120.9 835.2,1120.9 836.4,1120.9 837.6,1120.9 838.8,1120.9 840.0,1120.9 841.2,1120.9 842.4,1120.9 843.6,1120.9 844.8,1120.9 846.0,1120.9 847.2,1120.9 848.4,1120.9 849.6,1120.9 850.8,1120.9 852.0,1120.9 853.2,1120.9 854.4,1120.9 855.6,1120.9 856.8,1120.9 858.0,1120.9 859.2,1120.9 860.4,1120.9 861.6,1120.9 862.8,1120.9 864.0,1120.9 865.2,1120.9 866.4,1120.9 867.6,1120.9 868.8,1120.9 870.0,1120.9 871.2,1120.9 872.4,1120.9 873.6,1120.9 874.8,1120.9 876.0,1120.9 877.2,1120.9 877.5,1120.9" fill="none" stroke="#b472dd" stroke-width="2.9" stroke-linejoin="round" stroke-linecap="round"/>
<polyline points="880.5,690.0 882.0,760.0" fill="none" stroke="#4d4d4d" stroke-width="2.0999999999999996" stroke-linejoin="round" stroke-linecap="round"/>
<polyline points="882.0,760.0 882.1,763.5 882.2,767.1 882.3,770.6 882.5,774.1 882.6,777.6 882.7,781.2 882.8,784.7 883.0,788.2 883.1,791.8 883.2,795.3 883.4,798.8 883.5,802.4 883.5,805.9 883.6,809.4 883.8,812.9 883.9,816.5 884.0,820.0 885.2,850.0 886.5,900.0 887.5,943.2 888.2,946.7 888.5,950.2 889.0,953.7 889.4,957.2 889.6,960.7 890.3,964.2 890.8,967.7 891.3,971.2 891.6,974.7 892.1,978.2 892.5,981.7 892.9,985.2 893.5,988.7 894.4,992.2 894.6,995.7 894.9,999.2 895.4,1002.7 895.9,1006.2 896.4,1009.7 896.8,1013.2 897.5,1017.2 898.4,1021.2 898.8,1025.2 900.2,1029.1 901.5,1033.1 901.7,1037.1 902.6,1041.1 903.5,1045.0 904.7,1048.9 905.7,1052.8 906.8,1056.7 908.2,1060.6 908.5,1064.5 909.5,1068.2 911.3,1071.9 911.7,1075.7 912.7,1079.4 914.3,1083.1 916.0,1087.0 917.8,1089.0 919.5,1091.7 921.3,1094.8 923.0,1095.8 924.8,1096.6 926.5,1098.3 928.3,1099.4 930.0,1099.6 931.8,1100.7 933.5,1101.3 935.3,1101.7 937.0,1101.4 938.8,1101.9 940.5,1101.5 942.3,1101.7 944.0,1103.8 945.8,1105.6 947.5,1106.9 949.3,1108.7 950.8,1109.3 952.4,1109.4 954.0,1109.8 955.5,1110.5 957.0,1110.7 958.6,1111.1 960.1,1111.2 961.7,1112.7 963.2,1112.4 964.8,1112.6 966.4,1113.1 967.9,1113.4 969.5,1113.7 971.0,1114.2 972.5,1114.6 974.1,1115.2 975.7,1115.3 977.2,1115.7 978.9,1115.8 980.5,1115.5 982.2,1115.2 983.9,1115.2 985.6,1115.0 987.2,1114.7 988.9,1114.6 990.6,1115.4 992.2,1116.4 993.9,1117.2 995.5,1117.8 997.2,1118.6 998.8,1119.9 1000.5,1120.4 1002.1,1120.3 1003.6,1120.0 1005.2,1120.1 1006.7,1119.8 1008.3,1120.0 1009.9,1119.9 1011.4,1119.7 1013.0,1119.5 1014.5,1119.5 1016.1,1119.4 1017.6,1119.7 1019.2,1119.2 1020.8,1118.9 1022.5,1118.6 1024.1,1118.2 1025.7,1118.1 1027.3,1117.3 1029.0,1117.0 1030.6,1116.6 1032.2,1116.5 1033.9,1116.1 1035.5,1115.7 1037.1,1116.7 1038.6,1116.6 1040.2,1117.1 1041.7,1117.7 1043.3,1118.0 1044.8,1118.8 1046.4,1119.5 1047.9,1119.7 1049.5,1120.4 1051.1,1120.3 1052.6,1120.3 1054.2,1120.3 1055.7,1120.3 1057.3,1120.3 1058.8,1120.3 1060.4,1120.3 1061.9,1120.3 1063.5,1121.6" fill="none" stroke="#4d4d4d" stroke-width="2.8" stroke-linejoin="round" stroke-linecap="round"/>
<polyline points="879.0,658.0 879.0,661.5 879.1,665.1 879.2,668.6 879.2,672.2 879.3,675.8 879.3,679.3 879.4,682.9 879.4,686.4 879.4,690.0 879.5,693.5 879.6,697.0 879.6,700.6 879.7,704.1 879.7,707.7 879.8,711.2 879.8,714.8 879.8,718.4 879.9,721.9 879.9,725.5 880.0,729.0 880.1,732.5 880.1,736.1 880.2,739.6 880.2,743.2 880.3,746.8 880.3,750.3 880.4,753.9 880.4,757.4 880.4,761.0 880.5,764.5 880.6,768.0 880.6,771.6 880.7,775.1 880.7,778.7 880.7,782.2 880.8,785.8 880.9,789.4 880.9,792.9 881.0,796.5 881.0,800.0 881.0,803.6 881.2,807.1 881.3,810.7 881.3,814.3 881.4,817.9 881.4,821.4 881.5,825.0 881.6,828.6 881.6,832.1 881.8,835.7 881.7,839.3 881.9,842.9 881.9,846.4 881.9,850.0 882.1,853.6 882.1,857.1 882.2,860.7 882.3,864.3 882.4,867.9 882.4,871.4 882.5,875.0 882.6,878.6 882.7,882.1 882.7,885.7 882.8,889.3 882.9,892.9 882.9,896.4 883.0,900.0 883.1,903.6 883.1,907.3 883.3,910.9 883.4,914.5 883.5,918.2 883.6,921.8 883.6,925.5 883.7,929.1 883.9,932.7 883.9,936.4 884.0,940.0 884.2,943.6 884.2,947.3 884.2,950.9 884.4,954.5 884.4,958.2 884.6,961.8 884.6,965.5 884.7,969.1 884.8,972.7 884.9,976.4 885.0,980.0 885.1,983.7 885.4,987.4 885.6,991.1 885.9,994.8 885.9,998.5 886.1,1002.2 886.2,1005.9 886.4,1009.6 886.7,1013.3 886.7,1017.0 887.0,1020.7 887.1,1024.4 887.3,1028.1 887.5,1031.8 888.1,1035.9 888.4,1039.9 889.1,1044.0 889.8,1048.1 890.6,1052.0 891.7,1055.9 892.9,1059.8 893.3,1063.6 894.6,1067.5 895.6,1071.4 897.0,1075.1 898.9,1078.9 899.9,1082.6 901.7,1086.4 902.6,1090.1 904.2,1093.1 905.9,1094.7 907.5,1097.6 909.2,1099.0 910.8,1101.7 912.4,1103.3 914.1,1104.9 915.7,1106.2 917.4,1107.5 919.0,1108.7 920.7,1109.9 922.5,1110.6 924.2,1110.6 925.9,1112.2 927.6,1111.0 929.4,1110.5 931.1,1109.1 932.9,1108.7 934.6,1111.2 936.4,1113.8 938.1,1115.7 939.9,1118.1 941.5,1118.3 943.0,1118.3 944.6,1118.2 946.2,1118.1 947.7,1117.8 949.3,1118.1 951.0,1117.9 952.6,1117.4 954.3,1116.9 955.9,1117.0 957.6,1116.3 959.2,1116.3 960.9,1115.7 962.6,1116.8 964.4,1117.1 966.1,1118.2 967.9,1119.2 969.5,1119.1 971.1,1119.4 972.6,1119.0 974.2,1119.8 975.8,1119.4 977.4,1119.5 979.0,1119.4 980.5,1119.9 982.1,1119.6 983.7,1119.7 985.3,1120.0 986.8,1120.0 988.4,1119.9 990.0,1120.0 991.5,1120.0 993.0,1120.2 994.5,1120.2 996.0,1119.8 997.5,1120.2 999.0,1119.7 1000.5,1119.7 1002.0,1119.8 1003.5,1120.0 1005.0,1120.1 1006.5,1120.1 1008.0,1120.1 1009.5,1120.0 1011.0,1120.2 1012.5,1119.7 1014.0,1120.0 1015.5,1120.0 1017.0,1120.0 1018.5,1120.0 1020.0,1119.9 1021.5,1120.3 1023.0,1119.9 1024.5,1119.9 1026.0,1120.2 1027.5,1120.3 1029.0,1120.2 1030.5,1120.2 1032.0,1120.3 1033.5,1120.3 1035.0,1120.2 1036.5,1120.0 1038.0,1120.1 1039.5,1120.0 1041.0,1120.0 1042.5,1119.8 1044.0,1119.9 1045.5,1119.9 1047.0,1120.1 1048.5,1120.2 1050.0,1119.9 1051.5,1120.0 1053.0,1120.1 1054.5,1120.0 1056.0,1120.0 1057.5,1120.0 1059.0,1119.9 1060.5,1119.8 1062.0,1120.0 1063.5,1120.0" fill="none" stroke="#f0434a" stroke-width="2.8" stroke-linejoin="round" stroke-linecap="round"/>
<polyline points="879.5,680.0 879.6,683.6 879.7,687.2 879.8,690.8 879.8,694.4 879.9,698.0 879.9,701.6 880.0,705.2 880.1,708.8 880.3,712.4 880.3,716.0 880.3,719.6 880.4,723.2 880.6,726.8 880.6,730.4 880.7,734.0 880.7,737.6 880.9,741.2 880.9,744.8 881.1,748.4 881.1,752.0 881.2,755.6 881.3,759.2 881.3,762.8 881.4,766.4 881.5,770.0 883.0,830.0 884.0,850.0 885.2,954.9 885.4,958.6 885.5,962.3 885.5,965.9 885.6,969.6 885.8,973.3 885.9,977.0 886.0,980.7 886.2,984.3 886.3,988.0 886.5,991.7 886.5,995.4 886.7,999.0 886.8,1002.7 886.9,1006.4 887.0,1010.1 887.1,1013.8 887.3,1017.4 887.3,1021.1 887.5,1024.8 888.1,1028.7 889.7,1032.6 890.4,1036.4 890.9,1040.3 892.6,1044.2 893.3,1048.1 895.0,1051.8 896.2,1055.6 897.8,1059.3 899.0,1063.1 900.3,1066.8 902.0,1070.4 903.8,1074.9 905.5,1078.2 907.3,1080.8 908.8,1082.6 910.4,1084.3 912.0,1086.2 913.5,1089.0 915.0,1089.7 916.6,1092.4 918.2,1094.9 919.9,1096.2 921.5,1098.1 923.2,1099.9 924.8,1101.7 926.7,1100.2 928.7,1099.6 930.6,1099.4 932.4,1099.8 934.1,1100.8 935.9,1101.3 937.6,1101.7 939.4,1103.9 941.1,1106.1 942.9,1108.9 944.6,1111.1 946.2,1111.4 947.7,1110.4 949.3,1110.4 950.8,1110.2 952.4,1110.2 953.9,1109.6 955.5,1109.1 957.0,1109.0 958.6,1108.7 960.1,1109.3 961.7,1109.0 963.2,1110.2 964.8,1110.3 966.4,1110.5 967.9,1111.1 969.6,1111.8 971.2,1112.3 972.9,1113.3 974.6,1114.3 976.3,1114.5 977.9,1115.1 979.6,1115.7 981.3,1116.2 982.9,1116.7 984.6,1116.5 986.2,1117.1 987.9,1117.6 989.5,1117.8 991.2,1118.1 992.8,1118.3 994.3,1118.4 995.9,1118.9 997.4,1118.8 999.0,1118.8 1000.5,1119.2 1002.1,1119.5 1003.7,1119.7 1005.2,1119.9 1006.8,1119.9 1008.3,1119.9 1009.9,1120.4 1011.4,1119.9 1013.0,1119.9 1014.5,1119.9 1016.1,1119.9 1017.6,1119.9 1019.2,1119.9 1020.7,1119.9 1022.3,1119.9 1023.8,1119.9 1025.4,1119.9 1026.9,1119.9 1028.5,1119.9 1030.0,1121.0 1031.2,1119.9 1032.4,1119.9 1033.6,1119.9 1034.8,1119.9 1036.0,1119.9 1037.2,1119.9 1038.4,1119.9 1039.6,1119.9 1040.8,1119.9 1042.0,1119.9 1043.2,1119.9 1044.4,1119.9 1045.6,1119.9 1046.8,1119.9 1048.0,1119.9 1049.2,1119.9 1050.4,1119.9 1051.6,1119.9 1052.8,1119.9 1054.0,1119.9 1055.2,1119.9 1056.4,1119.9 1057.0,1118.3 1057.9,1118.3 1059.0,1119.9 1060.6,1119.9 1061.8,1119.9 1063.0,1119.9 1063.5,1119.9" fill="none" stroke="#1f68d8" stroke-width="2.8" stroke-linejoin="round" stroke-linecap="round"/>
<polyline points="882.5,900.0 883.3,1050.0" fill="none" stroke="#37ad6c" stroke-width="2.0999999999999996" stroke-linejoin="round" stroke-linecap="round"/>
<polyline points="883.3,1050.0 883.5,1053.7 883.7,1057.5 883.8,1061.2 883.9,1064.9 884.2,1068.7 884.3,1072.4 884.4,1076.1 884.6,1079.9 884.7,1083.6 884.9,1087.3 885.0,1091.1 885.2,1094.8 886.3,1115.7 888.0,1115.7 889.6,1116.2 891.3,1116.3 893.0,1116.1 894.7,1116.5 896.3,1116.8 898.0,1116.9 899.6,1116.9 901.1,1117.4 902.7,1117.8 904.2,1118.4 905.8,1118.8 907.3,1119.1 908.9,1119.6 910.4,1119.9 912.0,1120.4 913.6,1120.4 915.3,1120.3 916.9,1120.8 918.5,1120.5 920.1,1120.2 921.8,1120.2 923.4,1120.2 925.0,1120.4 926.7,1120.7 928.3,1120.4 929.9,1120.3 931.4,1120.3 933.0,1120.2 934.5,1119.8 936.1,1120.1 937.6,1119.7 939.2,1119.9 940.7,1119.5 942.3,1119.7 943.8,1119.3 945.4,1119.4 946.9,1119.6 948.5,1119.1 950.0,1119.2 951.6,1119.2 953.1,1119.4 954.7,1119.6 956.2,1120.0 957.7,1120.0 959.3,1120.1 960.8,1120.5 962.3,1120.6 963.9,1121.0 965.4,1120.7 966.9,1120.9 968.5,1121.2 970.0,1121.5 971.2,1121.5 972.4,1121.5 973.6,1121.5 974.8,1121.5 976.0,1121.5 977.2,1121.5 978.4,1121.5 979.6,1121.5 980.8,1121.5 982.0,1121.5 983.2,1121.5 984.4,1121.5 985.0,1119.9 987.1,1119.9 987.2,1121.5 988.6,1121.5 989.8,1121.5 991.0,1121.5 992.2,1121.5 993.4,1121.5 994.6,1121.5 995.8,1121.5 997.0,1121.5 998.2,1121.5 999.4,1121.5 1000.6,1121.5 1001.8,1121.5 1003.0,1121.5 1004.2,1121.5 1005.4,1121.5 1006.6,1121.5 1007.8,1121.5 1009.0,1121.5 1010.2,1121.5 1011.4,1121.5 1012.0,1119.9 1013.7,1119.9 1013.7,1121.5 1015.6,1121.5 1016.8,1121.5 1018.0,1121.5 1019.2,1121.5 1020.4,1121.5 1021.0,1118.4 1022.7,1118.4 1023.5,1121.5 1024.6,1121.5 1025.8,1121.5 1027.0,1121.5 1028.2,1121.5 1029.4,1121.5 1030.6,1121.5 1031.8,1121.5 1033.0,1121.5 1034.2,1121.5 1035.4,1121.5 1036.6,1121.5 1037.8,1121.5 1039.0,1121.5 1040.2,1121.5 1041.4,1121.5 1042.6,1121.5 1043.8,1121.5 1045.0,1121.5 1046.2,1121.5 1047.4,1121.5 1048.6,1121.5 1049.8,1121.5 1051.0,1121.5 1052.2,1121.5 1053.4,1121.5 1054.6,1121.5 1055.2,1119.9 1056.7,1119.9 1057.6,1121.5 1058.8,1121.5 1060.0,1121.5 1061.2,1121.5 1062.4,1121.5 1063.5,1121.5" fill="none" stroke="#37ad6c" stroke-width="2.8" stroke-linejoin="round" stroke-linecap="round"/>
<polyline points="878.4,658.0 879.9,780.0" fill="none" stroke="#a872d2" stroke-width="2.0999999999999996" stroke-linejoin="round" stroke-linecap="round"/>
<polyline points="879.9,780.0 879.9,783.5 880.0,787.1 880.1,790.6 880.1,794.1 880.2,797.6 880.2,801.2 880.3,804.7 880.3,808.2 880.4,811.8 880.5,815.3 880.5,818.8 880.6,822.4 880.6,825.9 880.7,829.4 880.7,832.9 880.8,836.5 880.9,840.0 880.9,843.5 881.0,847.1 881.0,850.6 881.0,854.1 881.2,857.6 881.2,861.2 881.2,864.7 881.3,868.2 881.3,871.8 881.4,875.3 881.5,878.8 881.6,882.4 881.6,885.9 881.7,889.4 881.7,892.9 881.8,896.5 881.8,900.0 882.8,1094.8 884.4,1095.0 885.9,1096.7 887.5,1097.1 889.1,1098.2 890.7,1100.9 892.4,1102.8 894.0,1104.7 895.6,1106.4 897.2,1106.0 898.7,1105.7 900.3,1105.2 901.9,1105.0 903.4,1104.7 905.0,1104.1 906.8,1106.2 908.5,1108.7 910.2,1110.6 912.0,1113.4 913.5,1114.7 915.1,1116.0 916.6,1117.5 918.2,1118.9 919.8,1120.3 921.3,1121.6 922.8,1120.9 924.4,1120.9 925.9,1120.9 927.5,1120.9 929.0,1120.9 930.6,1120.9 932.1,1120.8 933.7,1120.9 935.2,1120.8 936.8,1120.6 938.4,1120.3 939.9,1120.4 941.6,1119.7 943.2,1119.0 944.9,1118.6 946.6,1117.4 948.3,1117.3 949.9,1116.5 951.6,1115.7 953.3,1116.7 954.9,1117.8 956.6,1118.4 958.2,1119.1 959.9,1119.9 961.5,1120.6 963.2,1121.6 964.4,1120.9 965.6,1120.9 966.8,1120.9 968.0,1120.9 969.2,1120.9 970.4,1120.9 971.6,1120.9 972.8,1120.9 974.0,1120.9 975.2,1120.9 976.4,1120.9 977.6,1120.9 978.2,1119.3 980.2,1119.3 979.9,1120.9 981.2,1120.9 982.4,1120.9 983.6,1120.9 984.8,1120.9 986.0,1120.9 987.2,1120.9 988.4,1120.9 989.6,1120.9 990.8,1120.9 992.0,1120.9 993.2,1120.9 994.4,1120.9 995.6,1120.9 996.8,1120.9 998.0,1120.9 999.2,1120.9 1000.4,1120.9 1001.6,1120.9 1002.8,1120.9 1004.0,1120.9 1005.2,1120.9 1006.4,1120.9 1007.6,1120.9 1008.8,1120.9 1010.0,1120.9 1011.2,1120.9 1012.4,1120.9 1013.6,1120.9 1014.8,1120.9 1016.0,1120.9 1017.2,1120.9 1018.4,1120.9 1019.6,1120.9 1020.8,1120.9 1022.0,1120.9 1023.2,1120.9 1024.4,1120.9 1025.6,1120.9 1026.8,1120.9 1028.0,1120.9 1029.2,1120.9 1030.4,1120.9 1031.6,1120.9 1032.8,1120.9 1034.0,1120.9 1035.2,1120.9 1036.4,1120.9 1037.6,1120.9 1038.8,1120.9 1040.0,1120.9 1041.2,1120.9 1042.4,1120.9 1043.6,1120.9 1044.8,1120.9 1046.0,1120.9 1047.2,1120.9 1048.4,1120.9 1049.6,1120.9 1050.8,1120.9 1052.0,1120.9 1053.2,1120.9 1054.4,1120.9 1055.6,1120.9 1056.8,1120.9 1058.0,1120.9 1059.2,1120.9 1060.4,1120.9 1061.6,1120.9 1062.8,1120.9 1063.5,1120.9" fill="none" stroke="#b472dd" stroke-width="2.8" stroke-linejoin="round" stroke-linecap="round"/>
<text x="565.8" y="1188.1" font-size="32" text-anchor="middle" font-family="Liberation Serif" textLength="155.6" lengthAdjust="spacingAndGlyphs" >Timestep/ps</text>
<text transform="translate(54.6,1011.8) rotate(-90)" font-size="32" font-family="Liberation Serif" textLength="240" lengthAdjust="spacingAndGlyphs">Number of FOX-7</text>
<rect x="184.7" y="613.5" width="741.1" height="39.2" fill="#fff" stroke="#111" stroke-width="1.6"/>
<line x1="188.2" y1="634.1" x2="252.5" y2="634.1" stroke="#4d4d4d" stroke-width="2.8"/>
<text x="259.2" y="643.2" font-size="29" text-anchor="start" font-family="Liberation Serif" textLength="74.7" lengthAdjust="spacingAndGlyphs" >FOX-7</text>
<line x1="339.6" y1="634.1" x2="404.6" y2="634.1" stroke="#f0434a" stroke-width="2.8"/>
<text x="410.9" y="643.2" font-size="29" text-anchor="start" font-family="Liberation Serif" textLength="96.1" lengthAdjust="spacingAndGlyphs" >Laycr0.8</text>
<line x1="513.0" y1="634.1" x2="578.0" y2="634.1" stroke="#1f68d8" stroke-width="2.8"/>
<text x="583.3" y="643.2" font-size="29" text-anchor="start" font-family="Liberation Serif" textLength="97.5" lengthAdjust="spacingAndGlyphs" >Laycr0.9</text>
<line x1="684.9" y1="634.1" x2="751.1" y2="634.1" stroke="#37ad6c" stroke-width="2.8"/>
<text x="756.8" y="643.2" font-size="29" text-anchor="start" font-family="Liberation Serif" textLength="43.8" lengthAdjust="spacingAndGlyphs" >s0.8</text>
<line x1="805.5" y1="634.1" x2="870.5" y2="634.1" stroke="#b472dd" stroke-width="2.8"/>
<text x="877.0" y="643.2" font-size="29" text-anchor="start" font-family="Liberation Serif" textLength="44.7" lengthAdjust="spacingAndGlyphs" >s0.9</text>
</svg></body></html>
